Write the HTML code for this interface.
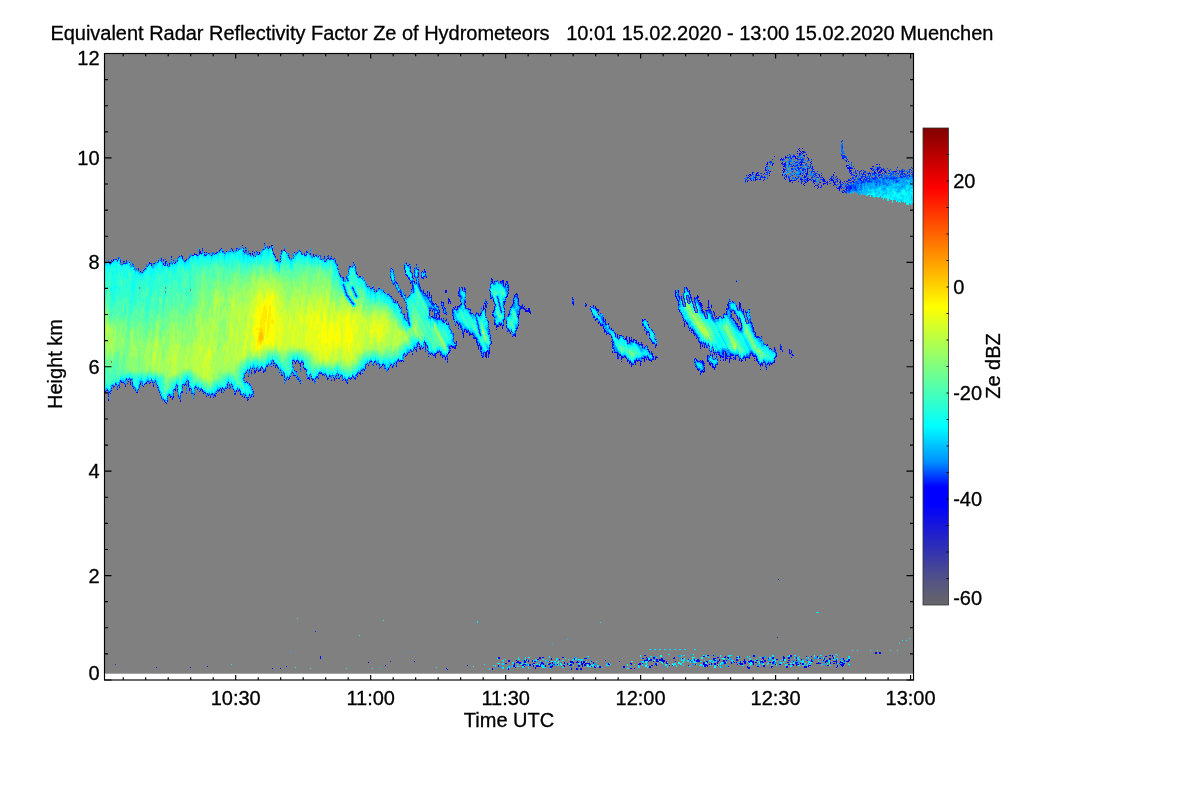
<!DOCTYPE html>
<html lang="en"><head><meta charset="utf-8"><title>Equivalent Radar Reflectivity Factor Ze of Hydrometeors</title>
<style>html,body{margin:0;padding:0;background:#fff}body{width:1200px;height:800px;overflow:hidden}svg{display:block}</style></head>
<body>
<svg width="1200" height="800" viewBox="0 0 1200 800"><defs><linearGradient id="cb" x1="0" y1="0" x2="0" y2="1"><stop offset="0.0000" stop-color="#800000"/><stop offset="0.1250" stop-color="#ff0000"/><stop offset="0.3750" stop-color="#ffff00"/><stop offset="0.6250" stop-color="#00ffff"/><stop offset="0.7000" stop-color="#0090ff"/><stop offset="0.7522" stop-color="#0000ff"/><stop offset="0.7889" stop-color="#0000ff"/><stop offset="0.8667" stop-color="#2828c0"/><stop offset="0.9500" stop-color="#545484"/><stop offset="1.0000" stop-color="#666668"/></linearGradient><!--DEFS--></defs>
<rect x="105" y="54" width="808.5" height="619.7" fill="#808080"/>
<g fill="none" stroke-width="1" shape-rendering="crispEdges"><path stroke="#3434b0" d="M115.5 664v1"/>
<path stroke="#2828c0" d="M156.5 667v1"/>
<path stroke="#1d1dd2" d="M190.5 667v1m17-2v1"/>
<path stroke="#1111e4" d="M784.5 164v1"/>
<path stroke="#0606f6" d="M272.5 668v1m8-1v1m88-7v1m35-302v1m3-42v1m1-56v1m2-2v1m0 30v1m3-23v1m2 2v1m0 384v1m2-311v1m1-6v1m1-4v1m2-57v1m1 2v1m10 17v1m0 7v1m1-7v1m1-8v1m0 13v1m1-5v1m0 1v1m2 1v1m3 0v1m0 32v1m6-62v1m1-1v1m0 377v1m1 0v1m1-372v1m0 2v3m1-5v1m1 1v1m0 1v1m0 44v1m2-39v1m0 36v1m3-42v2m0 39v1m1-39v1m1-2v1m2-4v1m1-2v1m0 21v1m2 3v1m3-26v1m1 2v1m0 23v1m1-1v1m2-24v1m0 23v2m7 4v1m1 3v1m2-29v1m2 36v1m2 0v1m2-49v2m0 2v1m0 43v2m4-5v1m1-16v1m0 2v1m1-60v1m0 62v1m1-64v1m0 2v1m4 43v1m6 1v1m2-27v1m1-19v1m2-4v3m0 11v2m1 363v2m0 6v2m1-10v2m3-357v1m1-3v1m3 26v1m1-37v2m0 32v1m0 332v2m1-365v1m0 15v1m0 3v1m0 342v2m1-351v1m0 349v2m1-358v1m0 355v2m4-356v2m0 351v2m1-2v2m1-355v1m0 1v2m0 347v2m3-351v1m0 1v1m1-1v2m2 350v1m7 1v1m1-2v2m2-10v1m1-1v1m6 5v2m1-2v1m3 0v1m1-1v1m16-4v2m0 1v1m1-1v2m0 3v1m7-8v1m3-2v4m1-2v2m0 1v1m1-4v1m1-6v1m3 4v1m1-1v1m1 1v1m2-5v1m0 4v1m5-358v1m1-1v1m6 11v1m1-1v1m1 338v1m3 2v2m3-329v2m1 6v1m5 7v1m0 1v1m2 0v1m0 305v1m2-305v1m6-17v1m2-4v1m0 2v1m4-2v1m1 327v1m1-329v1m1 19v1m2-19v1m1 1v1m1 16v1m4-4v2m0 1v1m0 293v1m1-1v1m1 1v1m1-312v1m1 2v1m0 9v1m0 301v1m1-2v1m1-301v1m0 298v2m1-301v1m1-8v1m1 307v1m2-305v1m1-1v1m0 302v2m1-2v2m2-3v2m1-2v2m1-3v2m1-2v1m2 1v2m2-1v1m3 3v1m6-376v1m0 3v2m0 365v1m3-361v2m1-7v2m5 28v1m3-37v1m1 368v1m1-368v2m1 1v1m0 364v1m1 0v1m4-328v1m1 0v1m0 324v2m1-365v1m0 62v1m0 299v2m1-2v2m1-2v2m1-318v1m1-41v3m1-2v1m0 1v1m0 3v1m0 33v1m0 15v1m1-51v1m0 49v1m0 1v1m1-17v1m0 15v1m0 1v1m1-56v1m1 354v1m1-359v1m0 47v1m0 3v1m0 301v2m0 2v2m1-364v2m0 1v2m1-1v1m0 55v1m2-58v2m1 59v1m1 287v1m2-339v1m5 38v1m3-1v1m0 2v2m0 299v2m1-2v4m1-312v3m0 1v1m0 305v2m1-353v1m0 1v1m2 344v1m1-297v1m2-8v1m2-38v2m0 37v1m1-38v1m0 341v1m1-342v1m0 1v1m0 33v1m1 301v2m1-2v2m2-358v4m0 1v1m1-4v1m0 1v1m0 21v1m1-21v1m1 1v1m1-2v2m6 45v1m1-3v1m2-30v1m1 1v2m0 25v1m0 299v2m1-301v1m0 298v2m1-324v2m0 1v1m0 325v1m1-1v1m4-2v2m1-2v1m2 0v1m1-490v1m3 190v1m5 292v2m1-2v2m0 2v2m1-316v2m0 312v1m2-308v1m7 304v2m1-496v1m4 498v1m1-316v1m0 1v1m0 1v1m0 310v1m2-314v1m0 5v1m2-3v1m0 309v1m2-4v2m1-7v2m0 1v1m0 1v2m1-513v1m3 511v1m2-513v1m0 511v2m6-485v1m0 484v2m1-4v1m0 1v1m1-1v1m6-3v1m3-1v1m1-1v1m3-4v1m7 1v2m2-9v2m1 0v2m3 0v1m1 5v2m2-4v1m3 2v1m1-9v2m1 3v1m4-4v2"/>
<path stroke="#0000ff" d="M105.5 262v1m2-1v1m0 127v1m2-129v1m0 129v1m1-130v1m0 129v1m1-134v1m0 129v1m1-130v1m1-3v1m2 124v1m1-1v1m1-125v1m0 128v1m2-3v1m1-7v1m1 0v1m1-1v1m1-122v1m0 120v1m1 0v1m2-5v1m2 1v1m1-120v1m1 121v1m1-6v1m2 8v1m3 3v1m2-4v1m2-6v1m2-113v1m0 112v1m1 0v1m1-3v1m1-117v1m0 114v1m1-1v1m1-118v1m1 114v1m1-120v1m0 120v1m1-121v1m2 118v1m2-120v1m0 118v1m3 4v1m6 11v1m1-135v1m1 136v1m1 0v1m1-3v1m4-146v1m1 142v1m2-137v1m1 126v1m4-135v1m1 144v1m4-141v1m1-2v1m1-2v1m3 130v1m6-137v1m0 132v1m1-1v1m1-133v1m3-5v1m0 138v1m1-2v1m3-138v1m1 2v1m1-4v1m0 143v1m2-144v1m0 141v1m3-141v1m3 139v1m1-143v1m0 142v1m1-4v1m3-144v1m0 139v1m1-142v1m0 138v1m1-141v1m1 2v1m2 138v1m2-140v1m0 136v1m1-2v1m4-140v1m0 135v1m1-136v1m4-2v1m0 142v1m3-2v1m1 3v1m2-150v1m3 1v1m0 125v1m0 8v1m0 12v1m1-24v1m1 27v1m1-25v1m0 22v1m1-147v1m0 141v1m1-143v1m0 131v1m0 11v1m2-147v1m1 3v1m0 135v1m0 4v1m1-145v1m1 3v1m3-3v1m1 115v1m1-1v1m3 1v1m3-7v1m1-1v1m2-121v1m2-2v1m3 117v1m2 1v1m1-107v1m1 108v1m3-119v1m0 124v1m1-1v1m3-125v1m0 128v1m1 285v1m2-288v1m1-2v1m4-19v1m0 14v1m1-124v1m0 108v1m0 8v1m0 4v1m1-1v1m1-5v1m0 5v1m1-126v1m1 109v1m0 16v1m1-17v1m0 17v1m1-131v1m1 110v1m2 4v1m2 1v1m1-119v1m1 126v1m1-1v1m1 0v1m3 0v1m1-127v1m0 124v1m1-124v1m2 120v1m2-122v1m2 399v3m1-400v1m0 113v1m3-118v1m1 4v1m0 112v1m1-116v1m0 116v1m1 2v1m1-2v1m1-3v1m2 3v1m2-122v1m1 120v1m2-3v1m4-104v1m1 99v1m1 4v1m1-104v1m0 101v1m2 0v1m4-3v1m1-113v1m1 111v1m1-3v1m1-115v1m1 115v1m2-4v1m1-102v1m0 101v1m2-4v1m1-98v1m3 92v1m1 0v1m3-85v1m1 78v1m1-4v1m1-2v1m2-75v1m2 74v1m1-2v1m1 2v1m2-2v1m1-76v1m1 78v1m1-2v1m1-2v1m3 2v1m0 296v1m2-372v1m3 1v1m0 68v1m1-86v1m1-12v1m0 97v1m1-84v1m0 14v1m1-17v1m0 18v1m0 60v1m3-81v1m0 17v1m1 58v1m1 0v1m1-68v1m1 1v1m0 10v1m1-12v1m2-2v1m3-20v1m1-12v1m2 1v2m0 14v1m1 5v1m1-14v1m0 77v1m2-85v1m0 4v1m0 5v1m0 66v1m2-69v1m0 1v1m0 64v1m1-79v1m1 3v2m1 69v1m0 1v1m0 1v1m1 0v1m1-78v1m0 4v1m0 68v1m1-76v1m0 76v1m1-77v1m0 18v2m2-22v1m2 19v2m1 63v1m1-65v1m0 1v2m0 14v1m2-16v1m0 4v1m0 52v1m2 1v1m1-52v1m1-2v1m0 50v1m0 1v1m1-53v1m0 11v1m1-11v1m1 45v1m1-41v1m1 42v1m1-54v1m0 2v1m0 48v1m1-53v1m0 4v1m1-6v1m0 2v1m0 3v1m0 8v1m0 2v1m1-15v1m1-17v2m0 20v1m0 6v1m0 36v1m0 1v1m1-46v1m0 4v1m0 36v1m1 2v1m0 1v1m1-39v1m0 28v2m1-54v2m2 43v2m1-36v1m0 3v1m1 0v4m0 18v1m0 7v2m1-27v1m0 26v1m1-24v1m0 20v1m1-25v1m0 18v1m0 3v1m1-40v1m0 2v1m0 13v1m1-31v1m0 1v1m0 10v1m1-1v1m0 17v1m1 0v1m0 1v1m1-25v1m0 25v1m1 3v1m1-1v1m0 1v3m1-50v2m0 40v1m1-42v1m0 11v2m0 3v2m0 21v1m1 0v2m1-1v1m0 333v1m1-336v2m1 3v1m1-2v1m1-22v1m0 20v1m1-22v1m0 20v1m1 0v1m0 1v1m1 0v1m2-1v1m0 2v1m2-28v2m1 29v1m1-32v1m0 32v1m0 1v1m0 1v1m1-1v1m0 1v1m0 1v1m1 1v1m1-52v3m0 47v1m1-54v1m1 8v1m0 42v2m1-56v1m0 3v1m0 48v2m1-53v1m0 16v1m0 30v1m1 0v2m0 2v1m1-28v1m0 18v1m0 4v1m1-60v2m0 2v1m0 38v1m1-60v1m0 2v1m0 16v1m0 42v1m0 1v1m1-63v1m0 15v1m0 14v1m0 355v2m1-369v1m0 8v3m0 3v1m1-14v1m0 3v1m0 1v1m0 7v1m0 5v2m1-1v1m1-44v1m0 43v1m0 1v1m1-3v2m1-1v1m0 338v2m1-343v1m1-1v1m1-1v1m1-44v1m0 43v1m1-44v1m0 1v1m0 36v1m1-3v1m1-21v1m0 1v1m1-21v1m0 15v1m0 27v2m1 4v1m1-45v1m0 1v2m0 39v1m1-19v1m0 1v1m0 16v1m1-25v1m0 1v1m1 21v1m2-34v1m0 3v1m0 32v1m0 329v2m1-372v1m0 1v1m0 37v1m0 327v4m1-373v1m0 36v1m0 4v1m1 325v1m1-336v1m1-28v2m0 15v1m0 7v1m1-21v1m0 3v1m0 3v1m2-8v1m0 1v1m3 357v1m3-357v2m1-3v1m0 1v1m0 348v2m1-353v1m0 354v2m1-2v2m3-3v1m1-1v1m1 3v2m1-4v2m1-2v2m1-2v2m1-10v2m1-2v2m0 5v1m3-2v2m2 0v2m4-6v1m2-4v2m1 2v2m7-5v1m5 6v1m3-4v2m4 3v1m1-372v1m0 5v1m1 0v1m1 353v2m2 2v1m0 5v2m1-8v1m0 5v2m3-2v2m1-2v2m3-6v2m1-360v1m0 357v2m1-362v1m3 358v1m1-355v1m2 4v1m2 2v1m0 348v2m1-361v1m0 12v1m3-10v1m0 2v1m0 8v1m1-3v2m0 343v2m1-343v1m0 340v2m1-343v1m1-2v2m1-7v2m0 5v1m0 1v1m1 1v1m1-12v1m0 4v1m0 5v1m1-7v1m0 7v1m0 1v1m1-2v1m1-1v1m1 0v1m0 329v1m1-331v1m1 6v1m1 0v1m0 3v1m1-17v1m0 17v1m1 3v1m1-19v1m0 17v1m1-1v1m1-19v1m0 2v1m1 20v1m1-24v1m0 1v1m0 16v1m1-20v1m0 18v2m1 0v1m0 1v2m0 1v1m2-5v1m1-2v1m1-19v1m0 17v2m1-22v2m1 2v1m0 20v1m1-2v1m1-21v1m0 1v1m0 20v1m1-3v2m0 305v1m1-332v1m0 1v3m0 21v2m0 1v1m0 301v1m2-305v1m1-26v1m0 22v1m1-2v2m0 1v1m1-25v1m0 1v1m1 17v1m1 303v1m1-2v2m1-321v1m0 18v2m0 298v2m1-321v1m1-20v1m0 18v2m0 1v1m0 10v1m0 304v1m2-345v1m0 27v1m1-20v1m0 17v1m0 10v1m1 1v1m0 299v2m1-340v1m0 10v1m0 24v1m0 301v2m1-329v1m0 24v1m1-31v1m0 10v1m0 20v2m2-32v1m0 11v1m0 19v1m1-8v2m0 3v1m1-17v1m0 15v1m0 297v2m1-316v1m0 313v2m1-320v1m0 7v1m0 10v1m1 306v1m1-309v1m5 301v1m0 1v1m1-2v3m3-1v2m6 1v1m1-8v1m1-2v2m1-363v1m1-1v1m1 2v1m1-10v3m0 7v1m0 3v2m1-8v1m0 11v1m2-15v1m2 0v1m0 22v1m1 0v1m1-2v1m1-34v2m0 33v1m1-34v1m1 37v1m0 337v1m1-336v1m1-3v1m1-32v1m0 1v1m0 30v1m1-30v1m0 28v1m1-1v1m0 1v2m1-37v1m0 37v1m0 26v1m0 296v2m1-303v1m1-21v1m0 20v1m1-65v1m0 41v1m0 31v1m0 289v1m1-364v2m0 2v1m0 37v1m0 2v1m0 28v1m0 288v1m1-318v1m0 26v1m1-66v2m0 36v2m0 4v1m0 25v1m1-72v1m0 4v1m0 63v1m1-64v2m0 60v1m1-10v1m0 2v1m0 290v1m0 7v1m1-319v1m0 20v1m0 3v1m0 284v1m0 7v3m1-323v1m0 321v1m1-357v1m0 36v1m1 8v1m0 4v1m1-17v1m0 15v1m1-52v1m0 53v1m0 299v1m1-300v1m1-61v1m0 45v1m0 11v1m1-17v1m0 7v2m0 6v1m1-53v1m0 54v1m1-54v1m0 1v1m0 37v2m0 14v1m0 290v1m1-309v1m0 13v1m0 293v1m1-297v1m1-6v1m0 297v1m0 3v1m1-308v1m0 302v1m0 3v1m1-346v1m0 38v1m0 303v2m1-304v1m0 2v1m1-44v1m0 38v1m1-1v1m1-41v1m0 37v1m0 2v1m1-45v1m0 343v1m1-301v1m0 1v2m1-53v1m0 3v1m0 1v1m0 40v1m0 304v1m1-305v1m0 1v1m1-55v1m0 1v2m0 358v1m1-368v1m0 58v1m1-4v1m0 2v1m1-44v2m1-16v1m0 8v1m0 7v1m1-17v1m0 52v1m0 3v1m1-48v1m1 0v1m0 42v1m0 1v2m1-37v1m0 333v1m1-342v1m0 1v1m0 5v1m0 30v1m0 301v1m1-331v1m1-21v1m0 10v1m0 40v2m0 295v2m0 5v1m1-361v1m0 18v1m0 35v1m0 302v2m1-339v1m0 3v1m0 334v2m1-305v1m0 302v2m1-356v1m0 2v1m0 348v1m1-305v1m0 301v3m1-304v1m0 302v1m1-487v1m0 136v1m0 44v1m1-1v1m0 308v2m2-359v1m0 352v1m1-484v1m0 141v1m0 338v2m1-482v1m0 142v1m0 29v1m0 306v2m1-307v1m0 305v2m1-336v1m0 2v2m0 329v4m1-307v1m0 1v1m1-183v1m0 156v1m0 20v1m1 0v1m0 1v1m1 1v1m0 304v1m1-305v1m0 303v1m2-488v1m0 184v2m1-30v1m0 26v2m1 0v1m0 291v2m1-479v1m0 181v1m0 294v2m2-489v1m0 193v1m0 1v1m1-203v1m0 1v1m0 178v1m0 23v1m1-207v2m0 179v1m2 19v1m0 297v1m1-492v1m0 176v1m0 14v1m0 298v1m1-314v1m0 14v1m1-2v1m0 302v1m1-305v1m1-14v1m0 11v2m1-13v1m0 6v1m0 306v1m1-312v1m0 1v2m2 222v1m1 84v1m1-319v1m0 2v1m0 314v1m2-491v2m0 175v1m1-188v1m0 1v1m0 2v1m0 1v1m0 484v3m1-2v2m1-503v2m0 21v1m1-4v1m0 489v2m1-6v1m0 3v2m1-8v1m0 1v1m1-483v2m0 478v1m1-308v1m0 301v2m1-2v2m1-475v1m0 481v1m1-1v1m1-509v1m1-1v2m1 0v1m1-6v1m0 508v1m0 1v1m1-1v1m3-485v1m1-33v1m1 2v2m1 23v2m0 7v1m1-5v1m1-28v1m1 505v1m1-503v2m3 20v1m0 475v1m0 2v3m1-496v1m0 494v1m1-481v1m1 4v1m3 476v1m1-2v2m1-488v1m4 3v1m0 2v1m1-5v2m0 477v2m1-479v1m0 474v1m0 4v2m1-481v1m0 473v1m4-479v1m1 0v1m1 0v1m1 0v1m0 479v1m0 1v1m1-3v1m0 1v1m1-3v1m1-2v4m0 3v1m1-480v1m3-3v2m0 473v2m0 1v1m1-1v2m1-3v1m1-1v1m1-4v2m2-481v1m2 477v1m1-492v2m0 489v2m1-493v1m25 483v2m1-2v2m3-2v2m1-2v2"/>
<path stroke="#0000ff" d="M105.5 391v1m3 4v1m0 2v2m3-13v1m1-4v1m1-126v1m2 122v1m3-126v1m0 126v1m2-6v1m3-118v1m2 122v1m5-5v1m2-1v2m0 2v1m3 3v1m2 1v1m1-124v1m2 1v1m0 111v1m3-114v1m3 111v1m1-2v1m2-119v1m1 118v1m1-119v2m2 119v2m4-2v1m2 6v1m2-135v1m2 1v1m0 2v2m1 135v2m1-140v2m1-3v1m1 3v1m0 130v1m0 3v1m2-138v1m0 130v1m1 1v2m1-2v1m2-1v2m1-9v1m1-128v1m0 126v1m2-1v1m1 5v2m1 1v1m1-6v1m0 6v1m1-9v1m1-137v3m0 128v1m0 3v2m2-8v1m1-2v1m1-4v1m2-1v1m0 1v4m1 1v2m1-2v1m2-134v1m1-1v1m1-2v1m0 133v1m0 5v1m1-9v1m1-133v1m1 134v1m2-138v2m1-2v1m1 0v1m1 136v2m1 1v1m1-2v1m3 0v1m4 0v1m1-2v2m1 2v1m1-4v1m1 0v1m2-144v1m2 136v1m2-1v2m0 1v1m1-6v2m5-5v1m1-3v1m1 5v1m3-139v1m0 135v1m1-136v1m0 137v1m1 1v1m0 1v1m1-1v1m1-144v1m0 139v1m3-2v1m1 1v1m2 4v1m1-149v1m0 144v1m1-142v1m0 124v1m0 19v1m1-148v1m1 130v1m0 15v1m1-28v1m0 11v1m1 14v1m1-28v1m0 13v1m0 9v1m2-23v1m0 23v1m1-144v2m0 113v1m0 20v1m0 4v1m2-25v2m1-1v2m1-3v1m1-119v1m1 117v2m1-120v2m1 114v2m1-3v1m1 0v1m1-120v1m0 121v1m1-129v1m1 3v1m0 120v3m3-123v1m1-2v1m2 115v1m1-119v1m0 2v3m1 2v1m0 107v1m0 1v1m0 1v1m1-112v1m1 1v1m0 110v1m1-108v1m0 103v1m1-105v1m3-5v1m0 4v1m0 108v1m1-118v1m3-4v1m0 125v1m0 2v1m4-125v1m2 120v1m2-15v2m0 8v1m3-11v2m1-3v1m1-2v1m0 15v1m1-16v1m2 1v1m0 1v1m0 14v1m0 2v1m1-131v1m0 107v1m1-108v1m0 107v1m1 0v2m1 3v1m1-114v1m1-2v1m0 116v1m0 2v1m1-123v1m1 124v1m2-125v1m1 122v1m1 2v1m1-125v1m2 122v1m2-3v1m1 1v1m1-6v1m1-1v1m1-2v1m1 1v1m1-1v1m4 3v1m1-121v1m1 0v1m0 115v1m1-118v1m1-1v1m2 118v1m1-120v1m0 119v2m1-120v2m0 114v1m1-2v1m1-111v1m1 108v2m0 2v1m1-106v1m1 2v1m3 2v1m4 102v2m1-113v1m1-6v1m1 112v1m5-114v1m0 111v1m1-107v2m1 99v1m2-98v1m1 95v3m1-5v1m4-4v1m5-80v1m1 72v1m3-1v1m2-71v1m3 72v1m3-1v1m1-74v1m0 72v1m1-73v1m0 72v1m4-72v1m0 73v2m2-99v1m0 5v1m1-10v1m0 27v1m0 67v1m1 1v1m1-96v1m0 93v1m1-89v1m1 3v1m0 3v1m0 14v1m1-19v1m0 79v2m0 2v1m1-65v1m1 56v1m1-54v1m1-15v1m0 15v1m0 51v1m1-1v2m1-2v1m1-47v1m0 40v1m1-91v1m0 1v2m0 31v1m0 13v1m0 2v1m0 35v1m1-84v3m0 1v1m0 81v1m1-94v1m0 11v1m0 33v1m0 45v1m1-81v1m0 38v1m0 38v1m1-76v1m1 0v1m1-9v1m0 10v1m0 67v1m1-79v1m0 8v1m0 69v1m1-75v1m0 7v1m1-8v1m0 70v1m1-68v1m0 64v1m1 1v1m1-86v1m0 18v1m0 66v1m1-74v1m1-9v1m0 6v1m1 8v2m1 2v2m0 57v1m1-74v1m1 1v1m1 0v1m0 68v1m1-79v1m0 1v1m0 4v1m0 16v1m0 48v1m1-71v1m0 1v1m0 68v2m1-68v1m1 17v1m0 51v1m0 2v1m1-54v1m0 53v1m1-59v1m0 14v1m0 4v2m1-18v1m0 12v1m0 43v1m1-58v1m0 1v1m0 1v1m1 1v1m0 12v1m0 37v1m1-46v1m1 4v1m0 40v1m1-3v1m0 3v1m1-45v1m0 1v1m0 37v1m1-41v1m0 4v1m0 33v1m1-46v1m0 4v1m0 1v1m1-5v2m0 3v3m2 1v1m1-12v1m0 46v1m0 1v1m1-55v2m0 5v1m1 2v1m0 8v1m0 33v1m1-49v1m0 49v1m1-68v1m0 20v1m0 10v1m1 30v1m0 3v1m1-60v1m0 24v1m1 21v1m0 1v1m0 2v2m1-24v1m0 20v1m2-42v1m0 2v1m0 33v1m1-40v1m1 0v1m0 38v1m1-3v1m0 2v1m1-28v1m0 20v1m1-36v1m0 14v1m1-31v1m0 31v2m0 2v1m1-40v3m0 4v1m1-1v1m0 4v1m1 2v1m1-17v2m1 44v1m1-31v1m0 24v1m0 1v1m1-41v1m3 17v1m1 22v1m1-24v2m0 2v1m2 19v1m3 3v2m1-26v1m0 26v1m0 1v1m1 1v1m1 0v1m0 1v2m1-5v1m1-32v1m0 34v1m1-1v1m1-39v1m1-2v1m1-2v1m1-6v2m0 5v2m0 40v1m1-51v1m0 4v1m0 43v3m0 2v2m1-8v1m1-30v2m0 31v1m1-65v1m0 42v1m0 17v2m1-69v1m0 2v1m0 3v1m0 4v1m0 47v1m2-31v2m1-17v2m0 14v1m1-35v1m0 26v1m0 1v1m0 11v1m1-19v1m0 18v1m1 5v1m2 327v2m1-2v2m1-378v2m0 42v1m1-45v1m0 41v1m1-44v1m0 46v1m1-48v2m0 1v1m0 1v1m0 19v1m0 14v1m0 3v2m1-25v1m0 1v2m0 3v1m0 2v1m0 2v1m0 1v1m1-32v1m0 377v1m1-368v1m0 24v3m0 3v1m0 335v1m1-377v1m0 6v1m1-10v1m0 7v1m0 20v2m0 13v1m2 3v1m1-28v1m1-3v1m0 31v1m1-37v2m0 32v1m1-39v1m1 37v2m0 331v1m1-375v2m0 33v1m0 331v1m1-364v1m0 16v1m0 1v1m1-18v1m0 15v2m0 5v1m0 1v1m1-11v1m1-7v1m1-2v1m1-3v1m0 359v1m1-359v2m0 355v2m1-360v1m0 353v1m0 3v1m1-356v3m0 352v1m3-357v1m0 1v1m1-3v1m0 2v1m3 348v2m1 3v2m1-6v1m1-1v1m2-3v1m1-1v1m3 2v2m1-2v2m6 0v1m2 1v2m1-2v2m1-3v2m5-3v1m5-8v1m1-1v1m0 7v1m1-4v2m0 1v1m5-1v1m1-1v1m1-5v2m1-364v1m0 361v2m1-364v1m0 2v2m0 358v2m4-3v1m1 3v2m1-2v2m3-2v1m1-5v2m1-2v2m1-360v1m0 1v1m0 352v1m0 4v1m1-359v1m0 352v1m0 4v1m3 0v1m1-359v1m0 357v1m1-354v1m2-7v2m0 10v1m0 344v2m1-348v1m1-11v1m0 12v1m0 347v1m1-360v1m0 1v1m0 8v1m1-10v1m0 7v1m1-10v2m0 11v1m2 1v1m3-8v2m0 8v1m1 1v1m0 1v1m1-12v1m0 1v2m0 7v1m3-9v2m1 2v2m2-1v2m1 0v1m0 8v2m0 10v2m1-11v1m0 1v1m1 5v1m1-18v1m0 1v2m2-1v1m0 16v1m0 1v2m0 1v1m4-24v1m1 21v1m1-20v1m0 327v2m1-2v2m1-329v1m1-2v2m0 18v1m1-16v1m0 16v1m2-24v1m0 1v1m0 22v1m1-23v1m0 322v1m1-299v1m0 297v2m1-324v1m0 22v1m1-26v1m0 1v1m1 19v1m1-20v1m1-2v1m0 17v1m2-17v1m0 16v1m1-1v1m1 4v1m1-24v1m0 18v1m1-43v3m0 2v1m0 333v1m1-339v1m0 3v1m0 33v1m0 299v1m1-332v1m0 29v1m0 2v1m0 299v2m1-2v1m1-330v2m0 1v1m1 14v1m0 308v1m1-335v2m0 5v1m0 26v1m1-25v2m0 15v2m0 313v2m1-329v1m0 326v2m1-315v1m0 305v2m0 4v1m1-336v1m0 11v2m0 12v1m0 308v1m1-310v2m2-13v1m0 13v1m0 303v2m1-321v2m0 313v1m0 3v2m1-6v1m1 1v1m3-2v1m1-1v1m5 2v1m8-373v3m1-2v1m0 4v2m1 1v1m1-5v1m0 12v1m1 1v1m2-14v1m0 14v2m1 0v1m0 1v1m0 340v1m2-370v1m0 1v2m0 30v3m1-5v1m1 1v1m1-1v2m2-35v2m1 2v1m0 1v2m0 29v1m1-28v1m0 31v1m1-4v1m1 1v1m1-34v1m0 1v1m0 32v1m0 25v1m1 6v1m0 297v1m1-368v1m0 62v1m1-65v1m0 1v1m0 62v1m1-61v1m0 67v1m1-70v1m0 1v1m0 1v1m0 36v1m0 19v1m1-60v2m0 2v1m0 38v2m0 13v1m0 10v1m0 1v1m1-64v1m0 32v1m0 17v1m0 9v1m1-60v1m0 33v1m0 13v1m0 1v2m0 6v1m1-29v1m0 21v1m0 4v1m0 1v2m0 289v2m1-296v1m0 1v1m0 291v2m1-321v1m0 320v2m1-5v1m0 2v1m1-355v1m0 46v2m0 1v1m0 294v1m1-356v3m0 57v1m0 294v1m1-310v1m0 3v1m0 11v1m1-8v1m0 7v2m1 298v2m1-301v3m1-17v1m0 1v1m0 14v1m0 290v2m1-346v1m0 52v2m0 289v2m0 3v2m1-307v1m0 6v1m0 1v1m0 290v1m0 4v2m1-349v1m0 1v1m0 35v1m0 1v1m1-39v1m0 33v1m0 7v1m0 3v1m0 297v2m0 1v1m1-349v2m0 33v1m1 1v1m1 0v1m2-3v1m0 3v1m1-41v1m0 34v2m2-3v1m0 3v1m0 2v1m0 297v2m1-349v1m0 44v1m0 3v1m1-55v2m0 351v1m1-356v2m0 1v1m0 2v1m0 348v1m1-357v1m0 54v1m0 2v3m1-51v1m0 42v1m0 2v1m1-47v2m0 1v1m0 39v1m0 3v1m0 303v2m1-309v1m1-46v1m0 9v1m0 340v1m1-349v1m0 44v1m1-37v1m0 32v1m1-75v1m0 24v1m0 8v1m0 39v1m0 306v1m1-355v2m0 7v1m0 5v1m0 2v1m0 337v1m1-345v1m0 5v1m0 1v1m0 27v1m1-55v1m0 23v1m1-23v1m0 1v1m0 13v2m0 6v1m0 334v2m1-355v1m0 12v1m0 1v1m0 34v2m2-5v2m1 303v2m1-483v1m0 175v1m0 1v2m0 301v2m2-483v1m0 174v1m1-182v1m0 1v1m0 179v1m0 303v1m0 5v2m1-495v1m0 1v1m0 135v1m0 45v1m0 302v1m0 5v2m1-495v2m0 146v1m0 30v1m1-32v1m1-151v2m0 151v1m0 27v2m1 1v1m1-2v1m1-179v1m0 1v2m0 151v1m1-160v3m0 3v1m0 157v1m0 18v1m0 1v1m0 1v1m0 299v1m1-489v2m0 1v1m0 160v1m0 22v2m0 299v1m1-486v1m0 161v1m0 23v1m0 1v1m1-185v1m0 157v1m1 31v1m2-6v1m0 296v2m1-4v1m0 5v2m1-490v1m0 184v1m0 297v2m0 3v2m1-500v1m0 1v1m0 490v2m1-492v1m0 1v1m0 194v1m1-206v1m0 182v1m0 17v1m1-194v1m0 192v1m0 294v1m1-486v1m0 1v1m0 172v1m0 16v1m2-3v1m0 302v2m1-504v2m0 496v2m1-501v1m0 499v1m1-508v1m0 194v1m0 6v1m0 1v1m1-9v1m1 306v1m1-1v1m3-501v1m0 188v1m1-191v1m0 4v1m0 182v1m0 2v1m1-191v1m0 2v1m0 1v1m0 5v1m1-3v1m0 3v1m1-10v1m0 2v1m0 2v2m0 7v1m1-15v1m1-8v1m0 17v1m2 481v2m1-496v1m0 15v1m0 170v1m0 1v1m0 304v2m1-479v2m1-24v1m0 21v1m0 171v1m1-187v1m0 187v2m1-200v1m0 8v1m0 495v1m1-482v1m1-23v1m0 18v1m0 2v1m1 483v2m1-508v1m1-10v1m0 17v1m0 13v1m1-34v1m0 1v1m0 2v2m1-4v1m0 1v1m0 8v1m0 1v2m0 7v2m0 4v1m1-28v1m0 9v3m0 14v1m0 3v1m0 475v1m1-507v1m0 16v1m0 4v1m0 3v1m1-25v1m0 13v1m0 14v1m0 478v2m1-510v1m0 27v1m0 482v2m1-492v1m0 5v1m0 483v2m1-495v3m0 480v1m0 9v2m1-511v1m0 10v2m0 1v3m0 4v4m2-3v1m1-18v1m0 16v1m1-19v1m0 1v1m1 3v1m1 12v1m0 1v1m1-2v1m0 1v1m1 1v1m2-1v1m0 2v1m0 467v2m1-474v1m0 1v2m1-13v1m0 482v1m1-477v1m0 4v1m0 470v1m1-484v1m0 9v1m1-9v1m1 0v2m0 1v1m0 2v1m1-4v1m0 1v1m1-1v1m1 476v2m1-480v1m0 1v1m0 475v2m0 3v1m1-1v1m1-487v1m0 475v1m0 2v2m1-5v1m0 2v2m1-482v1m0 1v1m1-5v1m0 2v1m1-6v2m0 4v1m0 1v1m0 2v1m1-14v1m0 9v3m1-1v1m1-9v1m0 2v1m1-2v1m0 1v2m1 6v1m1-7v1m0 3v5m1-10v2m0 2v1m1 0v1m0 1v1m0 473v1m1-505v1m0 33v1m0 469v1m0 1v2m1-508v1m0 31v1m0 1v1m0 471v2m1-485v1m0 9v1m2-31v1m0 3v2m0 20v3m0 471v1m1-481v1m0 6v1m0 472v1m1-501v1m0 6v1m0 11v1m1-14v1m0 2v1m1-4v1m0 2v2m0 1v1m0 6v1m0 5v3m1-21v1m0 3v1m0 14v2m1-21v1m0 12v1m1-1v2m1-8v1m2-3v1m0 1v1m4 3v1m1-10v1m0 9v1m2-8v1m2 3v1m3-5v1m1-1v1m1-6v1m1-1v2m1-4v1m0 1v1m1-3v1m0 11v1m1-8v3m1-2v1m1-9v1m1-1v1m0 3v3m1-3v2m0 2v1m1-9v1m0 6v2m0 2v1m1-6v1m0 1v1m1-4v3m1-3v1m1 0v1m1 0v1m1-1v2m9-2v1m1-1v1m1-1v1m6-1v1"/>
<path stroke="#0034ff" d="M106.5 390v1m1-2v1m1 2v4m1-133v1m1 127v1m3-6v2m1-2v1m1-128v1m1-1v1m1 126v1m2-2v1m1-126v3m1 118v1m1-118v1m2-4v1m0 1v1m1-1v1m0 120v2m1-126v4m0 114v1m1 4v1m1-5v1m1-2v1m1 0v2m0 2v1m2 0v1m1-121v1m0 1v1m1 120v1m3 2v1m1-123v1m1 116v1m0 1v1m3-5v1m2-115v1m4-5v1m3-3v1m0 115v2m2-118v1m0 120v1m2-5v2m1 2v1m1-123v1m1-3v2m0 125v1m0 1v2m2-131v1m0 133v2m1-137v1m0 1v1m0 135v2m2-140v1m2-1v1m0 1v1m0 2v2m2-2v1m0 133v1m1-4v1m1-132v1m0 130v1m2-139v1m0 1v1m1 3v1m0 133v2m1-139v1m0 132v1m2-8v1m0 1v1m1-5v2m1-126v2m0 123v3m0 2v2m1-135v1m2 137v2m1-142v1m0 135v1m1-8v1m1-1v1m2-2v1m1 1v1m0 7v1m2-12v1m1-126v1m2 131v1m0 3v1m1-1v1m2-141v1m4 133v1m1-139v3m0 2v1m0 136v1m1-139v1m0 135v1m2-142v3m0 138v1m1 1v1m1-138v2m1 136v2m1-140v1m1 139v1m2-1v1m1 1v2m2-144v1m1-2v1m1 0v1m1 138v1m1-142v2m0 137v1m1-2v1m1-1v2m1-141v1m2 139v1m2-141v1m0 137v1m0 2v1m1-140v1m1 133v2m2-4v1m2-2v2m1-135v1m0 135v1m4 6v1m1-1v1m2-147v1m0 139v1m1-140v1m0 140v2m1-143v1m1 142v2m1 0v1m2-145v2m1 123v1m0 20v1m1-146v1m1-2v1m1 146v3m1-149v1m1 117v1m0 2v1m0 10v1m1-130v2m0 112v1m1 1v1m0 2v1m0 13v1m0 6v2m2-4v2m1-26v1m0 3v2m2-123v1m0 116v2m5-4v1m1 0v1m2 2v2m3-126v2m0 117v1m1-2v1m2-1v1m1-119v1m0 115v1m0 3v1m2-115v1m0 1v1m0 105v1m1-106v1m1 1v1m0 2v1m0 104v2m2-1v2m2 4v1m1-115v2m1-9v1m0 120v1m0 1v1m2-125v1m1-2v1m0 123v3m0 1v1m2 0v2m1-3v1m2-121v2m0 118v1m2-5v1m1-14v1m1-106v1m0 111v1m0 5v1m2-120v1m1-2v1m0 106v1m1 18v1m1-2v1m1-129v1m1 113v1m0 1v1m0 1v2m4-117v3m0 113v1m1-2v1m1-117v1m0 117v1m3 4v1m0 1v2m1-125v1m0 119v1m1 3v1m2-123v1m1 123v2m1-127v1m0 125v1m0 249v1m1-377v2m1 120v1m1-3v1m1-4v1m1-117v1m2 118v1m2-119v2m0 2v1m0 113v1m2-1v1m1-120v1m0 1v1m0 118v1m1-123v1m0 1v1m2 1v1m0 116v1m1-121v1m1 2v1m0 115v1m3-114v1m2 1v1m0 3v1m1 0v1m1 4v1m0 103v1m1-3v1m2-100v1m0 98v1m1-99v1m0 1v1m0 3v3m1-1v4m0 88v1m1-90v4m0 86v1m1-104v3m0 13v4m0 85v2m1-105v3m0 14v2m0 82v2m1-101v1m0 15v2m0 79v2m1-112v1m0 30v2m1-1v2m1 0v2m0 74v1m1-112v1m0 20v2m0 13v2m0 71v1m1-88v3m0 12v2m0 71v2m1-114v2m0 25v2m1-26v2m0 24v3m0 79v1m0 1v1m0 1v1m1-85v2m0 77v1m1-1v1m1-3v1m4-3v1m0 2v1m2-94v1m0 88v1m1-5v2m0 1v1m1-85v1m0 79v1m1-2v1m2-78v1m2 1v1m1 75v1m1-78v1m0 75v1m0 1v1m1-77v1m0 1v1m2-2v1m2-3v1m1 76v1m0 2v1m5-1v1m3 1v1m2-76v1m1-22v1m0 1v1m0 384v1m2-381v1m0 16v1m1-16v1m1-5v1m0 2v1m1 18v2m1-20v1m0 4v1m0 76v1m1-6v2m1-77v1m0 5v2m0 11v2m1-15v1m0 15v1m1-19v3m1 0v4m0 16v1m1-18v1m1 2v1m0 55v1m1-89v1m0 2v1m0 46v1m1-22v1m0 6v1m1-29v1m0 29v1m0 1v3m1-12v1m0 14v2m0 1v4m0 35v1m1-78v1m0 18v1m0 20v7m0 28v1m1-75v1m0 43v4m0 26v1m1-87v1m0 3v1m0 9v1m0 68v1m1-68v1m0 8v1m1-17v1m0 4v5m0 1v3m0 62v1m0 1v1m1-73v1m0 3v8m0 57v1m1-83v1m0 2v2m0 1v1m1 2v1m1-11v2m0 10v1m0 69v1m1-6v2m1-76v1m0 1v1m0 2v1m0 3v1m0 1v1m0 1v2m0 57v1m1-59v1m0 3v1m1 58v1m1-72v1m0 14v1m0 53v1m1-68v1m1-3v2m0 12v1m0 2v1m1-24v1m0 24v1m0 45v1m1-67v2m0 16v3m0 46v1m0 2v5m0 1v1m1-76v1m0 18v2m0 48v1m1-52v1m0 1v3m0 46v2m1-49v2m0 53v1m1-57v1m0 2v2m0 9v1m0 3v1m0 37v1m1-53v2m0 5v1m0 44v1m1-58v1m0 6v2m1-3v1m0 1v2m0 5v1m0 5v1m0 35v1m1-50v3m0 1v1m0 9v1m1-12v1m0 1v4m0 3v3m0 35v1m1-47v2m0 7v2m0 36v1m1-50v1m0 2v2m0 3v1m0 4v1m1-10v3m0 6v1m0 31v1m1-46v1m0 2v1m0 3v1m0 3v2m1-5v1m0 4v1m1 32v3m1-54v1m0 1v1m0 14v1m1-14v1m0 14v2m0 34v1m1-45v1m0 7v1m0 1v1m0 32v2m1-49v1m1 2v1m1-20v1m0 27v1m0 3v1m0 30v1m1-32v1m0 31v1m0 5v1m1-63v1m1 27v1m0 18v1m0 2v1m1-49v1m0 43v1m1-16v1m1-19v1m1-2v2m0 19v3m1-27v1m0 9v1m0 22v2m1-1v1m1-34v1m0 32v2m2-54v1m1-5v2m0 4v3m0 27v1m1-29v1m0 4v1m1-14v1m0 10v1m0 27v3m1-42v1m0 2v1m0 40v2m1-1v1m1-46v1m0 3v1m0 8v4m1-12v1m0 4v1m0 10v1m2-1v1m1-1v1m1 3v1m1-1v1m0 20v1m3-20v1m0 23v1m1-3v2m1-24v3m1-5v1m0 4v4m1-8v1m0 6v5m0 14v1m0 1v2m0 2v1m1-33v1m0 10v6m0 16v1m0 2v1m1-21v5m0 9v1m1-29v1m0 17v3m0 10v1m1-39v1m0 3v2m0 33v1m0 1v1m1 6v1m1-52v1m0 46v1m0 1v2m1-4v1m1-52v1m0 5v1m0 6v2m1-10v1m0 10v1m2 6v1m0 1v1m0 4v1m0 1v2m0 16v1m0 3v1m0 1v1m1-28v2m0 13v1m0 1v1m0 1v1m1-57v1m1-11v1m0 13v1m1-18v1m1 2v1m0 30v1m1-33v1m0 19v1m0 3v1m0 13v2m1-17v1m2-26v1m0 15v3m1-1v5m0 22v1m1-24v5m0 15v2m1-18v5m1-28v1m0 26v3m1-31v1m0 43v1m1-26v2m0 16v1m1-34v1m0 22v1m0 5v1m0 2v1m1-36v1m0 2v1m0 10v1m1-16v1m0 1v1m1 0v1m0 5v1m0 36v1m1-43v1m0 1v1m0 3v1m0 23v1m1-6v1m0 1v1m0 16v1m1 1v1m1-26v1m1 24v1m1-34v1m1 0v1m0 1v1m0 30v2m1-39v1m0 33v1m0 2v1m1-38v1m1-1v1m0 1v1m1 3v4m0 5v1m1-2v2m1-5v1m0 1v1m2-6v1m0 1v3m8 2v1m42-14v1m0 2v2m1-2v1m0 3v1m17 2v1m1-2v1m0 2v1m1-4v1m0 5v1m1-6v1m0 7v1m2-9v1m1 9v1m1-7v1m0 6v1m3-7v1m0 9v1m2-5v1m1 2v1m0 1v1m1 7v1m1-12v1m1 11v1m2-2v1m4 10v1m0 1v1m0 1v2m1-8v1m0 3v1m0 1v1m1-16v1m0 16v1m3-15v1m1 2v1m0 14v2m0 1v2m4-22v1m0 19v1m1-21v1m1 2v1m0 15v1m2 1v1m1 1v1m1-17v1m1 17v1m5-2v1m1-1v1m0 2v1m1-21v1m0 14v1m1-16v1m0 17v1m1-18v1m1 0v1m1 16v1m1-20v1m0 1v1m0 12v1m1-36v1m0 22v1m1-22v1m1 3v2m0 17v1m0 7v1m1-38v1m0 7v1m0 28v1m1-28v1m0 3v1m0 11v1m0 12v1m1-28v1m0 15v1m0 7v2m1-7v2m2 6v1m1-19v1m0 10v2m0 1v1m1 3v1m1-27v1m0 9v1m0 15v1m1-26v2m1 11v1m0 9v1m1-16v1m0 14v1m21-63v1m1-1v2m0 7v1m1-5v1m0 4v1m1 7v1m1-16v1m0 1v2m1-1v5m1-11v3m0 1v1m0 5v3m0 11v2m1-33v2m0 1v1m0 7v5m0 3v1m0 15v1m1-21v5m1-12v5m1-12v1m0 2v1m0 3v1m0 3v4m1-12v1m0 3v3m0 5v1m0 22v1m1-33v1m0 2v5m0 1v1m0 24v1m1-28v2m1-5v1m0 30v1m1-28v2m1 0v4m1-9v1m0 1v2m0 4v4m0 23v1m0 25v1m1-63v2m0 2v4m0 5v2m0 20v1m0 28v1m0 1v1m1-67v1m0 7v3m0 3v1m0 23v1m0 28v3m1-69v2m0 8v4m0 55v1m1-32v1m0 1v2m0 20v1m1-59v1m1 43v1m0 14v1m1-22v2m0 19v1m0 7v1m1-27v1m1-33v1m0 30v1m1-32v5m0 26v3m0 23v1m1-54v3m1-8v4m0 3v1m0 26v2m1-33v5m0 28v1m1-43v1m0 3v2m0 33v1m0 10v1m1-47v1m0 1v2m0 35v1m0 7v1m1-48v3m0 1v1m0 37v1m0 2v1m1-44v3m0 2v1m1-3v5m0 35v1m1-43v1m0 4v3m0 29v1m0 9v1m1-48v1m0 6v1m0 32v1m1-35v1m0 45v1m1-12v1m0 3v1m1-7v1m0 11v1m2-12v2m1-38v1m1 38v1m1-38v1m0 32v2m0 1v1m1-41v1m0 35v2m0 3v1m1-42v1m0 36v1m1-38v1m1 38v1m0 2v2m1-50v2m0 4v1m0 40v1m1 0v1m1-54v1m0 3v1m1-7v1m0 8v1m0 5v2m0 35v1m0 2v1m1-39v1m1 35v1m1-1v1m1-44v1m2-7v1m0 18v1m1 0v1m1-16v1m0 8v1m0 34v1m1-46v1m0 7v1m0 11v1m0 28v1m1-29v1m1-23v1m0 17v2m0 1v1m0 29v1m1-2v1m1-46v2m1 0v3m0 38v1m1-177v1m0 130v2m0 5v4m1-143v1m0 133v4m0 5v2m0 31v1m1-179v2m0 1v1m0 131v1m0 4v3m0 3v1m1-144v1m0 139v4m1-146v1m0 136v1m0 3v1m0 35v2m1-179v1m0 140v1m0 34v1m1-180v1m0 148v1m0 1v1m0 25v1m1-179v1m0 152v2m1-157v1m0 6v2m1-4v1m0 153v1m0 2v1m1-160v2m0 177v2m1-179v1m0 158v1m1-158v1m0 157v1m1-166v1m0 1v1m0 161v1m1-162v1m0 188v1m1-192v1m0 3v2m0 159v1m0 27v1m1-194v1m0 1v3m0 162v1m0 21v1m1-187v2m0 185v1m1-190v1m0 2v1m0 165v1m0 16v1m1-185v1m0 2v1m0 164v1m0 16v1m1-194v1m0 8v1m0 166v1m0 18v1m1-190v1m1-9v1m0 5v1m0 1v1m0 3v1m1 183v1m1-201v1m0 8v1m1-11v2m0 199v1m1-202v2m1-4v1m0 3v1m3 185v1m0 6v1m2 280v1m3-478v1m0 183v2m0 1v1m1-189v1m0 187v1m1-188v1m0 2v1m0 186v1m1-193v2m1 11v1m0 3v1m0 1v1m1-20v1m0 3v2m0 1v3m0 1v1m0 4v1m0 1v1m1 0v1m1-23v1m0 1v1m1-1v1m0 18v2m1-24v1m0 6v2m0 1v1m0 12v2m1-24v4m0 5v1m1-1v1m0 1v1m0 1v2m0 180v1m0 3v1m1-199v1m0 11v2m0 1v1m0 3v1m0 4v1m1-26v1m0 24v1m1-26v1m0 5v1m0 4v1m0 7v1m1-13v1m0 2v2m0 2v1m1-8v1m0 2v1m0 4v1m0 7v2m1-24v1m0 2v1m0 2v1m0 1v2m0 1v2m0 9v1m1-22v1m0 1v1m0 8v2m0 6v2m1-23v1m0 3v1m0 2v2m0 4v2m0 4v1m1-21v1m0 4v1m0 1v1m0 5v2m0 9v1m1-20v3m0 3v1m0 1v1m0 10v1m0 2v2m1-25v5m0 6v1m0 3v1m0 7v1m1-23v1m0 2v1m0 5v1m0 1v1m0 6v1m1-27v2m0 3v1m0 5v1m0 6v1m0 5v1m0 4v2m1-30v1m0 11v1m0 4v3m0 1v1m0 3v1m0 1v1m1-17v1m0 12v1m0 2v2m0 1v1m1-13v1m0 3v1m0 2v1m1-18v1m0 5v1m0 1v1m0 9v1m1-11v1m1-5v4m1-9v1m0 8v1m0 2v2m0 4v2m1-11v4m0 4v2m0 1v1m1-11v1m0 1v1m0 3v1m1-5v2m0 1v1m0 1v1m0 3v1m1-8v3m0 4v2m1-9v1m0 1v1m0 1v1m0 7v1m1-15v1m0 5v1m1-4v1m0 2v1m1-4v1m0 7v1m1-6v1m0 1v1m1-7v1m0 3v1m0 1v1m0 6v2m1-9v2m5 0v1m0 1v1m2-3v1m1-2v1m0 2v1m1-8v2m2-1v2m2-2v1m0 3v2m1 2v1m0 1v1m2-1v1m1-9v1m1 0v1m0 2v2m1-44v1m0 12v2m0 28v1m1-45v1m0 5v2m0 7v3m0 24v1m0 1v1m0 2v1m0 3v1m1-37v3m0 25v1m1-29v3m0 32v1m1-35v2m0 2v1m0 22v1m0 1v2m0 2v1m0 1v2m1-35v1m0 1v1m0 25v1m0 3v1m0 1v1m1-34v1m0 5v1m0 1v2m0 14v2m0 1v2m0 2v1m1-26v1m0 1v1m0 11v1m0 2v1m0 1v7m1-25v1m0 4v2m0 6v2m0 1v1m0 2v7m1-14v1m0 3v1m0 2v1m0 3v1m1-28v1m0 4v1m0 2v1m0 2v3m0 3v1m0 2v1m0 2v2m1-13v1m0 2v2m0 6v1m1-20v1m0 5v1m0 2v1m0 1v2m0 5v1m0 1v2m1-20v1m0 10v2m0 1v1m0 3v3m1-19v4m0 2v2m0 1v1m0 5v5m1-14v1m0 4v2m0 6v1m1-20v1m0 12v1m1-5v1m0 3v1m1-13v4m0 3v2m1-9v1m0 6v1m0 1v1m0 4v1m1-13v1m0 2v3m0 2v3m1-10v4m0 3v2m1-13v1m0 1v1m0 1v1m0 1v1m0 2v4m1-12v2m0 1v1m0 1v1m0 1v2m0 2v1m1-12v2m0 1v3m0 2v2m1-4v4m1-8v1m0 4v1m0 2v1m1-8v1m0 3v1m0 1v2m1-10v1m0 3v6m1-9v3m0 5v1m1-1v1m1-12v1m0 2v2m0 2v2m1-10v2m0 2v1m0 5v1m1-6v1m0 2v3m1-7v1m0 1v5m1-11v1m0 3v1m0 3v1m0 4v1m0 1v1m1-18v1m0 3v1m0 6v1m1-12v1m0 5v1m0 1v2m1-10v2m0 5v1m0 2v1m0 3v1m1-15v1m0 3v1m0 2v1m0 2v1m1-10v1m0 5v2m0 1v1m1-5v1m1-6v2m0 8v2m1-11v1m0 3v1m0 4v1m1-9v1m1 1v1m0 4v2m1-11v1m0 8v1m1-8v1m0 2v1m1-4v2m0 1v1m0 4v1m1-10v1m0 5v1m0 2v1m1-6v2m0 2v2m1-1v1m1-8v3m0 3v3m1-3v2m1-7v1m0 1v1m0 3v1m1-10v1m0 3v1m0 3v2m0 1v2m1-15v1m0 13v1m1-9v1m1-4v3m1-2v1m0 2v4m1-8v5m0 1v2m1-9v2m0 1v3m0 2v1m1-7v1m0 1v1m0 1v2m1-7v1m0 2v2m0 1v1m1-3v3m2-5v2m0 1v1m1-1v1m1-7v1m0 1v2m0 1v3m1-8v1m1-3v1m0 2v1m0 1v1m1-5v1m0 4v4"/>
<path stroke="#0071ff" d="M108.5 259v1m0 1v1m0 128v2m0 6v1m1-8v1m1-128v1m0 125v1m1-130v1m0 123v1m0 1v1m2-3v1m1-127v1m3 1v1m0 125v2m1-132v1m0 1v1m1-3v1m0 125v2m0 1v1m1-128v1m0 4v1m1-1v1m2-3v1m2 117v1m2-1v1m2-2v1m1-116v1m0 116v1m2-119v3m0 113v1m0 5v1m1 0v2m1-120v2m1 118v2m1-122v2m1 121v1m1-122v1m1 113v1m0 1v1m1-6v2m1-111v1m0 108v1m4-113v1m1-6v3m2-3v1m1 116v2m3-2v1m1 0v2m2-122v1m1 120v1m3 6v2m2-132v1m0 135v1m1 2v2m4-138v1m0 138v1m1-6v1m0 1v1m1-134v1m1-2v2m1-4v1m0 131v1m1-134v1m2-1v1m0 126v3m0 2v2m2-135v1m2-4v1m1 135v1m0 2v1m2-1v3m1-144v1m1 129v1m0 1v2m1-131v2m1 123v1m1-124v1m1-2v1m0 123v1m0 3v1m0 1v1m0 1v1m1-13v1m1-123v1m0 121v1m1-125v1m1-2v2m1-3v1m0 135v3m2 0v1m0 1v1m0 2v1m1-12v1m0 4v2m2-139v1m1 132v1m1-134v1m0 132v1m1 0v1m2-136v1m0 133v1m1-138v1m0 1v1m1 138v1m3-138v1m0 139v1m2-2v1m1-142v1m0 139v1m1 1v1m2-144v2m1-2v1m0 142v2m4-8v1m3-140v1m2 1v1m1 135v1m1 0v1m3-7v1m0 2v1m2-136v1m0 134v1m1-1v1m2 1v1m2 1v1m1 0v2m1-144v1m1 139v1m1-140v1m4-4v1m0 147v1m1-18v3m0 13v1m1-19v1m0 3v1m0 14v1m1-148v1m0 3v1m0 141v1m1-147v1m0 3v1m1 1v1m0 114v1m0 13v1m1-131v2m0 118v3m1-5v1m1-5v1m1 3v1m0 2v1m0 11v1m1 4v1m1-25v1m0 27v1m1-143v1m1 116v1m1-117v1m1-2v2m0 112v1m2 1v1m3-121v1m1 119v2m1-127v2m0 3v1m1-2v1m0 118v1m0 3v1m1-7v1m2-3v1m1 1v1m2-119v1m1 112v1m2 1v1m3-102v1m0 103v1m1 1v1m2 1v1m1-116v1m1-4v1m1 120v2m1-126v1m0 131v1m0 1v2m2-132v2m1 122v1m1-124v1m0 2v2m0 119v2m1-3v1m2-119v2m1 104v1m0 1v1m0 4v1m1-115v2m1 101v1m1 10v1m1 0v1m1 5v1m1-128v1m1 125v1m0 2v1m1-11v2m0 9v1m1-130v1m0 1v1m2 107v1m0 3v1m3-112v1m0 113v1m1-119v1m0 124v1m2-123v1m1-5v1m2 6v1m0 120v1m2 3v2m1-5v1m1-126v1m0 121v1m2-4v1m0 3v1m1-123v1m1-1v1m0 1v2m3-1v1m1 1v1m1 112v1m1-114v1m2-5v1m2 0v1m0 117v1m1 1v1m0 1v1m2-5v1m2 1v1m1-115v2m0 108v1m1-1v1m1-103v1m1 105v1m2-101v1m1 0v1m0 96v1m0 1v2m1-98v1m2-1v1m1 98v1m2-112v2m0 2v1m0 1v1m1-8v1m1 109v1m2-112v1m1-5v1m0 1v1m1 111v1m1-109v2m1 0v1m0 2v1m1 97v1m2-96v1m0 94v1m1-96v1m0 93v1m1-94v1m1-1v2m0 89v1m1-93v1m0 90v1m2-87v1m0 81v1m3-79v1m0 77v1m3-5v1m1-73v1m1-3v1m0 2v1m1 0v1m1 69v1m1 1v2m1-1v1m1-75v1m1 76v2m2-79v1m2 0v1m1 75v2m1-75v1m1 77v1m1-3v1m2-77v2m0 71v2m1-100v3m0 93v1m1-87v2m0 17v2m1-17v2m1-14v1m0 1v2m0 26v3m0 61v1m0 1v1m1-93v2m0 4v1m1 1v1m0 1v1m0 1v1m0 77v1m1-78v1m0 73v1m0 2v1m1-81v1m0 4v2m0 12v1m1-18v2m1 2v1m0 14v1m0 54v1m1 0v1m1-71v1m0 16v1m0 1v2m1 1v1m1-21v1m0 63v2m0 1v1m1-63v2m0 13v1m0 1v1m0 2v1m0 35v1m1-92v1m0 30v1m0 1v2m0 20v2m0 34v2m1-94v1m0 1v1m0 34v1m0 2v1m1 6v2m0 9v1m1-55v1m1 10v1m1-14v1m0 4v1m1 20v1m0 59v1m1-77v1m0 14v1m2-23v1m0 5v1m0 9v1m1-16v1m0 15v1m0 62v1m1-83v1m0 11v1m0 66v1m0 3v1m1-76v1m0 2v1m0 65v2m1-77v1m0 14v1m0 2v3m1-5v1m0 3v1m0 1v1m0 53v1m0 3v1m1-60v1m0 2v1m1-19v1m0 18v1m1-2v4m0 52v1m1-75v1m0 15v1m0 5v1m0 48v1m1-73v1m1 23v1m0 53v1m1-7v1m1-52v1m1 60v1m1-64v1m0 4v1m0 10v1m0 1v1m0 2v1m0 4v1m0 34v1m1-46v1m0 1v1m0 8v1m1-21v1m0 3v1m0 4v1m0 44v1m1-52v1m0 7v1m0 5v1m2-8v1m0 44v1m1-44v1m0 2v1m0 1v1m1-11v1m0 12v1m0 33v1m2-43v1m0 8v1m0 31v1m1-2v1m1-32v1m0 31v1m1-48v1m0 15v1m0 31v2m1-48v1m1-1v1m0 4v1m0 7v1m1-11v1m0 44v2m1-47v2m0 1v1m0 8v1m1-9v1m0 4v1m1 36v1m0 1v1m0 2v1m1-39v1m0 24v1m1-23v3m1 17v1m1-16v1m0 1v2m1-20v1m0 18v1m1-26v3m0 3v2m0 20v2m0 1v3m1 4v1m1-38v1m0 13v2m2-4v1m1-28v1m0 12v1m0 15v1m0 2v1m1-35v1m0 14v1m0 14v1m1-34v1m0 7v3m0 5v2m0 16v2m1-29v2m0 27v1m1 2v2m1-39v1m0 39v1m1-42v1m0 14v1m1-18v1m0 1v1m0 2v2m0 4v2m0 27v1m1 0v1m1 0v1m3-20v1m1 2v1m0 18v1m1-2v1m1 0v2m0 1v1m1-22v1m0 19v1m2-22v1m0 22v1m2 4v1m1-27v1m1 28v1m0 4v1m1-40v1m0 34v1m0 7v1m1-2v1m0 1v1m2-54v1m1-4v2m0 12v1m0 3v1m1-14v1m1 22v1m0 1v1m1-7v1m0 3v3m0 20v1m1-62v1m0 42v1m0 5v1m0 7v1m1-64v1m0 1v2m0 5v1m0 4v1m0 36v1m0 1v1m0 2v2m0 2v1m1-64v1m0 1v1m1 0v1m0 12v1m1-13v1m1-2v2m0 31v1m0 2v1m1-39v1m0 35v1m0 2v1m3-39v2m0 40v1m2-2v1m1-42v1m0 39v1m1-40v1m1 2v1m0 16v1m0 2v2m0 14v2m1-37v1m0 24v2m0 3v1m1-31v1m1 1v2m0 29v1m1-37v1m0 1v1m0 5v2m0 22v1m0 12v2m1-47v1m0 43v1m1-19v1m2 18v2m1-25v1m0 27v1m1-31v3m1-4v1m0 1v1m0 1v1m1-13v1m0 32v1m0 3v1m1-36v1m0 29v1m0 1v1m1-29v1m0 1v1m0 7v1m0 1v1m0 12v1m1-14v1m0 5v2m1-15v3m54-9v1m12 3v1m8 2v1m1 0v1m4 12v1m1-7v1m2-3v1m0 2v3m0 4v2m1-10v4m0 1v1m0 2v1m1 1v1m1 0v1m0 1v1m1-4v1m0 2v1m1 2v1m1-8v1m0 6v1m2-6v1m0 6v1m1-5v1m1 5v1m1 1v1m0 3v1m2-9v1m0 13v2m0 2v1m1-1v1m1-2v1m1-13v1m0 12v1m0 5v1m1-19v1m0 12v1m1-17v1m0 1v1m2 16v1m2 0v1m2-2v1m1-16v1m1 1v1m1 15v2m1-17v1m1-3v3m0 16v1m1-23v1m0 23v1m1-21v1m0 20v1m1-22v1m0 20v1m1-24v1m4 17v2m1-2v2m1 0v1m1-4v1m0 1v2m1-13v1m0 8v1m1-35v1m0 24v1m0 7v1m2-31v1m1 29v2m1-34v1m0 23v1m2-17v2m0 3v1m0 15v1m1-16v1m0 14v1m0 5v1m1-21v1m0 19v1m1-29v1m2 6v1m0 3v1m1 1v1m1-6v1m0 3v1m21-54v2m0 3v1m0 2v1m1-6v1m0 3v1m0 8v3m1-9v2m0 7v1m1-12v1m2 17v1m1-24v1m1 25v1m1-33v1m2 34v1m1 2v1m1 3v1m1-32v1m1 32v1m1-4v1m2 3v1m0 25v1m0 2v1m1-3v1m0 1v1m0 1v1m0 1v1m1-32v1m0 2v1m1-37v2m0 31v1m0 1v1m1-35v3m0 63v1m1-32v1m0 30v1m1-62v1m0 53v1m0 10v1m1-66v1m0 1v1m0 1v1m1 31v1m0 20v1m1-52v1m0 52v3m2-27v1m2-32v1m0 33v2m1-39v1m0 2v2m0 30v1m0 12v3m1-2v1m1-46v1m0 39v2m0 7v2m1-59v1m0 9v2m0 1v2m0 31v1m0 4v1m0 6v1m1-17v1m0 10v2m1-39v1m0 30v1m1-31v1m0 37v1m1-10v1m1 1v1m1 9v1m1-12v1m0 1v1m2 4v1m2-10v2m1-36v1m1 1v1m0 32v1m3-41v2m0 38v1m0 2v1m1-45v1m0 40v1m0 1v1m0 2v1m1-56v1m0 4v2m0 1v3m0 41v3m1-52v1m0 5v1m0 2v4m1-7v2m0 6v1m0 35v1m1-52v1m0 50v1m2-53v1m0 1v1m0 6v1m0 10v1m0 35v1m1-47v1m1-32v1m0 44v2m1-20v1m0 2v1m0 43v1m1-37v1m0 10v1m0 25v1m1-46v1m0 19v1m0 26v1m1-50v1m0 1v1m0 7v2m1-9v1m0 18v2m1-20v2m0 13v1m1 28v1m1-179v1m0 176v1m1-178v2m0 2v1m0 127v1m1-134v1m0 178v1m1-46v1m1-3v1m0 45v2m1-47v1m0 9v1m0 1v1m0 30v2m1-178v1m0 138v1m0 1v1m0 1v1m0 30v2m1-175v1m0 172v1m1-29v2m0 4v1m0 1v1m0 20v1m1-179v1m0 1v3m0 153v1m0 20v2m1-23v1m0 3v1m1-163v1m2 3v1m0 179v1m1-180v1m1 159v1m1-164v1m0 163v1m0 22v1m1-27v2m2 3v1m0 1v1m0 16v1m1-184v1m1-5v1m0 187v1m0 2v1m1-2v3m0 1v1m1-201v2m0 1v1m0 1v1m0 2v1m1-5v1m0 188v1m1-201v1m0 4v1m0 5v1m0 176v1m0 13v1m1-201v2m2 197v1m1-12v1m0 9v1m1-12v1m0 6v1m0 1v1m1-9v1m1 0v1m5-5v1m2-189v1m1-2v1m0 14v1m2-7v1m0 1v1m1 0v1m1-14v1m0 2v2m0 1v3m0 3v1m0 4v1m0 2v1m1-23v2m0 1v2m0 15v1m1-17v2m0 4v1m0 6v2m0 1v1m1-18v1m0 1v1m0 3v1m0 5v1m0 2v2m0 3v1m1-23v1m0 5v1m0 8v1m0 4v2m1-25v1m0 2v1m0 1v1m0 4v1m0 3v3m0 2v1m0 3v2m1-16v1m0 4v1m0 3v1m0 6v1m1-17v1m0 4v1m0 4v1m0 4v1m1-18v1m0 2v1m0 1v1m0 2v1m0 4v2m1-15v1m0 4v1m0 3v1m0 3v1m0 1v1m1-21v1m0 3v2m0 1v1m0 1v1m0 4v2m0 2v1m0 3v1m1-23v1m0 7v2m0 4v2m0 1v1m0 2v1m1-22v1m0 1v2m0 12v2m0 4v1m1-24v1m0 2v1m0 10v1m0 2v2m0 4v1m1-14v3m0 1v1m1-11v1m0 1v1m0 4v1m0 5v4m0 5v1m1-23v1m0 9v1m0 3v1m0 5v2m1-20v1m0 4v1m1-2v2m0 12v1m1-19v2m0 3v3m1 6v1m0 1v1m1-17v1m0 6v1m0 3v1m1-1v1m0 2v2m1-3v2m1 0v1m1-3v2m0 2v1m0 1v1m1-7v1m1 2v1m0 1v2m1 1v1m1-9v1m0 9v1m1-4v1m1 0v1m10 1v1m5-5v1m1-1v1m1 1v1m1 2v1m1-1v1m3-43v1m0 1v8m0 1v1m0 31v1m0 5v1m1-51v1m0 1v3m0 2v6m1-3v3m0 34v1m1-36v1m0 5v1m0 24v1m0 2v2m2-33v2m0 26v2m0 5v1m0 1v1m1-3v1m1-1v2m1-29v1m0 27v1m1-10v1m0 6v2m1-29v4m0 16v2m0 4v1m1-6v1m0 1v5m1-17v1m0 4v1m0 5v1m0 2v3m1-8v3m0 3v2m1-10v4m0 5v1m1-14v1m0 5v6m0 1v2m1-21v1m0 3v1m0 2v5m0 1v5m0 1v1m1-15v3m0 1v3m0 1v2m0 1v1m1-13v1m0 4v4m0 5v2m1-15v1m0 4v3m0 2v2m0 1v1m1-16v1m0 9v6m1-12v1m0 4v1m2-4v2m0 1v3m1-5v2m1-2v1m1-6v2m0 1v2m0 1v3m1-10v2m0 5v1m1-1v1m1-5v3m0 1v1m0 4v1m1-16v1m0 3v5m0 1v1m1-8v1m0 3v3m1-8v1m1-6v1m0 5v1m0 4v3m1-16v1m0 1v2m0 9v3m0 1v2m1-19v1m0 6v3m0 1v4m0 1v1m0 1v1m1-12v1m0 2v1m0 1v5m1-10v1m0 4v3m1-16v1m0 11v1m0 1v1m0 1v4m1-6v4m1-8v1m1-2v8m1-9v1m0 5v5m1-11v4m0 1v1m0 1v4m0 3v1m1-14v4m0 3v2m1-11v1m0 1v2m0 2v1m0 3v3m1-11v1m0 2v2m0 4v2m1-10v3m0 1v1m0 2v1m1-9v1m0 1v1m0 1v2m1-9v3m0 1v2m0 1v1m1-9v1m0 3v2m0 2v1m1-9v4m0 1v2m0 1v1m1-5v2m0 3v2m1-8v1m0 1v1m0 2v2m1-5v2m0 1v4m1-8v1m0 3v1m0 2v1m1-13v1m0 2v1m0 1v4m0 1v1m0 1v1m1-9v1m0 2v1m0 2v2m1-7v1m0 1v1m0 2v1m1-8v1m1 4v1m1-4v2m0 1v1m0 7v1m1-18v1m0 7v1m0 3v1m1-11v1m0 5v1m2-7v1m0 2v5m1-9v1m0 5v3m1-8v2m0 4v2m1-9v1m1 5v1m1-3v1m0 1v1m1-6v2m0 4v2"/>
<path stroke="#00a0ff" d="M105.5 263v1m0 126v1m1-3v1m2-129v1m0 136v1m2-6v1m1-130v1m0 125v1m3-5v1m2-3v1m1 1v1m1-4v1m0 1v1m1-127v1m0 123v1m1-120v1m3 116v2m1-120v1m0 118v2m1-4v1m0 1v1m0 1v1m2-122v2m0 117v2m1-123v2m1 115v1m1-116v2m1 2v1m0 111v1m1-113v1m0 114v1m1-117v1m0 119v1m1-120v2m1 1v2m0 116v1m1 3v1m1-122v1m1 0v1m0 114v3m1-117v1m0 109v1m1-111v1m2 108v2m0 1v1m1-114v1m0 113v1m1-116v1m3 108v2m1-1v1m1-117v1m1 115v2m1-4v1m1-113v2m0 112v1m1-117v2m0 115v1m1-2v1m1-118v1m1-2v1m0 119v1m1 3v1m1-125v1m0 125v1m1-130v2m2-4v1m0 4v1m1-1v1m0 135v1m1-138v1m2 138v2m1-140v1m0 2v1m1-3v1m1 130v1m2-133v1m1-5v1m0 2v1m0 1v1m0 130v1m1-131v1m0 131v1m1-136v1m2-3v2m0 2v1m0 123v1m1-127v1m1-3v1m0 128v1m1-131v1m0 133v2m1 2v2m1-142v1m0 137v1m2-136v1m0 125v1m3-4v1m1-1v2m0 2v2m0 1v1m2-131v1m1-2v1m0 123v1m0 2v1m0 1v1m1-134v1m0 131v1m1-132v1m0 132v1m1 2v2m1 1v1m0 2v1m1-9v2m5-3v1m1-1v1m1-2v1m1-136v1m1-1v1m1 0v1m2-1v1m0 139v2m1-141v1m2-1v1m0 137v1m1-140v2m0 139v1m1-2v1m1-139v1m1 138v1m2-3v1m0 1v1m1-3v1m3-141v1m1 134v1m1-137v1m2-3v1m0 2v1m0 138v1m1-4v1m1-137v2m0 132v1m1-3v1m2-134v1m1 135v1m1-138v1m0 134v1m1-137v1m0 133v1m1 0v2m0 1v1m1-136v1m0 133v1m0 1v1m1-139v1m1 0v1m1-1v1m1 135v1m2-141v2m0 139v1m2-142v2m1-3v1m0 131v1m0 15v1m1-18v1m1-125v1m0 119v2m0 7v1m0 11v1m1-146v1m0 121v1m1-123v1m0 1v1m0 1v1m0 117v1m0 23v1m2-144v1m0 117v3m0 10v1m0 14v1m1-6v1m1-28v1m0 28v2m1-141v1m0 112v1m0 18v1m1-137v1m1 3v1m0 108v1m0 28v1m1-141v2m0 111v1m0 1v1m2-118v2m0 113v1m1-2v1m1 1v2m1-116v1m1-2v1m2-4v1m2-5v1m0 1v1m0 120v1m2-123v1m0 116v1m1-117v1m2 115v1m1-118v1m0 115v1m1-3v1m0 2v1m1-114v1m0 107v1m1 2v1m0 1v1m1-109v1m1 106v2m1-104v1m2-1v2m1-1v1m0 106v3m1-118v2m1-4v1m0 7v1m0 110v1m0 1v1m1-122v1m0 120v2m1-4v1m1-125v1m0 130v1m1-1v1m1-2v1m1-125v1m0 1v1m1-2v1m1 4v1m0 115v1m1-2v1m1-4v2m1-12v1m0 5v1m0 1v2m1-118v2m0 1v1m0 111v1m0 3v1m0 1v1m1-119v1m0 117v1m1-3v1m1-121v1m0 120v4m1-124v1m0 104v2m0 15v1m0 1v1m1-128v1m0 109v1m0 16v1m1-127v1m0 126v2m1-1v1m1-20v1m1-1v2m1 3v1m3-113v1m0 119v1m1 0v2m0 1v1m1-125v1m1 120v1m0 1v1m1-129v2m0 2v1m0 2v1m0 117v1m1-118v2m0 119v1m1-122v1m1 121v1m1-1v1m1-125v1m0 122v1m2-121v1m0 116v1m1-118v1m0 116v1m0 1v1m2-118v1m0 111v2m2-114v1m1-1v1m0 113v1m1-115v1m0 113v2m3-118v1m1 118v2m1-4v1m2-118v1m0 117v2m0 1v1m1-6v1m2 3v1m1-119v1m0 3v1m0 111v1m1-111v1m0 108v1m0 1v2m1-111v1m0 1v1m0 102v1m1-101v1m0 103v2m1-103v1m0 100v1m1-100v1m0 96v2m1-2v1m1-95v1m0 98v1m2-99v1m1-3v2m0 97v1m1-104v1m0 103v1m1-105v1m0 105v1m1-110v1m1-8v1m0 3v1m0 106v2m1-111v1m2 106v1m1-111v1m2 0v1m0 5v1m2 3v3m0 97v1m1-99v1m0 92v2m1-1v1m1-2v1m1-2v1m1 1v2m1-95v1m0 1v1m2 2v1m1-1v1m0 1v2m0 76v1m1-3v1m1-75v1m0 75v1m1-4v2m1-2v1m1-72v1m1 71v1m1-74v1m0 73v1m0 1v1m2-73v1m2-3v2m1-2v1m0 70v1m1-73v1m1 74v1m0 1v1m1-77v1m1-1v1m1 72v1m1 0v1m1-73v1m0 72v3m1 1v2m1-4v1m1-1v1m2-96v2m0 1v1m1-5v2m1-3v1m0 94v1m1-91v1m0 4v1m0 82v1m1-88v1m0 1v1m0 2v1m1 80v1m1-60v1m1-17v1m0 71v1m1-72v1m0 69v1m1-71v1m1 4v1m0 18v1m1-23v1m0 18v1m1-19v1m0 1v1m0 63v2m1-65v1m0 2v1m0 58v1m1-93v1m0 54v1m1-55v1m0 32v1m0 2v1m1-4v1m0 53v1m0 1v1m1-50v1m0 13v1m0 1v1m0 29v2m1-56v1m0 16v2m0 35v1m1-87v4m0 1v1m0 79v2m1-87v1m0 6v1m0 8v1m0 12v1m0 356v1m1-375v1m0 15v1m0 55v1m1-72v1m0 11v1m0 1v1m1-14v2m1-12v1m0 76v1m1-78v1m0 2v1m0 3v1m0 6v1m0 64v1m1-83v1m0 11v1m0 2v1m0 61v1m0 1v2m1-75v1m0 2v1m0 2v1m0 3v3m1-17v1m0 2v1m0 6v1m0 1v1m0 60v1m1 3v1m2-72v1m0 18v1m1 1v1m1-2v1m0 1v1m0 45v1m0 3v1m1-53v1m0 1v3m0 41v1m1-68v1m0 23v4m1-26v1m0 23v1m1 48v2m1-44v3m0 7v2m0 30v1m0 3v1m0 2v1m1-66v1m0 15v1m0 9v1m2-11v1m0 10v1m1-10v1m1 45v1m1-50v1m1-2v1m0 9v1m0 1v1m0 2v2m1-1v1m1-14v1m0 13v1m1-14v1m3 42v1m2-45v2m1 1v3m1 43v1m1-36v2m1 23v1m1-21v2m0 16v3m0 1v1m0 1v1m1-6v1m0 3v1m1-20v1m0 2v1m2 0v1m0 1v1m0 2v3m1 0v1m1-31v1m0 2v1m0 4v1m0 24v1m1-30v1m0 1v1m0 3v1m2-3v1m1-13v2m0 17v1m2-37v1m0 1v2m1 0v1m0 6v1m0 2v1m1-9v1m1 1v1m0 3v1m0 25v2m1-34v1m0 1v1m0 28v1m1-34v2m0 30v1m2-19v2m0 18v1m1-20v1m0 18v1m1-19v1m0 1v1m0 17v1m1-18v1m0 16v2m1-18v1m1 1v1m1-5v1m0 1v1m1 17v2m3 3v1m0 1v1m1 2v1m3-37v1m0 1v1m0 5v1m0 34v1m1 3v1m1-45v1m1-2v1m0 41v1m1-50v1m1 0v1m1 21v1m0 21v1m1-23v1m0 4v1m0 1v1m0 15v2m1-16v1m0 2v1m0 2v1m1-53v1m0 52v1m1-46v1m1-2v1m0 17v1m1-17v2m1 12v1m0 6v1m1-36v1m0 22v2m0 1v1m0 6v1m0 4v1m1-6v1m0 7v1m1-44v1m0 42v1m1-44v1m0 41v1m1-41v1m0 382v2m1-385v1m0 382v2m2-384v3m0 33v1m1-17v1m0 6v1m1-24v1m0 8v1m0 1v1m0 10v1m1-23v3m0 7v1m0 1v1m0 363v1m1-382v1m0 3v2m0 2v2m0 24v3m0 4v1m1-36v2m1 375v2m1-339v1m0 335v1m1-358v1m0 1v2m0 1v2m0 351v2m2-333v1m2-38v1m0 5v1m0 1v1m0 24v1m1-25v1m1-13v1m0 2v1m0 10v4m0 12v2m1-28v2m0 3v1m0 4v2m0 1v1m0 2v1m0 5v1m0 1v1m0 1v1m1-16v1m0 1v1m0 8v1m0 1v1m3 338v2m1-4v1m1-1v1m3 3v2m1-2v2m10-6v2m2 0v1m1-1v1m1 1v1m1-1v1m5-5v2m1 5v1m1-1v1m1-4v2m1-2v2m2-5v1m1 0v1m0 2v1m1-4v1m0 2v1m6-4v2m9 3v1m2-368v1m2 356v1m1-1v1m2 2v1m0 4v1m1-6v1m2-2v1m2 1v1m5-4v1m1-1v1m3 1v1m1-349v1m1 2v1m1-1v1m0 347v2m1-356v1m0 353v2m1-1v1m1-354v1m1 7v2m1-5v1m1-3v3m1 2v2m1 0v2m1 0v1m1-2v4m1 0v2m0 1v1m1-5v1m0 1v4m0 332v1m1-341v1m0 5v2m0 1v1m0 330v1m1-339v2m0 1v1m0 2v1m3-2v1m1 19v1m1-22v1m0 1v1m0 11v1m1-1v4m1-1v4m1-13v1m0 9v3m0 1v1m1-3v2m1 0v1m0 3v1m1-3v1m1-17v1m1-2v1m1 18v1m1-19v1m0 330v1m3-328v1m1 2v1m2 15v1m1-17v1m1-3v1m0 323v1m4-326v1m0 1v1m2 0v1m1 0v2m1-1v1m0 1v1m1-2v2m0 9v1m0 302v1m1-314v3m0 310v1m1-340v1m1 32v1m0 1v1m1-32v1m0 1v1m0 26v1m1-36v1m0 26v1m1-27v1m0 8v1m0 18v1m1-28v1m0 7v1m1-5v1m0 29v1m1-21v1m0 17v1m0 302v1m1-330v1m0 25v1m1-25v1m1 10v1m0 15v1m1-27v1m1 4v1m0 2v1m0 316v1m0 2v1m0 3v2m1-325v1m0 315v2m6 8v1m1-1v1m3-10v1m11-365v1m1-2v2m0 2v1m1-8v1m0 365v2m1-352v2m0 348v2m1-355v1m0 1v1m0 5v2m1 0v1m2 3v2m2-30v1m0 2v1m0 27v1m1-31v1m2 2v1m0 30v2m1 0v1m2-25v1m0 26v1m0 325v2m1 6v1m0 1v1m1-6v1m0 4v1m1-336v3m1-32v2m0 30v1m1-34v3m0 59v1m0 2v1m1-30v1m0 26v1m0 3v2m1-6v1m1-58v2m0 32v2m0 21v1m0 4v1m1-60v1m0 1v1m0 57v1m0 1v1m1-59v1m0 50v1m1-51v1m0 28v1m0 22v3m0 1v1m1-56v1m0 55v1m3-27v1m1-33v1m1 46v1m1-47v1m0 31v1m0 3v1m0 11v1m1-48v1m0 42v1m0 304v1m0 1v1m1-318v3m0 8v1m1-40v2m0 340v1m1-341v1m0 26v1m0 9v1m0 5v2m0 294v1m1-341v1m0 30v1m0 303v2m1-338v3m0 29v1m0 7v1m1-5v1m0 2v1m0 4v1m1-45v1m0 339v2m1-342v2m0 29v1m1 0v1m1 0v3m0 4v1m1-42v1m0 31v1m0 1v2m0 310v1m0 1v2m1-320v1m0 6v1m0 308v1m1-316v1m0 312v2m1-315v1m1-1v2m1-1v3m0 312v2m1-355v2m0 1v2m0 31v1m0 2v2m0 1v1m0 304v3m0 3v2m1-357v1m0 2v1m0 2v1m0 34v1m0 2v1m1-44v4m0 1v3m0 32v1m0 3v1m1-49v2m0 9v2m0 32v1m0 305v2m1-357v1m0 18v1m0 335v2m1-351v1m0 9v1m0 1v1m0 340v1m1-354v1m0 13v1m0 338v1m1-361v1m0 19v2m0 31v1m1-53v2m0 7v1m0 11v2m0 28v1m1-48v1m0 5v2m0 39v1m1-40v1m0 11v2m1 1v1m0 331v1m1-347v1m0 39v1m1-26v2m0 23v2m1-46v1m0 9v1m1 8v1m0 27v1m3-4v1m1-3v1m1-1v2m1-43v1m0 2v1m0 345v1m1-352v1m0 2v1m0 3v1m0 2v1m1-5v1m0 5v2m1 0v1m0 1v1m0 2v1m0 19v1m1-175v3m0 151v1m0 20v1m2-19v1m0 1v1m1 319v2m1-302v1m1-18v1m0 325v2m1-327v1m0 319v1m0 4v2m1-489v1m0 160v1m0 2v1m0 19v1m0 1v1m1-23v1m1-3v1m0 1v2m0 319v2m1-323v1m0 3v1m0 16v1m0 300v1m2-8v2m1-297v1m0 294v2m1-312v1m1-180v1m1-1v2m0 177v2m0 311v2m1-493v1m0 193v1m0 296v2m1-493v1m0 490v1m1-310v1m0 308v1m1-310v1m1 9v1m1 301v2m1-311v3m0 306v2m4-3v3m4-491v1m2-14v1m0 12v1m1-13v2m0 1v2m0 6v1m1-7v2m0 2v1m0 1v2m1-7v1m0 4v1m1-15v1m0 6v2m0 4v2m1-3v1m1-11v1m0 9v1m0 487v1m0 2v1m1-489v2m0 485v2m1-501v3m0 190v1m1-191v1m0 13v1m1-19v1m0 500v1m1-495v2m0 4v1m0 487v1m1-491v1m0 1v1m0 1v1m0 487v1m1-492v2m0 1v1m0 485v3m1-492v1m0 488v1m1-506v1m0 13v1m1-16v1m1 11v1m0 491v1m1-504v1m1 4v1m1 5v1m1-1v1m0 491v2m1-2v1m2-496v1m0 5v1m0 4v1m1-4v2m2 486v1m1-1v1m1-4v2m1-2v2m1-480v1m0 477v2m1-481v2m0 1v1m1-4v1m3 478v1m1 3v1m1-1v1m0 1v2m1-2v2m4-10v1m4 5v1m5-477v1m2 479v2m2-9v2m0 3v1m1-6v2m1-475v1m0 1v1m1 474v1m1-3v2m3 3v1m1-473v1m1-10v1m0 7v1m1-3v2m2-1v1m1-1v1m1-1v1m1 0v1m1-4v1m0 1v2m1-7v1m0 1v7m1-11v5m0 3v2m1-10v1m0 3v1m0 1v1m1-1v3m1-9v6m0 2v1m1-10v4m1-1v5m1-8v3m0 1v2m1-7v2m0 4v1m0 2v1m1-7v2m1-4v4m1-4v4m0 1v1m1-6v4m0 1v1m1-6v2m0 1v2m1-6v3m0 1v2m1-13v1m0 4v4m0 2v2m1-5v2m0 3v1m1-6v1m0 2v3m0 2v1m1-6v2m1-4v4m1-6v3m0 1v1m1-8v1m0 6v1m1-9v2m0 4v2m1-8v8m1-3v3m0 2v2m1-5v1m0 2v2m1-10v1m0 5v2m0 1v1m1-11v3m0 2v1m0 2v2m1-9v3m0 3v1m1-7v4m1-5v1m0 1v2m0 1v2m1-5v5m1-6v6m1-6v3m0 1v2m1-6v3m1-1v2m1-3v2m0 3v1m1-4v1m0 3v1m1-5v1m0 3v1m1-9v1m0 6v1m0 4v1m1-14v2m0 2v2m0 2v1m0 2v1m0 1v1m1-14v2m0 1v3m0 3v3m1-12v6m0 3v2m1-10v2m0 1v1m0 1v1m0 1v2m1-9v4m0 1v2m0 1v1m1-10v3m0 1v2m0 1v2m1-9v9m1-9v3m0 1v3m1-6v1m0 1v3m1-5v1m0 2v2m1-5v1m1-2v2m0 2v1m1-6v6m1-8v1m0 1v3m0 1v1m1-3v4"/>
<path stroke="#00c1ff" d="M105.5 389v1m1-128v2m0 125v1m1-2v1m1-127v1m2 123v1m0 1v2m1-128v1m0 123v1m1-3v1m1-124v1m0 122v1m1-125v1m1 121v1m1-1v1m2-123v1m1-1v1m0 2v1m0 116v2m2-117v1m0 114v1m1-2v3m1-118v1m2-1v1m0 117v1m2-4v1m1-118v1m0 115v1m0 1v1m1-116v1m1-1v3m0 110v1m2-1v1m0 1v1m1-112v1m1 116v1m1-116v1m1-2v1m0 117v3m1-2v1m1-117v1m0 111v1m1-5v1m1-109v1m0 106v1m1-108v1m0 104v3m2-112v1m0 2v1m0 108v1m1-111v1m0 111v1m1-2v1m1-116v3m0 110v2m2-4v2m2-115v1m1 0v2m2-2v2m1-4v2m0 115v1m1-118v1m0 113v1m1-116v2m0 116v1m1-1v1m1 4v1m1 1v1m1 2v3m1-2v2m0 1v1m1-133v3m1-4v1m0 134v2m1 0v1m1-140v1m0 138v1m1-2v1m0 1v1m1-135v1m0 127v1m1-2v1m1-1v1m1-129v1m0 128v1m1-135v1m0 3v1m0 130v1m1-6v1m0 1v4m1-4v1m1-5v1m2-127v1m0 120v1m2-124v1m0 125v1m0 2v1m1-133v1m1-1v2m0 133v1m1-135v1m0 126v2m0 1v1m0 1v1m1-1v1m1-8v1m1-122v1m0 120v1m1-122v1m1 116v2m0 10v1m1-133v1m0 119v1m1-120v1m2-4v1m0 129v1m1-1v1m2 2v3m0 3v1m1-6v1m1-7v1m1-1v2m1-131v1m0 130v1m1-134v1m0 131v1m1-139v1m0 141v1m4-136v1m0 134v1m1-135v1m0 133v2m1-1v1m2-139v1m1 139v1m2-139v1m1 0v1m1-1v1m0 135v1m1 0v1m1-2v2m1-3v1m1-138v1m0 135v1m1-4v2m1-137v2m0 134v2m1-2v1m1-137v1m1-4v2m0 137v1m2-139v1m0 2v1m0 136v1m1-136v1m1-2v1m1 131v2m1-136v1m0 128v2m1-131v1m0 127v2m1 1v1m1 0v1m1-135v2m0 130v1m1-132v1m1 133v1m1 3v1m0 2v1m1-141v1m1 136v1m1-141v1m0 1v1m1 137v1m2-141v1m0 140v1m1 2v1m1-144v2m1-3v1m0 2v2m0 119v2m0 1v1m0 5v1m1-129v1m0 117v1m0 8v1m0 1v1m1-131v1m0 118v1m0 19v2m1-140v1m0 115v1m0 11v1m0 13v1m1-142v1m1 113v1m0 15v1m0 9v2m1-143v2m0 129v2m1 1v2m1-135v1m0 112v1m0 16v1m0 3v2m1-136v1m0 110v2m0 22v1m0 1v2m1-137v1m0 106v1m0 1v1m1-111v1m0 109v1m1 1v2m1-115v1m1 109v1m1 0v2m2-116v1m0 1v1m0 112v1m1-117v2m1-2v1m1-2v1m0 117v1m1-122v1m3 116v1m1-116v2m1-3v1m1-1v1m0 111v2m1-114v2m0 110v1m0 4v1m1-120v2m0 5v1m2 3v1m1 0v2m3 106v1m1 0v1m1-111v1m0 2v1m0 1v1m0 105v1m1-113v3m0 110v2m1-1v3m2-127v1m0 125v1m0 8v1m1-6v2m0 1v1m2-126v1m0 2v1m3 1v2m0 112v1m0 1v1m0 275v1m2-394v1m0 106v1m1-8v2m0 9v1m1-117v2m0 104v1m0 11v3m1-13v1m0 11v2m1-121v2m2-4v1m1 107v3m1-111v1m0 109v1m0 4v1m0 14v1m3-129v1m0 106v1m1-106v1m0 110v1m2-112v1m0 115v1m1-120v1m0 115v2m3-120v1m0 4v1m1 118v1m3-119v1m0 121v1m1-4v1m0 3v1m2-125v1m1 115v1m1-115v2m0 111v1m3-112v1m0 112v1m2-112v1m2-2v2m0 111v1m1-116v2m2-1v1m2-2v1m1 114v1m1-115v1m0 115v1m1-118v3m0 1v1m0 111v2m1-3v1m1-109v1m1-1v1m0 103v2m1-102v1m0 2v1m0 1v1m0 97v1m1 0v1m3-96v1m0 4v2m1-3v1m0 3v2m0 89v1m1-95v2m0 4v3m0 83v2m1-92v3m0 4v3m0 81v1m1-99v2m0 9v2m0 4v1m1-21v2m0 3v1m0 11v2m0 2v1m1-24v1m0 3v2m0 1v1m0 13v1m0 2v2m1-27v2m0 21v2m0 2v1m1-3v1m0 2v2m0 74v1m1-111v1m0 19v2m0 10v2m0 2v1m1-18v1m0 2v2m0 10v1m0 2v1m1-39v1m0 20v1m0 3v2m0 9v1m0 2v1m1-39v2m0 1v1m0 18v2m0 2v2m0 8v2m0 71v1m1-105v2m0 17v2m0 3v1m0 77v1m0 1v1m1-84v2m0 2v1m0 75v1m1-79v2m1-19v1m2 90v1m1-93v1m0 89v2m1-1v1m1-93v1m0 2v1m0 1v1m1 82v1m0 1v1m1-86v1m0 2v2m0 77v1m1-77v1m1-1v1m0 74v1m1-75v1m1-2v1m1 1v2m0 68v1m1-70v1m1 71v2m1-79v1m0 4v2m1 0v2m1-1v1m1-2v1m0 68v1m1-1v2m1-76v1m0 72v1m0 1v1m1 0v1m1-75v2m0 377v1m1-378v2m0 72v1m1-77v1m0 1v2m0 70v1m1-72v1m0 69v1m1-70v1m1 70v1m1-72v2m0 72v2m1-74v2m0 71v1m1-74v1m1 0v1m0 66v1m0 1v1m1-69v2m0 64v1m1-94v1m0 4v1m0 1v1m0 21v1m0 63v1m1-92v1m0 1v1m0 5v1m0 18v4m0 61v1m1-91v1m0 1v1m0 5v1m0 79v1m1-60v1m0 57v2m1-80v1m0 19v1m0 57v1m0 1v1m1-60v1m1-20v1m0 2v1m1 18v1m1-19v1m0 19v1m1-1v1m0 1v1m0 1v1m0 45v1m1-47v1m1-24v1m0 1v1m0 1v1m0 19v1m0 40v2m0 2v1m1-64v1m0 18v1m0 1v2m0 34v1m0 5v1m1-8v1m1-87v2m0 5v1m0 46v1m1-56v1m0 37v1m0 1v1m0 47v1m1-88v1m0 44v1m0 10v1m0 26v2m1-84v1m0 41v1m0 1v3m0 2v1m0 7v2m0 23v2m1-80v1m0 24v1m0 21v4m0 4v1m1-32v1m0 27v3m1-53v2m0 1v1m0 3v1m0 11v1m1-14v1m0 11v1m0 1v1m0 54v1m0 3v1m1-71v3m0 8v1m0 51v4m1-61v5m0 52v1m1-76v1m0 2v1m0 1v1m0 70v1m1-78v1m0 14v1m1-15v1m0 3v1m0 5v2m0 3v2m1 1v1m1 1v1m1 1v1m0 53v1m1-53v1m1 1v1m1-22v1m0 21v2m0 44v1m0 1v1m1-72v2m0 23v1m2-3v2m0 1v3m0 39v2m1-45v1m0 1v4m0 1v1m1-7v6m0 12v1m0 28v1m0 1v2m1-53v2m0 2v2m0 1v1m0 12v1m1-21v3m0 2v4m0 12v2m0 31v1m1-48v1m1 0v2m0 43v2m1-46v1m0 11v1m1-14v1m0 12v2m0 31v1m1-46v1m0 3v1m0 9v1m1-15v2m0 2v1m0 9v1m0 29v1m1-44v2m0 10v1m0 1v2m0 26v1m1-40v1m0 38v1m1-31v1m0 28v1m1-30v1m1 0v1m1-19v2m0 17v2m0 29v2m1-32v1m0 30v1m1-32v1m2 29v2m1-10v1m1-21v1m0 3v1m1-1v1m0 14v1m1-13v1m1 7v1m0 1v1m0 1v1m1-10v1m0 2v1m0 4v1m0 1v1m1-35v1m0 32v2m1-35v1m0 1v2m0 1v3m1-9v1m0 3v2m0 5v1m0 22v1m1-34v2m0 4v4m1-11v3m1-2v2m0 7v3m2-33v1m0 1v1m0 14v2m0 13v1m1-35v4m0 7v3m0 4v1m0 1v1m0 14v2m1-29v1m0 1v1m0 1v1m0 1v2m0 20v4m1-28v3m0 1v1m0 4v1m0 14v2m0 2v1m1-31v1m0 8v1m0 18v2m1-30v1m0 10v1m1 17v2m1-1v1m1-18v2m0 15v1m1-19v1m0 3v1m1 0v1m1 0v1m0 14v1m1-17v1m0 2v1m0 12v1m1-16v2m0 14v1m1-17v1m1 0v3m0 14v3m1-22v2m0 4v4m0 11v1m1-23v2m0 1v3m0 5v4m0 8v1m1-22v1m0 4v3m0 6v3m0 6v3m0 2v1m1-20v4m0 5v2m0 5v2m1-26v1m0 11v4m0 3v1m0 6v2m1-35v1m0 23v2m0 9v1m1-35v1m0 35v6m1-3v2m1-2v1m1-35v1m0 2v1m1-2v2m0 8v2m0 15v2m1-26v1m0 1v1m0 4v1m0 1v4m0 11v2m0 1v1m1-2v1m1-60v1m0 46v2m0 2v1m0 4v1m1-3v1m1-48v1m2 17v1m1-16v1m0 2v1m0 10v1m0 2v1m1-34v1m0 1v1m0 28v1m0 1v1m0 2v2m0 2v1m1-27v2m0 6v1m0 1v1m0 8v1m0 1v2m0 4v1m1-29v1m0 3v3m1-6v2m0 5v3m0 16v1m1-24v3m0 5v3m1-26v1m0 18v3m0 5v2m1-29v1m0 22v3m0 3v1m1-10v1m0 6v2m0 6v1m0 3v2m1-38v1m0 10v2m0 8v1m0 5v1m1-15v1m1-10v1m1-7v2m0 6v3m1-8v1m0 31v1m0 6v1m2-13v1m1 0v1m0 13v2m1-24v1m0 1v1m1-4v1m0 25v1m1-27v2m0 24v1m1-35v1m0 1v1m0 6v1m1-12v5m0 1v4m0 2v2m0 13v3m1-27v1m0 1v1m0 1v2m0 1v1m0 5v2m0 9v1m1-23v1m0 2v2m0 1v1m0 8v1m0 6v1m1-19v4m34 333v1m15-5v1m23-333v1m1 1v1m2 4v1m2 3v1m1-8v1m0 5v1m1-5v1m0 2v2m1-3v1m1 3v2m1-4v2m0 3v1m1-9v2m0 6v1m1-9v1m1 1v1m3 9v1m1 0v1m1 1v2m1-2v1m0 2v1m1-3v1m0 1v2m2 4v1m1-7v1m0 7v1m0 5v1m1-5v1m1-6v1m0 7v1m0 4v1m5-15v1m0 15v2m3 1v1m3 0v1m1 1v1m1-15v1m1-1v1m2-2v2m1-2v1m0 18v1m1-1v1m1-21v1m0 16v1m1-1v1m1-16v1m1 0v2m0 11v2m1-13v1m1-1v1m0 9v1m1-13v2m0 2v2m0 6v1m0 1v1m1-14v2m0 3v1m0 4v1m1-8v3m0 4v1m1-36v2m0 26v1m1-30v1m0 4v1m0 23v1m1-25v1m0 22v2m0 5v1m1-28v1m0 17v2m1-25v1m0 5v1m0 21v1m1-25v1m0 1v2m1-3v1m0 29v1m1-22v1m2 2v1m1-5v1m0 4v1m1-7v1m0 1v1m0 3v1m1 1v1m1-4v1m0 1v1m20-49v2m1 1v1m1 0v2m1 2v2m0 3v1m1-9v3m0 1v1m0 1v2m0 2v1m2 4v1m2-22v1m0 2v1m0 23v1m1-32v1m0 2v1m1-3v1m0 30v1m1-2v2m2 0v3m0 2v1m1-29v1m0 22v3m0 1v1m1-1v1m1-1v2m1-1v3m2 0v2m1-30v1m0 30v1m0 29v1m1-61v1m1 1v1m0 29v2m1-30v4m0 1v1m0 25v1m1-30v1m0 1v3m0 27v1m0 21v2m0 4v1m1-6v1m0 1v1m0 2v1m1-56v1m0 53v1m1-29v2m3 1v1m1-31v1m0 30v1m1-32v1m1 33v1m0 10v3m1-46v2m0 32v1m0 6v1m1 4v1m1-18v2m0 13v1m1-13v1m1-26v1m0 42v1m1-44v2m0 22v1m0 9v2m0 5v1m1-45v3m0 24v1m0 12v1m0 2v1m1-43v2m0 28v1m0 10v1m1-41v1m0 27v1m1-33v1m0 32v1m1-3v1m0 1v2m1-3v1m0 1v1m0 2v1m2-37v1m0 29v1m1-1v1m1-34v1m1-1v1m0 32v2m1-1v1m1-39v2m0 1v2m0 1v2m0 30v1m0 3v1m1-56v1m0 5v1m0 10v1m0 3v2m0 28v2m1-49v1m0 2v2m0 13v1m0 30v1m1-50v1m0 5v1m0 10v3m0 2v1m0 27v1m1-33v1m0 1v3m1-22v1m0 4v1m0 12v2m0 1v3m0 26v1m1-30v3m0 26v2m0 1v1m1-52v1m0 4v1m0 15v2m0 1v1m0 23v1m1-46v1m0 18v2m0 24v1m1-25v1m1-13v1m1 13v2m1-24v1m0 1v1m0 43v1m1-24v1m0 25v1m1-34v2m0 1v3m0 1v2m1-19v1m0 39v1m3-3v1m1-41v1m0 1v2m0 36v1m1-44v2m0 3v1m0 1v3m0 33v2m1-42v1m0 2v1m0 6v1m0 26v3m1-28v3m0 22v1m1-23v2m1 2v1m1 0v2m0 17v1m1 0v2m1-18v2m0 14v1m1-16v1m1 17v1m1-19v1m0 1v2m0 17v1m1-20v1m0 21v1m1-24v1m0 2v1m1 0v3m1-3v1m0 2v1m1-7v2m0 3v1m0 13v1m1 0v1m2-1v1m0 1v2m1-2v1m2-2v1m1-13v1m0 10v2m1 0v1m1-12v1m0 9v1m1-4v1m1-7v1m10-180v1m3-11v1m1 4v2m9 2v1m53 20v1m1-2v1m2-1v2m6-3v1m0 2v1m1-4v2m1 0v1m1-3v1m0 1v1m1-7v8m1-4v4m1-9v1m0 2v6m1-11v4m0 1v2m0 1v3m1-8v6m1-6v2m0 2v2m1-6v1m0 1v1m0 1v2m1-4v1m0 1v2m1-8v1m0 2v2m0 1v1m1-7v1m0 2v1m0 6v2m1-13v2m0 2v1m1-4v3m0 1v2m1-2v2m0 1v1m1-5v1m0 2v1m0 2v2m1-8v1m0 5v1m1-10v1m0 1v1m0 2v4m1-2v2m1-8v1m1-1v4m1-4v2m0 2v1m0 3v2m1-10v2m0 2v2m0 1v2m1-10v1m0 4v2m0 1v1m1-9v2m0 2v2m0 1v2m1-7v1m0 1v6m1-9v2m1-2v2m1-2v3m1-2v1m0 1v3m1-9v1m0 3v3m1-7v5m1-4v1m0 1v3m1-6v1m0 3v1m0 10v1m1-15v3m0 1v1m0 1v1m1-7v3m0 1v1m0 2v1m1-9v1m0 3v4m0 1v1m1-8v1m0 1v2m0 1v1m0 1v1m1-9v3m0 3v2m1-8v3m0 2v1m0 1v1m1-11v1m0 1v1m0 1v1m0 2v2m0 5v1m0 4v1m1-18v1m0 4v1m1-5v1m0 2v2m1-2v2m1-8v1m0 3v5m1-10v1m0 3v1m0 5v1m1-11v2m0 2v1m1-5v1m0 1v4m0 3v2m1-11v2m0 1v7m1-7v2m0 2v2m1-9v1m0 1v4m0 1v1m0 8v3m1-16v5m0 10v1"/>
<path stroke="#00e2ff" d="M105.5 264v2m0 122v1m1-125v2m0 121v1m1-125v3m2-2v2m0 123v2m1-6v1m0 1v1m1-4v1m1-123v1m1-1v1m1-2v1m1-2v2m1-2v2m1 0v1m0 121v1m2-126v1m0 1v1m1 117v1m1-114v1m0 112v1m1-115v1m1 113v1m1 0v1m1-3v1m1-2v1m1-114v1m0 113v1m2-116v2m0 1v1m2 0v1m2-1v1m0 116v1m1-115v1m0 114v1m1-114v2m1-3v1m1-1v1m1 0v1m0 108v1m1-109v2m0 105v1m0 2v1m2-110v1m1-2v2m0 105v1m1 1v1m0 1v1m1-3v1m1-113v1m0 109v2m1-3v1m1-113v1m0 109v1m1-112v1m1 113v1m3-113v1m1-1v1m0 111v1m1-115v2m0 111v1m1-115v2m0 110v1m0 1v1m1-115v2m0 113v1m1-118v3m0 117v2m1-122v1m0 121v1m1-125v1m1-1v2m1 0v1m1 2v2m0 128v2m1-133v1m1 0v1m2 128v1m1-129v1m0 127v1m1-129v2m1 123v1m1-129v1m0 1v1m1 126v1m1-129v2m0 124v1m1-129v1m1 0v2m1-2v1m0 119v2m1-123v3m0 116v1m1-121v1m0 121v1m1-126v1m0 125v1m0 2v1m1-131v2m1-1v2m1-4v1m1 2v1m1 0v2m0 118v2m1-120v2m0 117v1m1-120v1m0 116v2m1-121v2m0 115v1m1-119v2m0 114v3m1-118v2m1 123v1m2-131v1m1-1v3m0 129v2m1-134v2m0 131v1m1-4v1m2-131v2m0 126v1m1-128v2m1-3v3m3-4v2m2-4v2m0 1v1m2-1v2m1-2v1m2-3v2m1-1v1m1 1v1m0 135v1m1-137v3m0 131v2m1-2v1m1-138v2m1-1v2m0 134v1m1-138v1m0 135v1m1-2v1m1-137v3m0 130v1m1-133v3m0 130v1m1-1v1m1-3v2m1 0v1m1-135v1m0 1v1m2-2v1m0 1v3m1-4v1m0 1v1m1-6v2m0 129v1m0 1v1m1-133v2m1-2v2m0 124v1m1-128v2m0 128v1m1-131v2m0 129v1m1-132v1m0 411v1m1-413v1m1 0v1m0 133v1m1-137v3m1-1v3m0 133v2m1-3v1m1-139v1m1 137v1m2-139v1m0 138v1m1-141v2m1-3v1m0 3v4m0 123v1m1-126v4m0 117v1m0 5v1m1-127v4m0 125v1m0 8v1m1-140v1m0 128v2m1 9v1m1-139v3m0 108v2m0 26v2m1-142v2m0 127v1m1-129v1m0 111v1m0 23v1m1-137v1m0 129v2m0 2v1m0 2v2m1-138v2m0 108v1m0 24v2m1-138v1m0 108v1m1-108v2m0 103v1m1-107v1m0 107v1m1 1v1m2-113v1m1-1v3m1-3v1m0 112v1m1-114v2m0 109v1m1-114v4m0 108v1m1-114v1m0 1v1m0 110v2m3-2v2m1-119v3m0 112v1m1-115v1m0 112v2m1-113v3m0 107v2m1-114v3m0 111v1m4-108v1m3 106v1m1 0v1m1-102v2m1-2v5m0 100v1m1-106v1m0 102v2m5 7v1m2-2v2m3-115v3m1-4v2m0 105v1m0 2v1m1-112v3m0 97v1m1 10v1m1-116v1m0 2v1m1-4v4m0 408v1m2-414v1m0 363v1m3-366v2m1 0v1m4 0v2m0 108v2m2-114v1m1-1v2m0 120v1m1-122v4m1 113v1m0 295v1m1-411v2m0 114v1m1-117v2m1-3v1m0 118v1m1-119v1m2 115v2m1-118v1m2-3v1m3 4v1m0 110v1m1-113v1m0 110v2m2-2v2m2 2v2m1-118v1m0 115v1m1-115v1m0 111v1m1-1v2m2-114v1m1-1v2m1-1v1m1 1v1m1 3v1m0 1v1m3 101v2m0 1v1m1-98v2m1-2v3m1 93v1m1 2v1m3-97v1m0 386v1m3-397v1m4 101v2m4-5v1m2-2v1m0 264v1m4-270v2m1-87v3m0 83v2m1-83v1m1 74v2m1-75v3m0 1v1m0 67v1m1-72v1m0 72v1m1-75v3m1 0v4m1-4v3m0 64v1m1-70v3m0 376v1m1-377v1m1 67v1m1-67v3m0 61v2m1 0v1m1-1v1m2-71v2m1-1v4m0 70v1m1-73v2m0 69v1m1-72v2m1-2v1m0 66v2m0 258v1m1-327v3m1-3v3m0 65v2m1-69v3m0 66v2m1-2v3m1-71v3m0 63v5m1-70v2m0 62v2m0 1v1m1-66v2m0 61v1m1-94v1m0 3v1m0 2v1m0 23v1m0 61v1m1-92v1m0 1v1m0 89v1m1-87v1m1 26v4m0 52v1m1-1v1m1-77v3m1 17v1m1-15v1m0 17v1m1-1v1m0 50v1m1-50v1m2 4v3m1-23v1m0 20v1m0 2v2m1-1v1m1-57v1m0 3v2m0 29v2m1-30v1m0 1v1m0 27v1m0 19v1m0 27v1m0 1v1m1-85v1m0 30v2m0 6v1m1-39v1m0 7v1m1-8v1m0 27v1m1-25v1m0 5v1m0 16v1m0 51v1m1-70v1m0 14v1m1 51v1m0 3v1m2-8v2m1-74v1m0 71v1m0 1v1m1-76v1m0 4v2m1-6v1m0 7v1m0 61v1m2-51v1m1 52v2m2-74v3m1-1v1m1 25v1m1 0v2m1 0v2m1-5v1m0 4v1m1 3v2m0 1v1m0 6v1m0 26v1m1-43v1m0 46v1m1-1v1m1-34v1m0 31v2m1-34v1m1 1v1m0 30v3m2-49v2m0 5v1m1-1v1m0 9v1m0 26v2m0 316v1m1-344v1m0 23v2m1-30v4m0 25v1m1-29v1m0 25v1m1-27v2m1-1v2m0 26v1m2 2v1m1-30v1m0 28v1m1-32v1m0 2v1m0 29v1m2-31v1m0 17v2m0 8v1m1-11v1m0 5v1m0 1v1m2-21v1m0 8v2m0 1v2m1-11v1m0 2v3m0 1v1m0 1v1m1-2v1m0 1v1m1-2v1m1-34v1m0 33v1m1-34v1m0 1v1m0 3v1m0 1v2m1-5v1m1-4v1m0 4v2m1-10v1m1-3v2m0 10v2m1-2v1m1-28v2m0 12v1m0 14v1m1-32v1m0 3v1m0 3v1m0 1v1m0 2v2m0 1v4m0 10v3m1-32v2m0 3v2m0 6v1m0 1v1m0 2v2m0 11v1m0 2v2m1-36v1m0 3v1m0 9v1m0 1v2m0 15v1m1 0v1m1-18v3m0 14v1m1-16v1m2 18v1m1-15v1m0 11v3m1-3v3m0 1v1m1-19v1m0 1v1m0 12v2m1-13v2m0 11v1m1-15v2m0 12v2m1 0v1m1 1v1m1 285v2m2-306v2m1-3v1m0 1v1m1-5v1m0 1v2m0 26v1m1-33v1m0 33v1m1-26v1m0 27v1m1-40v4m0 7v1m0 342v1m1-344v1m0 3v4m0 14v2m0 6v1m1-32v1m0 4v3m0 2v1m0 13v1m0 2v2m0 1v1m1-29v1m0 3v1m0 7v1m0 14v1m1-15v2m1 331v2m1-381v2m1-7v1m0 1v3m0 3v1m0 1v1m1-2v2m1-10v1m0 379v1m1-381v1m0 14v1m0 12v2m1-30v1m0 15v1m0 1v1m0 7v2m0 1v1m0 350v2m1-385v2m0 21v1m1-24v1m0 33v4m0 2v1m0 340v1m2-380v2m0 35v1m1-1v2m1-38v1m0 35v1m1-24v6m0 1v4m0 12v2m0 337v1m0 2v2m0 2v2m1-381v1m0 11v1m0 8v1m0 2v1m0 4v2m0 341v2m0 1v2m0 2v2m2-377v1m0 366v1m2-343v2m0 4v1m0 1v1m0 341v2m1-352v1m0 9v1m1-12v1m0 11v1m0 337v2m1-356v1m0 2v1m1-3v3m0 2v1m0 9v1m1-21v1m0 22v1m0 330v2m0 1v2m1-335v1m0 329v2m1-354v1m0 12v1m0 1v2m0 5v1m1-31v1m0 5v1m0 2v2m0 14v1m1-29v1m0 1v1m0 1v1m0 2v1m0 1v1m0 6v2m0 6v1m1-17v1m0 10v3m0 343v3m1-10v3m0 6v1m1-8v1m1 4v1m1-1v1m1-3v2m0 2v2m1-2v2m2-11v2m2 1v1m1 6v2m5-9v2m0 2v1m1-1v1m1-6v2m1-2v2m0 3v1m1-2v2m3-4v1m1 3v2m1-8v1m0 5v2m1-8v1m0 5v2m1 0v1m1-8v1m0 1v1m0 4v1m1-8v1m1 2v2m1-4v1m1-6v2m1 10v1m2-5v1m3-2v2m1-7v3m1-3v2m0 5v1m1-2v2m4-6v1m0 6v1m1-8v1m0 6v1m1-4v1m5-2v2m3-6v2m1-2v2m0 4v1m2-8v2m1-2v2m3 4v1m0 2v1m1-8v1m0 2v1m1-5v2m1-2v2m5-5v1m1-1v1m1 9v1m1-5v1m0 3v2m1-360v1m0 355v2m1-358v2m0 1v1m0 353v2m1-2v2m1-358v2m0 2v2m1-5v1m0 5v2m1-6v1m0 2v2m0 344v1m1-348v1m0 350v2m1-351v1m0 348v2m1-349v1m1 0v3m0 300v1m1-302v1m1 345v1m2-341v1m2 336v2m1-338v1m0 336v1m1-339v1m0 337v1m1-335v1m0 331v1m1-333v1m0 332v1m1-334v1m1-1v3m0 2v1m0 12v1m1-11v1m1-6v1m0 6v1m1 1v1m1-6v2m0 6v1m1 0v2m1-9v1m0 9v1m1-12v1m0 11v2m2-16v2m0 15v1m1-18v2m0 15v1m1-16v1m0 13v2m1-15v2m0 10v3m1-1v1m1-13v2m0 11v1m2-11v1m0 11v1m2-13v1m0 13v1m0 306v1m1-322v1m0 15v1m1-18v2m0 15v1m1-19v1m0 1v1m0 15v1m1-21v1m1 2v1m0 13v1m1-14v1m0 11v1m1-2v2m1-1v1m0 308v2m1-319v1m0 316v2m1-317v1m1 0v1m0 1v2m1-4v1m0 1v2m0 305v2m0 1v2m1-316v2m0 2v1m0 306v2m1-342v1m0 28v2m0 2v1m1-34v1m0 28v1m0 2v1m1-32v2m0 3v1m0 20v1m0 1v3m0 2v1m0 307v2m1-337v1m0 21v1m0 1v3m0 306v1m0 2v1m1-313v4m0 310v1m1-338v2m0 24v3m0 291v1m1-321v3m0 1v1m0 1v2m0 18v3m0 291v1m0 6v1m1-326v2m0 4v2m0 16v4m0 297v1m1-325v1m0 326v1m1-327v1m0 1v1m0 3v2m0 319v1m1-321v1m0 308v1m0 10v1m1-320v2m0 306v1m1 7v1m3-9v1m0 11v1m1-13v1m0 11v1m4-13v1m1-1v1m0 15v1m1-1v1m1-4v1m0 3v2m1-14v1m1-6v1m0 4v1m0 9v1m1-16v1m4-1v1m0 13v2m1-16v1m0 13v2m1 0v2m3-359v1m0 340v1m1-343v1m0 341v1m1-347v4m0 1v1m0 1v1m0 344v2m0 1v3m0 2v2m1-360v2m0 1v1m0 1v1m0 1v1m0 347v1m0 1v1m1-353v3m0 1v2m0 339v1m0 3v4m0 2v1m1-369v1m0 14v1m0 1v5m0 330v1m0 5v1m0 3v2m1-348v3m0 333v1m1-330v1m1-29v1m0 25v2m0 340v2m1-369v2m0 24v4m0 337v2m1-367v2m0 23v2m0 4v1m0 332v1m0 6v1m1-346v1m0 3v1m0 340v1m1-343v2m0 1v1m0 332v1m1-357v1m0 20v1m0 333v2m1-335v1m0 333v1m0 1v1m1-335v1m0 320v1m0 11v2m1-334v1m0 30v1m0 288v1m0 9v1m0 1v2m1-360v2m0 26v2m0 29v1m0 296v1m0 2v1m1-359v1m0 28v1m0 29v1m0 1v1m1-60v1m0 1v1m0 25v1m0 28v1m0 2v2m1-57v1m0 23v2m0 26v1m0 2v1m0 298v1m1-329v4m0 25v1m0 294v1m0 3v1m1-353v2m0 24v2m0 24v1m0 1v2m0 292v1m0 3v1m2-351v1m0 349v2m1-325v1m0 317v1m1-320v1m0 313v2m1-2v2m1-314v1m1-2v1m0 314v1m1-344v1m0 342v1m0 2v2m1-345v3m0 30v1m0 8v2m0 299v2m0 3v1m1-347v1m0 36v2m0 2v1m1 0v2m0 299v1m1-341v1m0 37v1m0 1v2m0 297v2m1-340v1m0 24v1m0 11v2m0 1v2m0 1v1m0 298v1m1-342v1m0 19v2m0 3v1m0 10v1m0 300v1m0 3v1m1-343v1m0 1v1m0 19v1m0 1v2m0 2v1m0 9v1m0 299v1m1-314v2m1-28v1m0 6v1m0 334v2m1-348v4m0 9v2m0 9v1m0 6v1m1-33v2m0 14v2m0 331v2m1-349v2m0 14v2m0 11v1m0 309v1m0 3v2m1-345v3m0 15v2m0 8v1m0 310v1m0 3v2m1-327v1m0 1v2m0 318v1m1-345v2m0 1v1m0 22v2m0 316v1m1-344v1m0 1v1m0 24v2m0 3v1m1-33v1m0 29v1m0 315v1m1-346v1m0 29v1m1 307v2m0 2v1m1-358v1m0 352v2m0 1v1m1-355v1m0 16v2m0 332v1m1-352v1m0 18v1m0 27v1m0 303v1m0 4v1m1-358v1m0 4v1m0 16v2m0 25v1m0 307v2m1-358v1m0 2v1m0 44v1m0 307v1m1-356v1m0 21v1m1-21v1m0 20v1m1-20v1m0 1v2m0 16v3m0 20v1m1-23v1m0 20v3m0 304v1m1-348v3m0 2v1m0 14v2m0 19v2m0 304v1m0 5v1m1-351v2m0 346v1m1-309v1m1-36v1m0 13v1m0 327v1m1-348v1m0 8v1m0 10v1m0 22v1m0 307v1m1-350v1m0 14v1m0 3v2m0 17v1m0 310v1m1-329v4m1-2v4m0 9v1m0 1v2m1-17v6m1-31v1m0 26v6m0 309v2m1-346v1m0 1v1m0 28v6m0 2v2m1-36v1m0 6v3m0 18v5m0 306v1m0 1v2m0 3v1m0 1v1m1-338v2m0 17v3m0 308v2m0 2v2m0 1v1m1-335v2m0 16v1m1-17v2m0 15v1m1-16v2m0 14v1m1-15v2m0 321v1m1-1v1m1-322v1m0 319v1m1-321v2m0 16v1m1-15v1m0 16v1m1-19v2m0 313v1m0 7v1m1-323v2m0 312v1m1-312v1m0 14v1m0 298v1m1-319v1m0 1v1m1 1v3m1-4v2m0 12v1m1-15v3m0 10v1m0 1v1m1-14v1m0 11v1m0 1v1m1-16v1m0 1v1m0 11v2m0 301v2m1-317v1m0 11v1m0 301v2m1-314v2m0 8v1m0 296v2m1-309v1m0 306v2m1-308v2m0 8v1m0 303v1m1-314v2m0 6v1m0 294v2m0 3v2m0 3v1m1-314v2m0 5v1m0 295v2m0 3v1m1-305v1m0 302v2m1-2v2m1 3v2m4-6v1m0 1v2m1-2v2m1-5v1m1 2v1m1-1v1m1 1v2m1-2v2m1-10v1m0 7v1m1-9v1m1-2v2m1 8v2m1-2v2m3-12v1m0 1v2m0 3v2m1-9v1m2 1v2m1-2v2m1-3v1m0 2v2m1 0v1m1-1v1m1-2v2m0 3v1m1-6v3m0 2v1m1-3v3m1-3v1m2 0v2m1-9v2m0 2v2m1-2v2m0 1v1m1-6v1m0 3v2m6-53v1m1-1v1m1-1v1m0 47v2m2-7v1m1-1v1m0 9v1m1-2v1m1-8v2m2 0v1m2 3v2m1-5v2m1-2v2m0 3v1m1-1v1m3-7v1m1-1v1m1-6v1m0 4v1m1-6v1m0 3v1m1-4v1m0 2v2m0 3v1m1-1v1m3-4v2m1-1v1m3 0v1m1-4v1m1-1v1m1-4v3m0 4v2m1-9v3m3-9v1m5-1v1m4-457v1m1-5v1m4 4v1m1-3v1m0 1v1m1-7v2m0 2v1m1-4v1m0 2v2m1-5v1m0 2v3m0 454v1m1-461v1m0 1v2m1-5v4m1-4v3m0 4v1m1-6v2m0 4v1m1-5v4m1-8v2m0 1v2m0 2v1m1-8v5m0 1v1m0 454v1m1-463v2m0 4v1m0 2v1m1-11v5m0 2v2m1-9v7m0 1v1m1-6v8m1-7v3m0 2v2m1-6v1m0 2v2m0 1v2m1-8v1m0 1v1m0 2v1m1-7v1m0 2v1m0 2v2m1-11v1m0 6v1m1-7v5m0 6v1m1-13v1m0 1v5m1-6v8m0 1v1m1-13v1m0 1v1m0 3v6m0 1v1m0 450v1m1-465v1m0 3v4m0 1v3m1-10v2m0 1v4m1-10v1m0 3v2m0 1v2m0 3v2m1-15v2m0 2v3m0 6v1m0 1v1m1-11v1m0 1v1m0 3v5m1-11v2m0 1v2m0 3v3m1-16v2m0 7v2m0 4v2m0 449v1m1-467v1m0 8v1m0 5v4m1-11v1m0 5v3m0 442v1m1-454v1m0 1v1m0 2v2m0 2v4m1-13v3m0 1v1m0 1v1m0 2v1m1-11v1m0 5v7m0 438v1m1-452v1m0 5v7m1-13v1m0 6v1m1-7v2m0 5v3m1-15v5m0 1v2m0 3v1m0 1v1m0 5v1m0 435v1m1-456v2m0 2v4m0 2v2m0 4v1m1-21v1m0 4v3m0 2v4m0 1v2m0 3v1m1-12v6m0 1v4m0 437v1m1-454v2m0 2v3m0 1v3m0 2v3m0 2v1m1-18v1m0 1v4m0 2v2m0 3v6m1-17v1m0 2v1m0 5v1m0 1v3"/>
<path stroke="#03fffc" d="M105.5 266v2m0 118v2m1-122v3m0 117v1m1-121v2m0 118v2m1-125v4m0 122v1m1-124v2m1-3v3m2-5v5m0 4v4m0 107v1m1-121v3m1-4v4m0 21v2m0 94v2m1-123v3m0 20v4m0 92v1m1-120v11m0 108v1m1-119v2m0 2v1m0 115v1m1-123v2m0 120v1m1-122v1m1 114v2m1-112v2m0 109v1m1-113v3m0 109v1m1-2v2m1-115v2m0 6v3m0 104v1m1-115v3m1 108v1m1-112v1m1-3v3m0 111v1m1-111v2m0 105v1m0 1v1m1-109v1m1-1v4m0 105v1m1-111v1m0 14v9m1-23v1m0 12v8m0 92v1m1-111v5m0 107v2m1-111v4m1-6v2m0 112v1m1-115v2m0 107v4m1-7v3m0 1v3m1-110v2m0 101v2m1-106v3m0 101v2m1-105v2m0 99v2m1-103v3m1-5v3m0 104v1m0 2v1m1-112v2m0 106v2m1-111v2m0 106v1m1-2v1m1-111v4m0 104v1m0 1v1m1-112v2m0 108v1m1-113v2m0 3v5m0 103v2m1-116v1m0 1v10m1-8v9m0 100v1m1-109v5m1-5v3m1-4v4m1-5v2m0 107v1m1-110v2m0 109v2m1-114v3m0 110v2m0 1v1m1-119v3m0 114v1m0 1v1m1-122v4m0 121v1m0 1v1m1-127v4m0 123v1m1-127v7m0 123v1m1-127v2m0 125v1m1-130v1m0 129v1m1-130v4m0 127v1m1-133v1m1-3v1m0 129v1m0 1v1m0 4v1m2-133v2m0 120v2m1-126v1m0 123v1m1-125v1m0 125v1m1-5v1m0 1v2m1-126v4m0 117v2m1-126v3m1-1v6m0 115v1m1-123v1m1 0v2m0 1v1m0 111v1m1-119v2m0 117v2m1-123v2m0 128v1m1-132v2m0 130v1m0 1v2m1-135v3m0 125v1m0 1v1m1-133v6m0 118v2m0 2v1m0 1v1m1-129v1m0 120v2m1-121v2m0 114v2m1-116v3m0 110v4m1-118v4m0 110v2m1-117v3m0 111v1m1-116v4m0 109v1m1-113v3m0 112v2m1-121v6m0 114v3m0 1v2m1-127v1m1-2v2m1 0v2m0 129v1m1-133v3m0 126v2m1-134v2m1-2v4m0 124v2m1-127v2m0 123v1m1-125v3m0 123v2m1-128v1m0 124v2m1-131v3m0 129v1m1-134v3m1 0v1m0 128v1m1-133v2m1 1v2m1-2v2m1-1v3m0 129v1m1-134v1m1-3v5m0 131v2m1-137v3m0 132v2m1-137v2m0 132v2m1-136v1m0 1v1m0 133v1m1-133v2m0 128v1m1-134v2m0 131v1m1-135v2m0 132v1m0 1v1m1-136v3m0 129v2m1-136v3m0 129v3m1-135v2m0 130v2m1-133v3m0 126v1m1-129v2m0 127v1m1-134v2m0 131v1m1-136v1m0 1v1m1-2v3m0 131v1m1-133v1m0 1v2m0 127v2m1-133v4m1 1v3m0 125v1m1-132v1m0 1v1m0 126v1m1-132v3m0 124v2m1-128v3m0 122v1m1-126v4m0 119v1m1-125v4m0 123v1m1-128v2m0 126v1m1-130v2m0 126v1m1-129v1m1 0v2m0 127v2m1-131v2m0 126v4m0 2v1m1-133v2m0 130v1m1-137v3m1-3v3m0 131v1m1-136v7m0 129v1m1-138v3m0 2v5m0 127v1m1-137v4m0 1v1m1-6v7m0 132v3m1-144v1m0 6v5m0 116v1m0 2v2m0 10v2m1-136v4m0 121v1m0 7v2m1-134v4m0 122v2m0 5v1m1-138v3m0 111v2m0 14v4m0 1v2m1-137v3m0 111v1m0 13v6m0 4v1m1-135v4m0 102v2m0 17v4m0 5v2m1-138v3m0 107v2m0 17v4m0 1v1m0 1v2m1-138v4m0 126v5m1-135v2m0 105v2m0 25v2m1-134v3m0 104v1m0 24v1m1-135v2m0 105v1m1-105v2m0 100v1m1-105v1m0 105v1m1-108v2m0 1v1m0 104v2m1-111v1m0 109v1m1-111v3m0 104v2m1-107v4m1-6v2m0 107v3m1-111v2m1-2v3m0 102v3m1-112v1m0 109v2m1-114v4m0 111v1m1 1v1m1-120v4m1-2v6m0 105v1m1-113v7m0 104v1m1-108v2m0 104v1m1-109v4m0 105v2m1-114v6m0 107v1m1-4v1m1-108v1m0 104v2m1-104v1m1 2v4m0 98v2m1-101v1m0 100v1m1-101v3m0 97v1m1-101v4m0 97v1m1-99v3m0 97v1m1-98v3m1 94v1m1-105v1m0 104v1m0 1v1m1-116v2m0 114v1m1-119v1m0 117v2m2-119v5m0 116v1m1-120v6m0 116v1m1-121v1m0 1v3m1-3v1m0 117v1m1-117v3m0 111v1m1-111v3m0 105v1m1-111v5m0 93v1m0 2v3m1-104v5m0 101v1m1-110v1m0 96v2m0 13v1m1-115v1m0 1v2m0 97v1m1-100v3m0 97v2m1-105v1m0 101v2m1-105v2m0 99v2m1-105v4m0 101v2m1-108v5m1-2v3m0 103v1m1-106v2m0 101v1m1-105v3m0 101v1m1-105v4m1-2v2m0 104v2m0 1v1m1-109v2m2-5v2m1-1v4m0 115v1m1-117v2m1-4v2m0 112v1m1-112v3m1-3v2m0 112v1m0 1v2m1-120v2m0 117v1m1-119v2m0 1v1m1-7v1m0 118v1m1-119v2m0 114v1m1-115v2m0 114v1m1-118v3m1-4v1m1 112v1m1-111v3m0 107v2m1-110v3m1-4v1m0 107v2m1 0v2m1-111v2m0 106v1m1 2v1m1-1v1m1-114v1m0 113v1m1-113v2m0 107v2m1-113v2m0 110v1m2-113v1m0 3v2m0 106v1m1-110v4m0 107v1m1-111v2m0 3v1m1-5v10m0 97v2m1-107v1m0 1v1m0 1v2m0 98v2m1-102v1m0 96v2m1 1v2m1-97v2m0 2v1m0 90v1m1-92v5m0 88v1m1-93v5m0 86v2m1-92v2m0 2v4m1-8v1m0 6v4m0 83v1m1-95v2m0 9v3m0 77v3m1-93v3m0 10v1m0 79v1m1-91v4m0 7v2m0 78v1m1-96v1m0 6v4m0 5v2m0 78v1m1-103v2m0 4v1m0 10v2m0 5v2m0 74v1m1-107v1m0 4v1m0 2v4m0 13v1m0 5v2m1-35v3m0 15v3m0 7v2m0 5v1m0 71v1m1-108v2m0 15v2m0 2v2m0 6v2m0 5v2m0 69v2m1-109v1m0 16v1m0 5v2m0 6v2m0 4v2m0 66v1m1-107v1m0 17v2m0 6v3m0 4v2m0 4v1m0 66v1m1-105v1m0 1v1m0 14v3m0 6v3m0 4v1m0 2v2m0 67v2m1-88v3m0 6v2m0 4v3m1-30v1m0 14v2m0 5v1m0 73v1m1-80v2m0 2v2m1-20v3m0 13v3m0 71v1m1-92v2m0 89v1m1-92v3m0 87v1m1-90v3m0 83v2m1-87v4m0 83v1m1-3v1m1-82v1m0 77v2m0 1v1m1-4v1m1-75v4m0 67v2m1-70v1m0 1v2m0 64v1m1-70v3m1-2v2m1 2v4m1-5v3m0 60v1m0 1v1m1-68v3m0 65v1m1-68v1m0 67v1m1-68v3m0 61v2m1-63v3m0 57v1m1-65v3m0 63v1m1-68v2m0 65v1m1-69v1m0 66v2m1-68v2m0 68v1m1-68v3m0 65v1m1-69v4m0 64v1m1-69v2m0 65v1m1-69v5m1-2v4m0 59v4m1-67v3m0 60v2m1-64v2m0 61v3m0 2v1m1-70v2m0 62v3m1-65v2m0 58v3m1-63v2m0 59v1m1-60v2m0 58v1m1-88v1m0 26v3m0 56v2m1-87v5m0 23v2m0 57v1m1-85v2m0 1v1m0 21v3m1 2v4m0 47v1m1-56v4m1-3v4m0 50v2m1-75v1m0 71v1m1-70v1m0 16v1m0 50v1m1 0v1m1-2v2m1-45v1m0 39v1m0 1v1m0 1v2m1-42v3m0 31v1m0 1v1m1-34v3m1-28v2m0 23v2m0 28v1m1-31v4m0 28v1m1-88v1m0 3v1m0 29v1m0 21v2m0 26v1m1-83v2m0 3v2m0 25v2m0 1v2m0 2v2m0 14v4m0 20v2m1-80v2m0 4v1m0 22v2m0 10v1m0 15v2m0 20v1m1-77v2m0 1v2m0 21v1m0 14v5m0 9v1m0 20v2m1-76v1m0 3v1m0 18v2m0 19v5m0 3v2m0 19v1m1-73v1m0 2v1m0 16v4m0 24v4m0 19v3m1-55v1m0 47v4m1-52v1m0 47v3m1-61v4m0 5v2m0 47v1m1-69v1m0 10v1m0 2v6m0 46v3m0 1v1m1-74v4m0 10v2m0 54v2m1-56v2m1 0v2m0 48v2m1-49v1m0 49v1m1-50v1m0 49v1m1-49v2m0 47v1m1-70v2m0 20v2m0 44v1m0 1v2m1-48v1m1-27v1m0 27v2m0 35v2m3-33v2m0 6v4m1-6v1m0 30v1m1-26v1m0 1v1m0 21v2m0 4v2m1-30v4m0 21v1m1-28v1m0 28v2m1-1v2m1-30v1m0 28v1m1 0v1m1-30v1m0 28v2m1-30v1m0 24v1m1-24v1m0 21v1m1-24v3m0 20v2m1-27v2m0 1v1m0 22v1m1-26v3m0 23v2m1-27v2m1-2v3m0 23v3m1-29v2m0 26v1m1-28v4m1-6v2m0 1v2m0 25v2m1-30v1m0 1v4m0 10v4m0 7v1m1-27v9m0 7v1m0 4v2m1-21v1m0 2v1m0 1v3m0 5v2m1-13v2m0 1v4m0 3v4m1-10v2m0 1v3m0 2v1m1-8v2m1 0v1m3-26v1m1 0v3m1-2v1m1-2v2m0 3v2m1-10v1m0 2v1m0 1v2m0 2v1m1-11v1m0 7v2m0 2v1m1-30v1m0 26v3m1-30v1m0 18v1m1-18v3m0 11v1m0 13v1m1-30v2m0 16v2m0 10v2m1-15v2m0 13v1m1-14v2m0 1v1m1-4v3m0 12v1m1-15v1m0 13v1m1-13v1m0 11v3m2-13v1m0 1v1m0 7v1m2-8v1m0 9v1m0 335v1m1-348v2m1-1v5m0 7v1m1-8v4m0 5v1m1-19v1m0 12v4m0 3v1m1-20v4m0 12v6m1-20v6m0 11v2m0 2v1m1-22v1m0 5v4m0 8v1m0 4v1m1-25v1m0 10v5m0 2v2m0 5v1m1-31v7m0 1v1m0 12v3m0 8v1m1-35v1m0 8v1m0 26v1m1-34v1m0 4v1m0 2v3m0 1v1m0 17v1m0 3v2m1-27v2m0 4v2m0 14v2m1-26v4m0 6v2m0 10v1m0 5v1m1-26v1m0 10v1m0 8v1m1-8v2m0 6v2m1-6v1m2-57v1m0 7v1m1-10v1m1 1v4m1-4v2m0 11v1m1-14v1m0 8v3m0 4v1m0 5v1m0 1v1m1-27v3m0 7v2m0 2v4m0 1v1m0 9v2m0 4v4m1-40v5m0 6v1m0 7v4m0 9v1m0 4v1m0 2v1m0 334v1m1-375v4m0 6v2m0 10v4m0 7v1m0 1v3m0 341v1m1-378v4m0 5v4m0 11v4m0 6v1m0 342v1m1-379v1m0 13v4m0 10v2m0 5v1m1-35v2m0 9v3m0 3v4m0 7v1m0 5v1m1-25v2m0 11v2m0 2v2m1-18v1m0 15v1m0 1v1m1-27v2m0 7v1m1-6v4m2 22v1m0 1v1m0 2v1m0 1v1m1-9v3m0 4v2m1-10v2m0 8v1m1-11v1m0 11v1m1-21v1m0 1v2m0 3v2m0 9v1m1-13v1m1-7v1m0 21v1m1-23v1m0 12v1m0 1v1m0 3v3m1-18v1m0 7v3m0 5v1m1-9v2m1-1v1m8 336v1m0 3v1m1-1v1m2-7v1m0 6v2m1-9v1m10 6v2m3 1v1m1-1v1m8-7v1m1-1v1m2-1v1m1-1v1m2 0v2m1-3v2m2 0v2m1-1v2m4-8v1m3 0v1m2 3v1m8-5v1m0 3v1m1-5v1m0 3v1m7-3v1m1 2v3m1-2v2m4-357v1m1-2v5m0 350v1m1-354v2m1-2v2m1 0v1m1 1v1m1 2v1m1-2v1m8 7v2m2 3v1m2 1v3m1-1v2m1-3v3m0 2v1m1-4v3m1 0v2m0 4v1m1-5v3m0 2v1m2-5v3m0 5v1m1-10v2m0 8v1m1-13v3m0 10v1m1-13v3m1-3v3m0 11v1m1-14v3m1-1v3m1-5v4m0 8v2m1-1v2m1-10v2m0 9v1m0 307v2m0 2v1m1-323v3m0 7v1m0 311v1m1-324v2m0 10v3m1-14v1m1-1v1m0 13v1m0 300v1m1-316v1m0 12v2m0 300v1m1-318v1m0 1v1m0 12v2m1-18v4m0 10v2m0 305v1m1-320v2m0 10v1m1-12v1m0 8v2m1-10v3m1-2v1m0 7v1m0 308v1m1-316v1m0 4v2m1-5v1m0 3v1m0 298v2m1 1v1m1-306v1m1-2v2m1-32v3m0 27v2m1-32v3m0 26v2m0 1v1m0 306v2m0 2v2m1-343v3m0 26v2m0 306v2m0 2v2m1-342v2m0 340v1m1-340v1m0 329v2m1-329v1m0 326v2m1-328v1m1 0v2m0 1v1m1-4v3m0 2v2m1-6v1m4 328v1m3-9v2m1-2v2m0 5v1m1-1v2m3 0v1m1-1v1m6-2v2m1-1v2m5-4v2m1-2v2m1-356v1m0 354v2m1-364v2m0 4v1m0 1v1m0 1v1m1-5v1m0 1v1m0 1v1m0 1v1m1-6v2m0 3v1m1-4v2m0 1v1m0 344v1m1-369v1m0 2v2m0 17v1m0 3v3m1-28v2m0 20v1m0 1v5m1-27v2m0 20v1m2 3v1m1-20v1m0 360v2m1-361v2m0 19v1m1-19v2m0 350v2m1-334v1m0 328v1m0 2v1m0 3v1m1-335v1m0 329v1m2-328v1m0 333v1m1-360v1m0 2v1m0 23v1m0 31v1m1-58v1m0 1v2m0 22v1m0 30v2m1-52v1m0 18v2m0 29v2m1-52v1m0 50v1m0 1v1m0 296v1m1-350v1m0 21v1m0 319v2m0 5v1m1-350v1m0 25v1m0 315v2m1-343v2m0 21v1m0 315v1m1-315v1m1-2v1m0 321v2m1-2v2m1-345v2m1-7v8m0 18v2m1-27v2m0 2v4m1-3v2m0 23v3m0 10v1m1-39v1m0 25v1m0 12v1m0 300v1m1-340v1m0 21v1m0 16v1m1-15v1m0 14v1m1-18v4m0 1v2m0 11v1m0 303v2m1-321v2m0 12v2m0 296v1m0 6v2m1-346v1m0 1v1m0 1v1m0 8v4m0 11v1m0 9v1m1-39v1m0 1v5m0 8v4m0 1v1m0 4v1m1-21v2m0 1v3m0 4v8m0 2v2m1-20v2m0 2v2m0 4v3m0 1v6m1-30v3m0 9v2m0 2v2m0 4v7m0 1v1m0 305v2m0 6v2m1-344v2m0 10v2m0 2v2m0 4v5m1-26v2m0 11v2m0 2v2m0 4v2m1-28v1m0 18v1m0 2v2m0 4v1m0 310v1m1-320v2m0 2v2m0 2v1m0 310v1m1-342v1m0 1v2m0 20v2m0 2v3m1-31v3m0 23v3m0 1v1m2-1v2m1-28v1m1 1v1m0 26v1m1-46v3m1-4v4m0 43v1m1-47v2m0 20v2m0 22v1m1-48v1m0 1v1m0 1v2m0 18v3m0 20v2m1-47v1m0 1v2m0 20v3m0 19v1m1-43v1m0 21v3m0 16v1m1-41v2m0 1v1m0 16v1m0 1v4m0 319v1m1-343v2m0 19v4m0 317v2m1-347v1m0 1v1m0 23v2m0 16v1m1-44v1m0 20v1m0 5v2m1-28v2m0 5v2m0 12v1m0 22v1m1-43v2m0 7v1m0 10v2m0 19v1m1-28v2m0 1v3m0 2v2m0 6v2m0 6v1m1-36v2m0 15v2m0 4v2m0 4v2m0 4v2m1-18v2m0 4v2m0 4v3m0 1v1m1-9v2m0 4v2m1-6v2m0 2v2m0 308v1m1-338v2m0 23v2m1-24v2m1 1v1m0 333v1m1-332v1m0 328v3m2-328v1m2 1v1m0 12v1m1-13v2m1-1v1m0 13v1m0 305v1m1-320v1m0 1v1m0 316v1m1-318v1m0 1v1m0 315v2m1-319v1m0 1v1m0 14v1m1-16v1m0 11v2m1-14v1m0 12v1m0 303v1m1-307v1m0 304v2m1-318v3m0 8v1m1-11v2m0 9v1m1-12v4m1-5v1m0 1v1m0 8v2m1-11v3m0 6v2m1-8v3m0 4v1m1-9v4m0 4v1m1-7v3m0 3v2m0 302v1m1-310v2m0 2v1m1-5v4m1-5v1m1 307v1m9-3v2m1-2v2m5 2v1m1-1v1m2-2v2m5-5v1m0 5v1m1-1v1m3-4v1m4-6v1m2 5v1m2-2v1m1-1v1m3-8v2m4 0v2m11 3v2m5-8v2m15 6v1m18-471v1m1-1v1m2 1v1m1-3v1m1-2v2m1-3v1m0 2v1m1-3v4m3-1v1m1-2v2m1-1v1m1-3v1m3 2v1m1-3v2m1-2v2m1-1v2m1-10v1m0 5v4m0 1v1m1-11v1m0 5v3m0 1v2m1-4v1m1 0v1m1-5v1m0 3v2m1-10v1m0 4v5m0 1v2m1-12v1m0 2v3m0 2v1m1-9v1m0 1v4m1-5v3m1-1v3m0 3v2m1-7v4m1-5v5m1-6v3m0 1v1m0 3v1m1-9v2m0 2v2m1-6v1m0 3v2m1-9v1m0 1v1m0 1v1m1-5v1m0 3v1m1-5v3m0 2v1m0 1v6m1-11v5m0 3v1m1-8v3m0 1v1m0 1v5m1-17v2m0 4v2m0 2v4m0 1v3m1-10v1m0 2v3m0 1v3m1-9v1m0 4v2m1-11v1m0 3v2m0 3v2m1-11v2m1-5v2m0 1v5m0 5v1"/>
<path stroke="#1affe6" d="M105.5 268v14m0 9v3m0 88v4m1-117v12m0 103v2m1-118v4m0 1v6m1-12v7m0 114v1m1-121v4m0 114v3m1-121v2m0 17v4m0 93v1m1-121v4m0 1v10m0 1v12m0 91v1m1-116v4m0 4v8m0 2v14m0 81v2m1-117v36m1-36v21m0 2v12m0 81v1m1-118v20m0 4v4m0 86v2m1-108v16m0 90v2m1-116v2m0 1v7m0 2v3m0 5v3m0 94v1m1-120v1m0 5v3m0 14v8m1-30v8m0 15v6m1-28v11m0 100v1m1-108v3m0 2v2m0 101v1m1-109v1m0 1v1m0 105v1m1-113v13m0 98v1m1-111v6m0 3v4m0 98v2m1-111v10m0 99v1m1-114v16m0 3v5m0 87v1m1-110v12m0 98v2m1-112v4m0 105v2m1-108v1m0 105v1m1-107v3m0 17v2m0 6v7m0 1v1m0 71v1m1-98v14m0 2v9m0 71v1m1-109v3m0 1v10m0 9v11m0 75v1m1-108v11m0 8v8m0 81v3m0 1v2m1-108v19m0 83v2m0 1v2m1-105v11m0 93v5m1-113v9m0 99v4m0 1v1m1-114v6m0 98v3m0 4v4m1-115v1m0 102v1m1-101v4m0 96v1m1-101v7m0 93v1m1-101v3m0 95v1m1-98v3m0 97v2m1-104v4m0 99v1m1-106v7m0 97v2m1-107v11m0 93v2m1-109v5m1-3v4m1-7v7m0 5v3m0 90v1m0 1v1m1-110v3m0 5v3m0 2v6m0 91v1m1-102v20m0 81v3m1-103v16m0 83v1m1-103v15m0 89v2m1-108v10m0 96v2m1-108v8m0 97v2m1-110v10m0 96v1m1-107v5m1-5v4m0 105v1m1-112v6m0 106v2m0 1v1m0 1v1m1-119v8m0 105v8m1-120v8m0 105v10m1-119v5m0 106v4m0 2v4m1-122v3m0 113v1m0 2v6m1-128v5m0 122v2m1-125v4m0 19v2m0 1v1m0 98v1m1-121v1m0 3v3m0 115v1m1-124v9m0 109v1m0 3v1m0 1v1m1-132v3m0 1v8m0 112v2m1-123v4m0 115v1m1-123v3m0 119v1m1-123v3m0 119v3m1-128v5m0 117v2m0 1v1m1-120v5m0 111v1m1-121v9m0 107v2m0 3v1m1-117v4m0 108v3m1-121v8m0 108v2m1-116v1m0 1v3m0 107v1m1-116v2m0 113v2m1-119v3m0 115v4m0 2v1m0 2v1m1-129v3m0 14v3m0 104v1m0 1v1m0 1v2m0 1v1m1-130v5m0 115v5m0 1v1m1-126v4m0 111v3m1-121v4m0 113v3m1-117v2m0 111v1m1-111v1m0 107v2m1-110v2m0 106v2m1-112v3m0 106v2m1-111v3m1-3v3m0 107v2m1-113v5m0 107v2m1-120v3m0 2v6m0 108v8m1-127v5m0 115v1m0 2v1m0 1v3m1-126v3m0 121v3m1-127v2m0 121v3m1-130v3m0 125v1m1-127v2m1-1v3m1-1v2m0 120v1m1-125v4m0 119v1m1-126v7m1-8v8m0 122v1m1-130v5m0 122v1m1-130v4m0 127v2m1-130v2m1-2v4m0 126v1m1-129v3m1-6v2m1 0v3m0 127v1m1-132v4m1-5v3m1-2v5m1-2v2m1-5v2m0 128v1m1-132v2m0 127v3m0 1v1m1-132v2m0 125v2m1-131v2m0 126v1m1-130v3m0 125v2m1-128v2m0 123v1m1-126v4m0 121v2m1-131v5m0 125v1m1-132v1m0 128v2m1-130v4m0 126v1m1-128v2m0 123v2m1-127v4m0 124v2m1-126v2m0 121v2m1-128v3m0 118v5m1-128v5m0 117v2m1-123v7m0 114v1m1-121v4m0 114v1m1-120v3m0 117v3m1-125v3m0 120v3m1-127v8m0 115v3m1-127v10m0 118v2m1-128v6m0 118v3m1-127v4m0 121v1m0 4v2m1-130v2m0 122v6m1-133v5m0 126v2m1-133v4m0 126v1m1-128v2m1-7v2m0 5v1m0 124v2m1-132v1m0 1v5m0 126v1m1-131v5m0 111v1m0 1v2m0 2v1m0 7v2m1-129v3m0 108v5m0 5v2m0 5v3m1-130v2m0 107v2m0 11v2m0 4v1m1-128v1m0 104v4m0 15v5m1-134v4m0 105v2m0 20v1m1-132v4m0 105v2m0 20v4m1-130v3m0 98v1m0 23v5m1-133v3m0 102v2m0 23v1m0 1v1m1-132v3m0 102v2m1-109v5m0 99v1m1-102v4m0 98v2m1-107v2m0 102v1m1-102v1m1-4v2m0 101v2m1-105v1m0 1v3m0 99v2m1-108v1m0 105v3m1-107v3m0 98v1m0 1v1m1-101v3m0 99v2m1-108v4m0 102v1m1-106v4m0 101v2m1-106v1m1-6v5m0 102v1m1-108v3m0 106v2m0 1v1m1-118v1m0 1v9m0 103v4m1-115v8m0 102v2m1-108v3m0 101v1m1-105v3m0 99v2m1-105v4m0 98v2m1-104v4m0 99v2m1-106v4m1-9v7m1-2v2m0 99v1m1-100v6m0 96v1m1-98v2m0 95v1m1-98v2m0 94v4m1-97v2m0 1v1m0 91v2m1-96v2m0 94v1m1-95v3m0 92v2m1-94v1m0 92v3m1-103v1m0 99v1m1-110v1m0 7v1m0 101v1m0 1v1m1-113v2m0 110v2m1-117v4m0 112v1m1-118v1m0 3v2m0 113v2m1-115v2m0 113v1m0 1v1m1-115v3m0 108v5m1-115v2m0 109v2m1-115v3m0 110v1m0 1v2m1-113v4m0 105v2m1-107v2m0 91v3m0 7v2m1-105v2m0 90v1m0 1v2m0 3v1m0 1v2m1-103v2m0 89v1m1-99v2m0 93v1m1-95v1m0 94v2m1-96v2m0 94v1m1-102v4m0 95v2m1-101v3m0 95v1m1-99v2m0 97v2m1-101v4m0 97v2m1-102v4m0 97v2m1-103v3m0 97v1m1-101v3m0 1v1m0 94v2m1-100v3m0 1v1m0 96v1m1-102v5m0 97v1m0 3v1m1-106v3m1-6v2m0 107v1m0 1v1m1-112v2m0 108v2m0 2v3m1-114v1m0 108v6m1-114v2m0 106v5m1-115v2m0 108v2m1-108v2m0 107v2m1-112v2m0 109v1m0 1v1m1-116v2m0 112v2m1-115v1m0 1v2m0 108v5m1-121v3m0 110v1m0 1v3m1-116v2m0 109v3m1-112v3m0 107v3m1-113v3m1-4v3m0 106v2m1-111v1m0 108v1m1-107v3m0 103v1m1-105v2m0 103v2m1-110v4m0 102v1m1 0v1m1-106v4m0 101v1m1-107v5m0 103v2m1-112v5m0 106v1m0 1v1m1-114v4m0 107v2m1-110v2m0 104v1m1-109v2m0 107v1m1-112v3m0 110v2m1-113v2m0 2v2m0 102v2m1-105v3m0 5v2m0 95v2m1-108v3m0 1v7m0 95v3m1-100v1m0 94v2m1-99v2m0 94v2m1-101v1m0 1v4m0 90v2m1-94v1m0 94v2m1-93v2m0 1v3m0 86v1m1-86v1m0 86v1m1-87v1m0 84v1m1-91v1m0 91v1m1 0v2m2-94v1m1-1v1m0 93v1m0 1v1m1-3v2m1-3v1m1-105v1m0 4v2m0 95v1m0 1v1m1-105v5m0 100v1m1-107v5m1-6v3m0 100v1m1-105v4m0 99v2m1-107v1m0 5v1m0 99v2m1-100v4m0 94v2m1-99v1m0 1v4m0 88v3m1-94v5m0 86v2m1-89v1m0 1v1m0 81v3m1-89v3m0 83v3m1-88v3m0 82v2m1-86v4m0 78v1m1-81v4m0 74v5m1-85v6m0 74v3m1-80v3m0 71v3m1-75v4m0 69v2m1-70v3m0 63v1m1-64v2m1-4v3m0 1v1m0 62v2m1-69v3m0 1v1m0 60v2m1-61v1m0 57v2m1-62v3m1-5v3m0 60v2m1-66v3m0 60v4m1-64v4m0 56v1m1-58v3m0 53v1m1-61v4m0 58v1m1-65v6m0 57v2m1-67v3m1-1v4m0 61v3m1-64v2m0 60v3m1-64v1m0 62v1m1-66v3m0 60v2m1-63v3m0 56v2m1-59v2m0 56v1m1-60v2m0 57v1m1-60v3m0 56v2m1-62v5m0 55v2m1-60v3m0 1v1m0 52v1m1-58v2m0 55v2m1-57v5m0 51v2m1-57v3m0 52v1m1-55v2m0 53v2m1-56v4m0 50v2m1-50v1m0 44v2m1-51v4m0 46v2m1-51v4m0 45v1m1-54v4m0 48v1m1-49v6m0 40v1m1-46v6m0 41v1m1-44v2m0 38v3m1-42v4m0 33v2m0 1v1m0 1v1m1-37v2m0 28v1m0 1v1m1-30v1m0 26v2m1-30v1m0 25v2m1-26v2m0 21v5m1-86v3m0 2v1m0 51v5m0 18v2m1-79v3m0 29v1m1-32v4m0 25v5m0 42v1m1-74v1m0 24v6m0 5v3m0 34v1m1-73v3m0 21v3m0 9v1m0 34v1m1-48v2m0 39v1m0 1v1m0 1v1m1-50v6m0 38v3m0 5v1m0 1v1m1-55v7m0 39v1m1-47v8m0 38v1m1-56v2m0 6v3m0 2v5m0 35v1m1-1v2m1-1v1m2 0v1m1-48v1m0 47v1m1-46v2m0 44v1m1-45v2m0 41v1m0 1v1m1-45v1m0 39v2m1-5v1m1-35v2m0 9v1m0 4v1m0 20v2m1-37v2m0 7v6m0 18v1m0 1v2m1-32v1m0 8v2m0 19v5m1-34v1m0 2v2m0 4v2m0 18v4m0 1v1m1-26v1m0 21v1m0 2v4m1-24v2m0 17v2m0 1v2m0 1v1m1-31v5m0 20v3m1-29v2m1 1v1m1-2v1m0 28v1m1-1v1m1-27v1m1 1v1m1 0v2m1-5v1m0 1v3m1-3v5m0 17v1m1-23v4m0 1v2m0 15v2m1-23v4m0 2v2m0 14v1m1-24v1m0 8v2m0 14v1m1-23v3m0 5v2m0 13v1m1-25v3m0 6v6m0 9v1m1-27v1m0 4v1m0 7v2m0 5v1m0 4v1m1-11v1m0 8v1m1-21v1m0 1v1m0 5v2m1-8v1m0 4v3m1-4v1m7-22v3m1-3v3m1-7v2m0 1v1m0 2v2m1-9v2m0 3v2m0 2v1m1-11v3m0 5v2m1-26v2m0 11v1m0 5v1m0 6v2m1-15v1m0 5v3m0 6v1m1-27v1m0 14v1m0 2v4m0 5v1m1-11v7m0 4v2m1-11v1m0 1v5m0 4v1m1-11v8m0 3v1m1-13v4m0 1v6m0 1v1m1-11v2m0 3v6m1-10v1m0 5v5m1-10v1m0 1v3m0 2v2m1-8v3m0 5v2m1-8v2m0 6v1m1-9v4m1 0v2m0 4v1m1 1v1m1 1v1m2 2v2m1-20v2m0 19v1m1-23v1m0 18v1m1-19v1m0 19v1m0 1v3m1-33v2m0 1v1m0 1v3m0 2v2m0 18v1m0 5v1m1-34v4m0 1v1m0 4v1m0 1v2m0 13v2m0 2v2m1-30v1m0 1v1m0 1v1m0 9v1m0 15v1m0 1v1m1-18v2m1 1v1m0 6v1m4-53v1m1-7v4m0 3v1m1-3v3m0 2v2m1-9v2m1-3v3m0 10v1m1-14v4m0 16v2m0 2v2m1-25v3m0 17v1m0 12v1m1-34v5m0 25v1m1-29v5m0 24v1m1-34v3m0 4v5m1-10v2m0 5v2m0 3v1m0 1v1m0 16v1m1-33v3m0 5v1m0 20v3m1-30v1m0 6v1m0 13v1m0 5v1m1-26v3m0 2v1m3 25v1m1-2v3m1-4v1m0 5v1m1-9v1m0 8v2m1-10v1m0 5v2m1-18v3m0 1v1m0 2v4m0 10v1m1-21v1m0 8v6m0 5v1m1-11v2m0 5v1m1-14v3m0 3v1m1-4v3m79-7v3m1-2v1m2 2v1m15 18v2m1 0v3m1-1v2m1 1v2m1-6v3m1 2v3m1-5v2m0 5v1m1-9v3m0 5v2m1-9v3m0 8v1m1-12v4m0 6v1m1-10v3m0 5v2m1-8v3m0 3v1m1-8v3m0 4v1m1-8v2m1 1v3m0 4v2m0 1v1m1-9v3m0 2v2m1-9v1m1-1v2m0 7v3m1 0v1m1-13v3m1-3v1m1-1v2m1-2v2m0 7v1m1-10v3m0 4v1m1-5v2m0 3v1m1-7v3m0 3v1m1-5v1m0 1v1m1 0v2m1-3v1m6-27v1m3 6v1m1 0v1m1 0v2m1-1v2m30-32v1m1-14v2m0 13v1m1-15v1m0 15v1m1-19v2m0 16v2m0 1v1m1 1v2m1-1v2m2 0v2m1-17v2m0 16v1m1-16v3m0 13v2m3 2v2m1-24v1m0 22v2m1-24v2m0 23v1m1-21v2m0 19v1m1-20v1m1 1v2m0 18v2m1-21v1m0 19v1m0 1v1m1-23v3m0 19v1m0 1v1m1-23v3m0 16v2m1-22v2m1 0v1m0 18v2m1-21v2m0 20v2m1-22v2m0 18v2m1-21v1m0 16v1m1-23v2m0 4v2m0 19v1m1-23v4m0 17v2m0 3v1m1-28v6m0 17v1m1-23v1m0 2v4m0 12v2m1-20v1m0 3v1m0 1v2m0 11v1m0 1v2m1-22v1m0 4v1m0 1v4m0 7v2m1-19v2m0 4v8m0 3v2m1-17v2m0 4v2m0 4v2m0 2v2m0 4v1m1-27v1m0 5v2m0 4v2m0 4v1m0 1v4m1-24v4m0 9v1m0 8v2m1-25v3m0 11v3m1-17v3m0 12v4m1-18v3m0 5v2m0 6v4m1-19v3m0 6v2m0 6v4m1-25v3m0 12v2m0 6v1m0 1v2m1-28v4m0 10v2m0 2v2m0 7v1m1-26v1m0 13v2m0 2v2m1-21v1m0 16v2m0 2v1m1-24v1m0 26v2m1-28v2m1 1v1m1 1v1m1 0v2m0 23v1m1-24v2m0 20v2m1-22v2m1-24v1m0 23v2m1 0v2m1 0v2m0 13v1m1-38v1m0 18v1m0 4v2m0 10v2m1-18v2m0 16v1m1-40v1m0 20v4m0 2v2m1-28v1m0 3v1m0 16v5m0 2v2m0 10v1m1-39v2m0 1v1m0 16v10m0 10v1m1-39v3m0 2v1m0 14v10m0 7v1m1-38v2m0 7v3m0 10v6m0 2v2m0 3v1m1-33v3m0 20v4m0 2v2m1-16v2m0 8v4m1-12v2m0 8v4m1-27v1m0 14v2m0 8v2m1-25v2m0 13v2m1 0v2m1-14v2m0 12v2m1 0v2m1-14v2m0 12v1m1-12v1m1 0v1m0 11v2m1-13v2m0 9v1m1-10v3m0 9v1m1-13v3m1 0v1m0 11v2m1-14v1m0 14v1m1-15v1m0 1v1m0 12v1m1-14v1m1-1v3m0 10v1m1-13v1m0 7v1m1-8v4m0 3v1m1-8v3m0 4v1m1-6v2m0 4v1m1-9v3m0 4v1m1-6v3m1 0v2m1-2v4m1-3v2m1-2v2m0 1v1m2-6v2m99-163v2m14 3v1m1-1v1m4 1v1m2-9v1m5 3v1m3-6v1m0 1v1m1-3v3m1-1v2m1 6v1"/>
<path stroke="#30ffcf" d="M105.5 282v9m0 3v4m0 72v5m0 3v4m1-101v16m0 83v4m1-112v1m0 6v10m0 94v3m1-112v14m0 96v4m1-116v9m0 5v5m0 93v2m1-116v17m0 4v17m0 73v1m0 1v1m1-116v1m0 10v1m0 12v18m0 71v2m1-99v2m0 14v8m0 72v1m1-79v3m0 77v2m1-83v4m0 76v1m1-89v12m0 69v3m1-88v14m0 74v2m1-104v2m0 3v5m0 3v7m0 84v3m1-118v5m0 3v14m0 8v5m0 80v3m1-110v15m0 6v8m0 78v1m1-104v5m0 5v10m0 1v4m0 74v1m1-104v2m0 2v4m0 7v13m0 76v1m1-107v1m0 1v26m0 76v3m1-99v20m0 76v2m1-97v18m0 10v7m0 61v2m1-99v17m0 9v10m0 61v2m1-97v3m0 5v11m0 74v2m1-97v19m0 77v2m1-106v27m1-27v3m0 3v27m0 2v8m0 60v1m1-102v17m0 2v6m0 7v1m0 1v9m0 59v3m1-105v8m0 14v2m0 9v9m0 59v3m1-105v1m0 30v9m0 65v1m1-80v9m0 69v3m1-83v11m0 69v3m0 2v1m1-92v18m0 69v6m1-99v21m0 71v7m1-102v11m0 6v3m0 75v3m1-103v26m0 74v2m1-96v6m0 2v13m0 73v2m1-93v17m0 74v2m1-97v12m1-11v8m0 9v4m0 74v2m1-98v9m0 10v4m0 74v2m1-98v12m0 84v1m1-94v7m0 7v6m0 1v6m1-36v13m0 9v15m0 2v5m0 57v2m1-102v11m0 9v21m0 58v1m1-100v5m0 3v28m0 63v1m1-98v2m0 6v4m0 2v16m0 67v2m1-81v9m0 71v1m1-84v4m1-8v5m0 83v1m1-96v12m0 82v2m1-98v13m1-14v12m1-17v14m0 1v1m0 15v2m0 68v3m1-105v34m0 69v2m1-105v25m0 2v5m0 73v1m1-105v4m0 2v15m0 83v1m1-104v5m0 1v8m0 89v2m1-104v13m0 89v4m0 4v2m1-115v14m0 19v2m0 69v9m0 1v2m1-117v10m0 7v21m0 77v7m1-119v8m0 6v5m0 2v1m0 1v6m0 90v2m0 1v1m1-131v9m0 1v3m0 3v4m0 6v4m0 97v4m1-132v3m0 3v3m0 9v9m0 99v1m1-122v1m0 8v9m0 102v1m1-117v10m0 104v1m1-119v1m0 5v7m0 105v1m1-119v2m0 5v5m0 102v1m0 1v3m1-120v16m0 98v3m1-111v12m0 95v4m1-111v4m0 102v1m0 2v3m1-112v5m0 101v2m1-110v6m0 101v1m1-109v7m1-13v16m0 96v1m1-114v3m0 3v17m0 90v2m1-116v14m0 3v8m0 91v1m0 1v3m0 1v1m0 1v1m1-121v23m0 90v2m1-115v14m0 6v3m1-26v4m0 4v3m0 3v2m0 96v1m1-112v3m0 2v2m0 14v1m0 87v2m1-109v3m1-2v2m0 102v2m1-107v4m0 16v4m0 81v1m1-106v4m0 16v5m0 80v1m1-106v5m0 101v1m1-106v20m0 85v2m1-115v2m0 6v19m0 86v3m1-114v8m0 3v5m0 97v2m0 1v2m0 1v1m1-120v1m0 15v1m0 98v6m1-122v2m0 118v1m1-124v16m0 108v1m1-124v12m0 109v1m1-120v3m0 116v1m1-119v4m0 114v2m1-120v5m0 112v2m1-118v3m0 117v2m1-122v4m0 116v2m1-124v6m0 115v1m1-125v6m0 119v2m1-126v5m0 119v1m0 1v3m1-127v4m0 120v2m1-125v2m0 122v2m1-130v6m0 124v3m1-130v4m0 121v2m1-127v6m0 120v2m1-130v7m0 120v2m1-126v2m0 124v2m1-128v3m0 121v2m1-129v3m0 123v2m1-129v3m0 123v1m1-125v2m0 120v3m1-127v3m0 121v2m1-126v2m0 121v2m1-124v3m0 118v2m1-121v2m0 117v2m1-124v5m0 118v2m1-130v11m0 116v1m1-124v4m0 1v1m0 118v2m1-125v3m0 116v1m0 2v1m1-121v4m0 114v4m0 1v1m1-122v3m0 113v5m1-123v4m0 113v1m1-118v6m0 109v2m1-114v4m0 108v2m1-116v5m0 107v2m1-116v3m0 113v1m1-119v6m0 113v1m1-116v5m1-4v5m0 109v4m1-120v6m1-8v6m0 114v1m1-121v6m0 114v2m1-122v5m0 118v3m1-127v4m0 120v2m1-125v2m0 123v2m1-126v2m0 113v5m1-119v3m0 105v11m0 1v1m0 4v1m1-125v7m0 100v4m0 1v1m0 2v2m0 1v2m0 4v1m1-124v5m0 101v2m0 12v2m0 1v2m1-125v3m0 101v3m0 15v4m1-126v3m0 100v1m1-106v5m0 99v1m1-105v6m0 95v4m1-101v3m0 93v2m1-101v4m0 95v3m1-101v1m0 100v1m1-102v2m0 95v1m1-96v2m0 94v2m1-103v3m0 97v2m1-100v1m0 96v2m1-101v2m0 98v1m1-98v2m0 95v2m1-105v3m0 100v2m1-101v3m0 94v1m0 1v1m1-97v1m0 96v2m1-102v2m0 99v1m1-101v1m0 99v1m1-103v3m0 96v2m1-102v3m1-5v6m0 98v2m1-113v1m0 9v5m0 97v1m1-103v5m0 94v3m1-103v6m0 94v1m1-101v4m0 94v1m1-99v4m0 91v3m1-98v3m0 93v3m1-100v2m0 96v3m1-103v5m0 95v2m1-105v1m0 2v4m0 94v1m1-93v2m0 92v2m1-95v1m0 91v3m1-95v3m0 88v1m0 1v1m1-91v1m0 1v2m0 85v4m1-92v2m0 87v5m1-91v1m0 87v1m0 1v2m1-91v2m0 87v1m0 1v1m1-99v3m0 94v2m1-105v1m0 2v1m0 1v2m0 96v3m1-108v7m0 101v2m1-111v9m0 101v2m1-116v3m0 2v9m0 101v3m1-111v7m0 102v4m1-109v2m0 100v1m0 4v1m1-108v2m0 99v3m0 3v2m1-110v2m0 94v1m0 1v3m0 1v4m0 2v2m0 1v1m1-107v1m0 91v13m1-103v1m0 88v2m0 3v7m1-101v1m0 87v2m1-90v1m0 85v3m1-96v3m1-3v2m0 91v1m1 1v1m1-97v2m1-3v3m0 91v1m1-96v4m1-2v3m0 92v2m1-96v2m0 93v2m1-98v3m0 93v1m1-97v1m0 1v3m0 89v2m1-95v1m0 1v1m0 93v2m1-96v1m0 95v1m0 1v1m1-100v3m0 93v7m1-107v2m0 99v6m0 1v1m1-109v2m0 100v6m1-106v2m0 103v3m1-106v2m0 101v3m1-108v4m0 102v2m1-104v3m0 102v2m1-108v2m0 104v1m0 1v1m1-111v2m0 107v3m1-109v3m0 103v2m1-113v5m0 104v1m0 1v1m1-111v3m0 105v1m1-106v3m0 103v1m1-107v2m0 105v1m1-109v2m0 103v1m1-108v2m0 105v1m1-103v2m0 100v1m1-102v2m0 99v2m1-104v3m1-6v4m0 103v1m1-103v3m0 97v1m1-101v3m0 99v1m1-105v2m0 102v2m1-107v4m0 100v3m1-106v3m1-5v2m0 103v2m1-108v2m0 105v3m1-105v1m0 7v5m0 88v1m1-100v5m0 2v6m1-6v3m0 89v3m1-96v2m0 1v1m0 88v2m1-95v4m0 88v2m1-93v3m1-3v4m0 1v1m0 85v2m1-85v2m0 82v2m1-84v2m0 82v2m1-85v2m0 81v1m1 1v1m1-2v3m1-2v1m1-1v4m1-93v2m0 88v3m1-93v3m0 87v3m1-93v3m0 87v2m1-93v4m0 86v1m0 1v1m1-99v5m0 91v3m1-100v5m0 93v2m1-103v10m0 88v2m1-100v11m0 87v1m1-98v13m0 84v2m1-94v9m0 82v3m1-91v5m0 82v1m1-86v3m0 80v3m1-86v1m0 1v3m1-5v4m0 78v1m1-82v3m0 76v3m1-80v1m0 74v3m1-76v2m0 69v3m1-74v1m0 71v2m1-74v4m1-1v1m0 66v2m1-65v1m0 61v1m1-61v1m0 59v2m1-63v1m0 61v2m1-64v1m1 3v1m0 55v1m1-1v1m1-59v1m0 56v3m1-61v1m0 58v1m1-1v1m1-54v1m0 51v1m1-56v2m0 55v1m1-58v2m0 54v1m1-62v3m0 59v1m1-60v1m0 58v2m1-59v1m0 57v2m1-60v2m0 58v2m1-62v3m1-1v1m0 54v1m1-1v2m1-57v2m0 54v1m1-56v1m0 54v1m1-55v1m1-1v1m0 52v1m1-55v4m0 50v1m2-51v1m1-1v2m0 49v2m1-49v1m0 44v4m1-47v1m0 41v2m1-45v2m0 42v2m1-45v2m0 42v1m1-49v8m1-2v3m0 38v1m1-41v4m0 32v1m0 1v3m1-41v3m0 32v3m1-35v2m0 29v2m1-29v2m0 25v1m1-26v1m0 23v2m1-27v2m0 21v1m1-21v3m0 16v2m1-19v3m0 13v2m1-1v1m1-42v4m0 37v1m1-42v5m0 36v1m1-45v9m0 1v5m0 22v2m0 1v1m0 1v2m1-45v3m0 1v1m0 1v4m0 2v2m0 1v1m0 22v1m0 1v1m0 1v1m0 1v1m1-45v3m0 3v1m0 2v1m0 27v1m1-37v3m0 34v2m1-38v2m0 34v2m1-44v2m0 5v3m0 31v1m1-52v3m0 1v1m0 1v16m1-20v2m0 4v5m0 5v6m0 28v1m1-49v1m0 7v2m0 4v8m0 25v1m1-45v1m0 4v16m1-20v3m0 1v1m0 1v16m1-18v20m0 22v2m1-42v2m0 2v7m0 1v8m0 19v2m1-35v6m0 2v8m0 16v1m1-37v2m0 4v16m0 11v1m1-32v1m0 5v3m0 1v4m0 1v6m0 13v1m1-29v1m0 1v1m0 6v1m0 2v1m0 1v2m0 10v1m0 1v1m1-31v1m0 1v4m0 6v1m0 5v4m0 6v1m0 1v1m1-18v1m0 6v4m1-11v1m0 7v5m0 6v1m1-15v2m0 2v6m0 6v1m0 5v1m1-25v2m0 8v2m0 7v1m1-24v5m0 21v2m1-26v5m0 21v1m1-28v1m0 25v2m1-2v2m1-3v1m1-21v2m0 17v1m1-1v1m1-18v2m0 15v1m1-16v2m0 14v1m1-18v1m0 2v2m0 12v1m1-17v2m0 2v2m0 10v2m1-22v3m0 3v2m0 2v2m0 10v2m1-19v2m0 1v2m0 2v2m0 8v1m0 1v1m1-21v1m0 19v1m1-20v3m0 2v2m0 6v1m0 4v1m1-16v3m0 1v2m0 8v1m0 1v2m1-17v2m0 2v1m12-29v3m1-3v1m0 2v2m1-4v2m0 2v2m1-4v2m0 2v2m1-4v2m0 2v1m1-3v2m1 0v2m0 1v1m1-2v3m1-8v1m0 6v1m1-8v3m1-3v2m1 3v1m1-2v2m1-1v2m0 3v1m1-4v1m0 4v1m6-9v3m0 13v2m1-20v1m0 21v1m1-21v2m0 13v3m1-26v1m0 1v1m0 7v3m0 12v3m0 1v4m1-18v1m0 11v1m0 3v1m1-15v1m0 9v2m0 4v1m0 1v1m1-15v1m0 5v1m1-4v1m1 0v2m0 2v2m1-3v2m2-55v2m1-2v3m1 1v2m1-5v2m0 4v2m1-8v2m0 6v2m1-9v2m0 9v1m0 6v2m1-20v2m0 13v2m0 1v2m0 3v1m1-22v1m0 16v1m0 5v1m1 1v1m1-30v4m0 5v1m0 20v1m1-30v5m0 6v1m0 13v4m1-29v2m0 23v1m1-26v1m0 4v1m1-2v2m4 28v1m1-6v1m0 1v2m0 1v2m1-7v2m1-1v1m0 3v1m1-13v1m0 1v1m0 5v3m0 5v2m1-15v1m0 1v2m0 6v5m1-19v2m0 6v1m1-3v3m1 0v1m99 21v1m2-1v4m1 1v2m1-5v1m1-1v3m0 1v1m1-4v2m1-1v2m0 3v1m1-6v1m1 1v3m1-4v3m1-4v1m0 4v2m1-3v1m0 2v1m1-2v2m1 2v1m1-8v2m0 4v1m1-9v2m1 1v2m0 6v1m1-11v2m0 7v2m1-10v2m0 4v2m1-8v3m0 2v2m1-6v2m1 0v3m1-3v1m0 1v1m1-3v1m0 1v1m1-2v1m44-47v2m1-13v4m0 10v1m2 2v2m1 0v1m1 2v1m1-16v1m0 1v1m1 0v2m0 13v1m1-12v2m0 9v2m1-15v2m0 13v1m1 1v2m3 2v2m1-1v2m1 0v1m1 0v2m1-18v2m0 16v1m1-17v1m0 17v1m0 1v1m1-19v2m1-4v3m0 18v1m1-21v2m1-1v2m0 17v1m1-1v1m1-18v2m1 0v2m0 15v2m1-18v1m0 15v1m1-16v2m0 14v1m0 1v1m1-23v2m0 4v2m1-7v3m0 1v1m0 2v4m0 4v2m0 2v1m1-19v4m0 1v1m0 4v2m0 1v1m0 1v2m1-15v4m0 8v3m1-13v4m0 8v2m1-12v4m1-2v3m1-11v4m0 6v1m1-11v6m1-5v5m1-4v6m1-10v2m0 4v6m0 9v1m1-22v1m0 7v2m0 2v2m0 8v1m1-24v3m0 8v2m0 2v2m1-18v1m0 13v2m0 2v2m0 1v1m1-24v2m0 16v8m1-24v2m0 16v4m0 2v1m1-23v2m0 16v3m0 4v1m1-24v2m0 22v1m1-23v2m1 0v2m1 0v2m0 17v1m1-18v2m1 0v2m0 14v1m1-15v2m0 10v1m1-2v1m1-10v2m0 9v1m1-10v2m0 10v2m1-41v3m0 26v2m0 6v2m1-36v1m0 27v2m0 7v1m0 1v1m1-37v2m0 25v2m0 4v1m0 1v1m1-37v5m0 1v1m0 23v2m1-28v2m0 4v1m0 1v1m0 1v2m0 16v2m1-31v1m2 2v1m1 2v1m0 10v2m1-12v2m0 10v2m1 0v2m1-11v1m2 15v1m1-11v2m1 0v1m0 6v2m1-6v2m0 6v1m1-9v3m0 6v1m1-9v2m0 8v1m1 0v3m1 0v1m1-12v1m0 8v1m1-8v1m0 7v1m1-10v2m0 3v2m1-3v1m0 1v1m1-4v2m1-1v4m1-5v2m0 1v1m1-2v3m1-1v2m2-1v1"/>
<path stroke="#47ffb8" d="M105.5 298v7m0 61v4m0 5v3m1-81v8m0 62v13m1-91v12m0 70v12m1-95v3m0 8v4m0 2v3m0 65v11m1-103v5m0 5v19m0 65v9m1-76v9m0 57v7m0 1v1m1-73v6m0 56v9m1-73v6m0 60v6m1-75v9m0 52v16m1-77v4m0 3v6m0 50v13m1-76v11m0 53v5m0 3v2m1-76v11m0 57v6m1-82v19m0 48v5m0 8v4m1-80v11m0 67v2m1-78v11m0 2v2m0 60v3m1-98v5m0 10v1m0 4v17m0 55v1m1-94v7m0 13v16m0 56v4m1-78v9m0 5v4m0 54v4m1-76v7m0 7v7m0 50v5m1-77v10m0 7v5m0 54v2m1-80v9m0 10v2m0 58v1m1-76v15m1-17v8m0 17v3m0 48v1m1-77v6m0 2v7m0 2v14m0 45v2m1-102v3m0 27v2m0 8v9m0 3v1m0 46v1m1-58v4m0 54v1m1-60v3m1-6v3m0 60v2m1-70v6m0 62v1m1-69v5m0 63v1m1-68v4m0 3v5m0 55v2m1-72v5m0 6v3m0 55v2m1-84v6m0 3v10m0 64v1m1-74v13m0 1v3m1-16v11m0 61v1m1-74v8m0 64v2m1-83v17m0 64v2m1-86v9m0 4v5m0 67v2m1-87v10m0 4v3m0 8v1m0 59v3m1-84v27m0 54v3m1-86v7m0 6v1m0 6v12m0 51v3m1-89v9m0 15v2m0 5v4m0 51v2m1-89v9m0 21v5m0 52v1m1-63v6m0 54v1m1-83v2m0 16v6m0 60v1m1-70v5m0 65v1m1-79v13m0 64v2m1-82v3m0 4v10m0 64v2m1-83v5m0 2v10m0 64v1m1-83v17m0 4v4m0 57v2m1-86v26m0 57v1m1-87v1m0 1v15m0 2v7m0 60v1m1-68v7m1-16v2m0 5v6m0 65v2m1-100v2m0 15v2m0 80v1m1-98v1m0 8v8m0 79v2m1-89v8m0 17v2m0 61v1m1-91v19m0 2v5m1-31v7m0 21v4m0 62v11m1-104v6m0 15v5m0 76v2m0 2v1m0 1v3m1-105v2m0 6v8m0 86v3m1-125v3m0 21v6m0 90v3m1-103v8m0 93v1m1-106v17m0 86v1m1-117v5m0 7v20m0 79v2m0 2v2m1-116v5m0 5v22m0 77v3m0 1v1m1-101v22m0 73v1m0 1v1m1-96v17m0 76v2m1-103v16m0 85v1m1-101v19m0 80v2m1-102v25m0 75v1m1-101v13m0 3v7m0 74v3m1-97v10m0 84v2m1-110v3m0 17v5m0 84v1m1-89v4m0 11v2m0 72v2m0 1v1m1-91v12m0 75v3m1-99v6m0 3v10m0 75v3m1-110v4m0 3v3m0 2v15m0 78v3m1-108v2m0 2v14m0 1v6m0 79v2m1-104v8m0 3v12m0 80v1m1-104v7m0 9v8m0 1v1m0 2v7m0 66v1m1-101v16m0 4v16m0 63v2m1-101v16m0 5v14m0 64v2m1-100v31m0 68v2m1-85v13m0 70v2m1-84v13m0 70v1m1-103v3m0 5v10m0 3v11m0 71v2m1-112v15m0 1v7m0 1v1m0 1v6m0 79v3m1-114v27m0 86v5m1-107v13m0 94v1m1-111v7m0 1v6m0 94v1m1-116v8m0 107v1m1-114v5m0 108v1m1-113v7m0 104v1m1-113v7m0 107v3m1-116v6m0 109v1m1-116v5m0 109v1m1-118v4m0 113v2m1-119v3m0 115v1m0 1v1m1-120v3m0 116v1m1-121v4m0 117v1m1-122v11m0 111v2m1-123v10m1-8v7m0 111v2m1-121v6m0 113v1m1-122v3m0 120v1m1-123v2m0 5v2m0 111v1m1-124v14m0 108v1m1-124v14m0 108v1m1-122v8m0 2v3m0 105v2m1-121v2m0 6v7m0 104v2m1-122v3m0 116v2m1-119v2m0 115v1m1-117v3m0 113v1m1-117v3m0 113v2m1-117v3m0 111v2m1-119v1m0 1v3m0 111v4m1-120v4m0 110v2m0 1v2m1-116v11m0 101v2m0 4v1m1-118v10m0 101v2m1-114v8m0 102v3m1-111v5m0 103v1m1-108v5m0 101v2m1-109v5m0 101v1m1-111v7m0 104v2m1-112v6m0 105v2m1-110v3m0 105v2m1-109v4m0 103v2m1-110v4m0 105v3m1-114v4m0 108v2m1-114v3m0 110v1m1-115v5m0 111v2m1-120v6m1-7v3m0 111v6m0 2v1m1-122v4m0 103v6m0 5v2m0 1v1m1-120v8m0 94v3m0 11v1m0 1v4m1-117v4m0 94v2m0 13v4m1-118v4m0 94v3m0 16v1m1-120v5m0 93v3m1-101v6m0 92v2m1-100v6m0 91v2m1-98v5m0 89v1m1-94v3m0 88v2m1-95v5m0 88v2m1-97v4m0 93v3m1-99v4m0 92v1m1-95v3m0 90v1m1-98v6m1-6v2m0 93v1m1-97v1m0 96v1m1-95v3m0 91v1m1-100v7m0 92v1m1-96v4m1-3v1m0 94v1m1-98v2m0 96v1m1-99v2m0 95v2m1-99v1m1-2v2m0 94v3m1-98v3m0 94v1m1-96v3m0 91v3m1-97v4m0 89v1m1-94v3m0 89v2m1-96v4m0 88v2m1-94v3m1-4v2m0 90v1m1-95v3m0 91v2m1-95v2m0 91v2m1-96v6m0 87v1m1-90v6m0 85v1m1-92v6m0 84v1m1-88v1m0 85v1m0 1v1m2-2v2m1-85v1m0 84v2m0 1v1m1-4v4m0 1v1m1-95v2m0 91v1m1-96v2m0 93v1m1-98v4m0 95v2m1-100v3m0 95v1m0 1v1m1-100v4m0 93v1m0 1v2m1-101v5m0 89v8m1-103v6m0 88v1m0 1v4m0 1v4m1-105v6m0 86v1m0 1v5m0 3v3m1-106v6m0 86v2m0 1v1m0 3v1m0 4v2m1-102v2m0 86v3m1-89v1m0 85v2m1-88v2m0 82v3m1-87v3m0 81v1m1-90v8m0 80v2m1-91v8m0 82v1m1-91v3m0 88v2m1-94v5m0 86v2m1-93v8m0 82v1m1-91v8m0 82v3m1-92v4m0 85v3m1-92v3m0 87v3m1-93v4m0 88v1m1-91v3m0 85v1m1-90v4m0 88v1m1-93v4m0 89v2m1-94v1m0 91v1m1-98v5m0 91v3m1-99v4m0 94v2m1-98v2m0 97v1m0 1v2m1-101v2m0 98v1m1-101v3m0 96v3m1 0v3m1-104v2m0 100v2m0 1v1m1-108v2m0 103v2m1-3v3m1-106v2m0 100v2m1-105v2m0 101v2m1-102v1m0 100v2m1-104v2m0 102v1m1-106v2m1-4v2m0 102v1m1-100v3m0 96v1m1-99v1m0 96v2m1-1v1m1-101v1m0 99v2m1-98v2m0 94v1m1 0v2m1-102v5m0 95v2m1-101v3m0 95v2m1-100v1m0 98v2m1-104v1m0 101v1m1-104v4m0 3v1m0 96v1m1-101v7m0 5v4m1-2v4m0 82v3m1-92v5m0 82v2m1-91v1m0 1v2m1-3v1m0 86v1m1-88v3m0 83v1m1-86v1m0 1v5m0 79v1m1-81v4m0 77v1m1-80v2m0 79v1m2 1v1m1-3v2m1 0v1m1-2v2m1-87v1m0 85v2m1-87v3m0 82v2m1-87v4m0 81v2m1-87v4m0 81v1m1-91v5m0 85v1m1-92v5m0 86v2m1-91v3m0 84v1m1-87v2m0 83v2m1-2v2m1-83v1m0 80v1m1-83v5m0 75v2m1-82v4m0 75v1m1-78v3m0 73v2m1-79v3m0 71v1m0 1v2m1-78v2m0 71v3m1-76v3m0 70v1m1-71v1m0 67v1m1-70v2m0 66v3m1-68v1m0 63v3m1-67v7m0 56v3m1-62v4m0 56v1m1-59v4m1-4v5m0 54v1m1-60v5m0 53v2m1-57v3m0 51v1m1-56v3m0 51v2m1-57v4m0 50v2m1-57v4m0 51v1m0 1v1m1-55v2m0 51v2m1-3v2m1-1v3m1-55v1m0 51v2m1-58v4m0 54v1m1-58v4m1-2v4m0 52v1m1-56v3m0 53v2m1-57v2m0 53v2m1-57v2m0 50v2m1-54v2m0 50v2m1-2v3m1-54v1m0 50v1m0 1v1m1-53v1m0 50v3m1-53v1m0 48v2m1-50v2m0 47v1m1-49v2m0 47v2m1-51v2m0 46v3m1-50v1m0 46v2m1-48v1m0 44v1m1-42v1m0 39v1m1-41v1m0 1v1m0 37v2m1-41v2m0 38v2m1-40v2m0 36v2m1-39v2m0 32v1m0 1v1m1-35v2m0 28v2m0 1v1m1-35v4m0 26v2m1-30v3m0 24v2m1-25v1m0 22v2m1-24v1m0 19v1m0 1v1m1-23v2m0 17v2m0 1v1m1-4v1m1-14v1m1 12v1m1-1v1m1-2v2m1-29v1m0 19v2m0 2v1m0 1v1m1-40v1m0 1v1m0 4v2m0 2v1m0 1v2m0 18v2m1-35v3m0 1v2m0 1v2m0 1v1m0 3v1m0 18v1m1-33v7m0 24v3m1-34v2m0 30v2m1-32v2m0 28v1m1-48v1m0 1v1m0 16v2m0 27v1m1-48v4m0 5v5m0 6v2m1-21v2m0 1v4m0 2v4m0 8v2m0 22v1m1-45v1m0 1v1m0 1v2m0 16v2m0 4v4m1-27v1m0 1v1m0 16v2m0 4v4m0 14v1m1-23v2m0 4v1m0 1v1m0 12v1m1-38v2m0 7v1m0 8v3m0 3v4m0 8v1m1-39v2m0 2v2m0 6v2m0 8v5m0 1v4m1-28v4m0 16v2m0 4v5m1-30v1m0 3v1m0 15v3m0 4v6m1-32v4m0 1v1m0 8v2m0 1v1m0 2v4m0 2v4m1-15v5m0 4v6m0 1v1m1-16v6m0 4v3m0 3v1m1-17v3m0 1v3m0 5v2m0 3v1m1-12v2m0 6v2m0 3v1m1-16v2m0 2v4m0 2v4m0 2v1m1-18v1m0 8v8m0 1v3m1-10v8m0 2v2m1-10v8m1-24v1m0 17v7m1-5v4m1-3v2m1-1v1m1-3v1m0 1v1m4-16v3m0 15v1m1-15v1m0 15v1m1-19v5m0 6v2m0 5v1m1-16v2m0 10v3m1-12v1m14-26v2m1 0v2m1 0v2m1 0v2m1 0v2m1 0v1m4-4v3m1 1v1m1 0v2m1-2v1m0 1v1m1-2v2m0 1v1m1-3v2m0 1v1m1-2v4m1 0v2m3 5v1m1-20v2m0 16v3m1-18v1m0 16v1m1-15v2m0 8v2m1-9v1m0 8v2m1-8v2m1 7v1m1-6v1m0 1v3m1-1v2m6-51v1m0 2v1m1-4v1m0 1v1m2-2v1m0 17v1m0 1v1m1-3v1m0 3v1m2-1v4m2-26v2m1-4v1m0 1v2m6 28v1m1-3v4m1-4v2m1 0v3m0 1v1m1-17v2m0 3v1m1-3v2m0 1v2m103 27v1m2-2v2m0 1v1m3 0v1m1-3v2m0 1v1m3-4v2m0 1v1m1 0v1m2-4v2m0 5v1m1-4v1m1 5v1m1-7v1m0 4v1m1-8v1m0 5v1m1-6v2m0 1v1m1-3v2m1-2v2m2-1v1m47-53v1m0 7v1m1-1v1m1 2v1m1 3v1m1-13v1m0 12v1m1-14v1m0 12v2m1-11v2m0 10v1m1-9v1m1 11v1m2 0v2m1-1v2m1 0v1m1-16v2m1 16v1m3-12v1m0 15v1m1-2v2m1-15v1m1-1v3m0 11v2m1-15v3m1-3v2m1 0v1m0 12v1m1 1v2m1-15v2m0 12v1m1-13v2m0 5v1m0 3v1m0 1v1m1-12v2m0 1v1m0 1v5m1-6v4m0 2v1m1-5v1m0 1v1m9-15v1m0 1v2m1 0v2m1-6v1m0 5v2m1-11v1m0 10v2m1-14v4m0 10v2m1-14v4m0 10v2m0 4v2m0 1v1m1-22v4m0 10v1m0 4v4m1-21v4m0 12v4m1-18v4m0 12v5m1-19v4m0 12v2m1-16v4m0 12v1m1-15v4m1-2v2m1 0v2m0 7v1m1-10v3m1-1v2m0 6v1m1-7v2m0 7v1m1-8v2m1 0v2m0 3v2m1-5v4m1-29v1m0 26v1m1-27v4m0 1v1m0 1v1m1-10v1m0 9v2m1-11v1m0 10v2m1-11v1m0 10v2m2-8v1m1 1v1m1 1v1m0 9v2m1-10v2m0 8v2m1 0v1m1-8v2m1-1v2m1 2v2m1-1v1m1 6v1m1-9v3m0 6v1m1-8v1m0 6v1m1-7v1m0 3v1m0 2v1m1-6v2m0 3v2m1-5v1m1 0v1m1-1v2m2-2v1"/>
<path stroke="#5effa2" d="M105.5 305v5m0 48v8m1-61v3m0 52v7m1-66v8m0 52v10m1-80v8m0 4v2m0 3v4m0 55v6m1-63v10m0 46v9m1-58v5m0 41v11m1-58v4m0 45v7m1-58v5m0 44v11m1-60v6m0 42v4m1-57v3m0 6v4m0 37v9m1-52v6m0 34v13m1-55v4m0 35v18m1-57v4m0 34v10m0 5v8m1-65v9m0 33v25m1-65v2m0 2v6m0 48v6m1-58v4m0 49v2m0 1v1m1-59v5m0 43v8m1-65v5m0 4v4m0 44v6m1-65v7m0 7v3m0 33v14m1-50v3m0 33v11m0 3v4m1-57v4m0 53v1m1-60v5m0 3v2m0 12v1m0 2v1m0 31v2m1-68v17m0 3v14m0 33v1m1-70v2m0 7v2m0 14v11m0 33v1m1-51v3m0 1v4m0 40v2m1-53v10m0 43v1m1-56v5m0 50v1m1-59v6m0 53v1m1-62v14m0 46v2m1-63v17m0 45v1m1-63v3m0 5v9m0 44v2m1-65v6m0 3v7m1-15v12m0 50v2m1-60v1m0 3v5m0 50v2m1-62v9m0 51v1m1-65v12m0 51v1m1-64v13m0 49v2m1-66v19m0 45v3m1-68v8m0 1v12m0 46v1m1-54v7m0 3v2m0 41v1m1-51v12m1-12v13m1-14v8m0 42v2m1-56v12m0 43v1m1-60v15m0 42v3m1-64v12m0 49v1m0 1v2m1-65v12m0 50v2m1-77v4m0 10v4m0 3v7m0 49v1m1-76v2m0 10v18m0 1v1m0 43v1m1-65v4m0 4v8m0 47v2m1-58v5m0 51v1m1-60v6m1-6v3m0 57v2m1-65v3m0 61v1m1-79v17m0 62v1m1-80v2m0 4v14m0 13v6m0 38v2m1-79v17m0 2v4m0 5v5m0 44v3m1-64v16m0 46v2m1-63v15m1-20v10m0 58v8m0 2v2m0 1v1m1-86v14m0 65v7m1-92v18m0 69v3m1-92v19m0 6v3m0 58v7m1-88v20m0 61v1m0 1v3m1-84v8m0 68v1m0 1v1m0 2v2m1-82v5m0 70v2m1-74v3m0 68v2m0 1v1m1-78v5m0 68v3m1-85v11m0 72v2m1-81v8m0 71v1m1-75v6m0 67v2m1-87v3m0 7v7m1-17v15m0 68v1m1-83v17m0 66v1m1-84v11m0 2v10m0 60v2m1-75v11m0 61v1m0 1v1m1-77v3m0 4v5m0 61v2m1-80v7m0 4v7m0 57v3m1-80v11m0 3v6m0 58v1m1-94v3m0 12v17m0 2v2m0 57v2m1-96v9m0 8v1m0 1v2m0 7v8m1-6v5m1-6v4m1-7v5m0 61v2m1-70v4m0 64v2m1-69v5m0 63v2m1-84v3m0 11v8m0 60v3m1-87v1m0 1v1m0 6v8m0 69v2m1-84v13m0 70v3m1-89v18m0 70v6m1-103v1m0 6v20m0 71v1m0 1v1m1-107v32m0 73v2m1-108v26m0 81v1m1-105v14m1-15v15m0 90v2m1-107v14m0 92v3m1-110v10m0 97v2m1-113v5m0 107v1m1-114v3m0 110v2m1-114v4m0 110v2m1-116v9m0 106v2m1-110v5m0 102v4m1-111v9m0 97v5m1-112v14m0 95v2m1-113v16m0 96v1m1-118v20m0 99v1m1-120v5m0 2v12m0 98v1m1-109v3m0 103v2m1-109v3m0 101v4m1-113v2m0 3v4m0 99v2m1-117v6m0 7v4m0 99v1m1-117v15m1-14v6m0 108v1m1-113v4m0 107v2m1-113v6m0 104v3m1-112v10m0 1v1m0 97v2m1-112v14m0 95v2m1-112v16m0 92v2m1-100v6m0 93v2m1-101v5m0 93v3m1-104v5m0 1v1m0 94v1m1-103v4m0 97v2m1-102v8m0 91v2m1-102v10m0 90v1m1-103v12m0 91v1m1-104v9m0 93v3m1-105v4m1-2v5m0 97v1m1-104v3m0 101v1m1-107v3m0 103v2m1-109v3m0 103v1m0 1v2m1-109v2m0 99v3m0 2v5m1-112v3m0 101v10m1-118v8m0 97v1m0 1v4m0 6v2m1-117v8m0 91v4m0 13v1m1-111v4m0 88v2m1-93v5m0 84v1m0 1v3m1-95v6m0 85v3m1-95v7m0 85v1m1-92v5m0 85v2m1-92v3m0 85v3m1-91v2m0 85v2m1-90v4m0 83v1m1-88v4m0 83v1m1-91v6m0 84v3m1-92v5m0 85v1m1-90v2m0 87v1m1-91v2m0 87v2m1-95v4m0 88v1m1-95v3m0 92v1m1-91v1m0 88v2m1-92v6m0 85v1m1-91v5m0 83v1m1-91v7m0 85v2m1-95v3m0 90v3m1-96v2m0 91v2m1-96v2m0 92v1m1-95v2m0 91v1m1-92v3m0 89v2m1-92v4m0 85v2m1-90v4m0 83v2m1-90v3m0 84v2m1-90v3m0 84v1m1-89v5m0 81v2m1-90v4m0 84v2m1-91v3m0 86v2m1-91v4m0 85v2m1-88v5m0 81v1m1-83v2m0 82v1m1-85v2m0 80v2m1-88v1m0 1v3m0 80v2m1-83v2m0 81v2m1-86v1m0 83v1m1-82v2m0 80v2m1-83v1m0 80v2m1-87v2m0 84v5m1-93v3m0 89v1m1-93v7m0 86v2m1-95v8m0 84v3m0 1v1m1-95v6m0 84v3m0 1v1m1-94v4m0 83v2m1-89v5m0 81v2m0 1v1m1-90v5m0 79v2m0 1v1m1-89v7m0 76v1m0 1v1m1-86v8m0 76v2m1-85v9m0 73v3m1-84v8m0 73v1m1-81v5m0 75v1m1-81v4m0 75v1m1-81v5m0 75v2m1-87v11m0 75v2m1-87v10m0 74v2m1-83v5m0 76v1m1-82v6m0 75v1m1-85v7m0 77v1m1-86v8m0 78v1m1-86v6m0 79v3m1-87v4m0 80v1m1-85v3m0 83v2m1-88v3m0 84v2m1-91v4m0 84v3m1-92v4m0 85v2m1-92v5m0 87v2m1-94v6m0 1v1m0 86v3m0 1v1m1-97v7m0 84v7m1-97v12m0 79v5m1-96v5m0 91v3m1-99v7m0 90v3m1-102v9m0 90v2m0 1v1m1-101v5m0 94v1m1-101v7m0 91v2m1-101v6m0 93v2m1-99v2m0 96v2m1-100v2m0 96v1m0 1v2m1-4v2m1-103v2m0 99v1m1-2v2m1-97v2m0 92v2m1-97v2m0 93v3m1-99v3m0 95v1m1-94v1m0 92v1m1-96v5m0 91v1m1-95v5m0 89v1m1-96v3m1-5v4m0 92v2m1-101v10m0 90v1m1-99v3m0 1v12m0 82v2m1-84v2m0 80v2m1-82v2m0 79v1m1-84v4m0 77v1m1-85v8m0 76v2m1-88v10m0 75v1m1-84v8m0 74v1m1-78v5m0 73v1m1-76v4m0 71v2m1-77v4m0 71v1m0 1v2m1-80v1m0 79v1m1-2v3m1-3v1m1 0v2m1-2v1m1-1v2m1-2v2m1-81v3m0 77v1m1-81v3m0 77v1m1-82v2m0 79v1m1-2v2m1-5v3m1-3v2m1-2v2m1-2v2m1-3v1m1-76v3m0 71v1m1-74v4m0 66v3m1-74v6m0 66v1m1-74v8m0 62v1m1-70v7m0 61v2m1-69v4m0 60v3m1-67v3m0 9v4m0 48v2m1-64v14m0 48v1m1-57v5m0 49v2m1-55v4m0 50v2m1-54v3m0 49v1m0 1v1m1-54v3m0 49v2m1-54v3m0 49v1m1-52v2m0 48v1m1-52v3m0 46v2m1-51v2m0 47v1m1-51v3m0 47v1m0 1v1m1-52v2m0 47v2m1-50v1m0 47v1m1-51v2m0 49v1m1-51v3m0 47v1m1-52v4m0 48v2m1-53v4m0 48v2m1-52v2m0 48v2m1-52v1m0 50v2m1-53v2m0 49v2m1-53v2m1-2v2m0 47v1m1-51v2m0 48v1m1-50v1m0 47v2m0 1v1m1-51v1m0 46v3m1-49v3m0 43v2m1-46v2m0 42v3m1-46v1m0 43v3m1-47v3m0 1v1m0 38v1m1-44v6m0 1v1m0 37v1m1-44v4m0 37v2m1-40v3m0 34v2m1-39v1m0 1v1m0 33v1m0 1v1m1-37v2m0 33v3m1-36v3m0 32v1m1-35v5m0 26v1m0 1v1m1-32v4m0 21v3m1-27v3m0 22v1m1-25v2m0 21v1m1-22v3m0 17v2m1-21v1m0 16v2m0 1v1m1-20v1m0 15v1m1-15v1m0 12v2m1-2v2m1-18v3m0 14v1m1-17v1m0 15v1m1-17v2m0 7v4m0 1v2m1-16v2m0 5v2m1-18v4m0 4v1m0 1v1m0 6v1m1-24v1m0 1v3m0 1v3m0 14v1m1-25v3m0 4v3m0 11v3m1-29v7m0 21v2m1-28v7m0 19v2m1-26v8m0 18v1m1-25v7m0 17v2m1-45v1m0 20v10m0 11v1m1-41v1m0 20v4m0 4v5m0 9v2m1-22v4m0 4v2m0 11v1m1-20v4m0 1v1m0 1v3m0 5v1m0 1v2m1-16v3m0 4v2m0 3v3m1-36v2m0 23v1m0 4v6m1-12v4m1-24v3m0 19v4m1-2v2m2 3v3m1-13v1m0 10v3m1-1v3m1-13v2m0 10v2m1-16v8m0 8v1m1-16v9m0 8v2m1-16v8m0 8v1m1-24v1m0 8v8m1-16v2m0 8v8m1-14v2m0 6v7m1-15v2m0 8v6m1-14v2m0 8v2m0 1v1m1-12v2m0 8v4m1-12v2m0 8v2m1-10v2m1 0v2m0 6v1m1-7v2m1 6v1m27-26v1m1 1v1m1 1v1m1 0v1m6-7v2m1 0v2m2 5v1m1 2v1m0 3v2m1-5v2m0 1v2m1 1v1m7-50v2m1-2v1m1-1v1m1 18v1m1-1v2m1 0v4m3-26v1m1-1v1m7 32v2m1-4v1m1 2v1m1-14v2m1-2v1m0 2v1m105 30v1m2 0v1m0 3v1m1-5v1m0 1v1m1-2v1m2 0v1m2 1v1m2 1v1m1-4v1m0 1v2m1-6v2m0 6v1m2-7v2m0 2v1m1-3v1m51-54v1m0 6v2m1-1v1m0 1v1m2-7v1m0 8v2m1 1v1m1-11v1m1 11v2m1-7v1m0 5v2m1-11v2m0 9v2m1 0v2m2 0v1m1-13v1m0 13v1m1 1v1m1-15v2m0 13v1m1-14v2m1 0v2m0 13v1m1 0v1m1-2v1m1-12v2m0 14v1m1-15v2m1-1v1m0 12v1m1-15v4m0 10v1m1-14v5m0 6v1m1-11v6m1-4v8m1-6v5m0 1v2m0 2v1m1-9v1m0 1v1m11-10v1m1-3v1m0 1v1m2-4v2m1 0v2m1 0v2m1 0v2m0 9v1m1-10v2m0 8v2m0 4v2m1-16v2m0 8v2m1-10v2m1 0v2m1 0v1m0 10v1m1-12v2m0 9v1m1-10v2m0 4v1m1-6v3m0 2v1m1-5v4m1-2v4m0 1v2m1-5v4m1-2v3m4-28v1m0 1v2m0 1v1m1-5v1m0 1v1m0 5v2m1-7v1m0 6v2m1-8v3m0 5v2m1-7v1m0 6v2m1-7v1m0 6v2m1-7v3m0 4v2m1 0v2m1-8v2m0 6v1m1 2v1m2 1v1m1-1v2m1-6v1m0 4v2m1-2v1m0 1v1m1-6v1m0 2v2m0 2v3m1-8v1m1 1v1m1-3v1"/>
<path stroke="#74ff8b" d="M105.5 310v4m0 39v5m1-50v4m0 45v3m1-51v10m0 39v3m1-49v9m0 36v10m1-47v4m0 31v11m1-44v3m0 30v8m1-43v4m0 33v4m0 2v2m1-46v4m0 36v4m1-43v4m0 33v5m1-40v4m0 27v6m1-37v4m0 26v4m1-38v8m0 24v3m1-35v16m0 15v3m1-33v14m0 16v3m1-30v10m0 18v20m1-48v5m0 33v11m1-50v3m0 34v6m1-44v3m0 4v8m0 20v9m1-42v12m0 13v8m1-33v9m0 16v8m0 11v3m1-49v7m0 3v6m0 3v34m1-54v3m0 2v4m0 2v6m0 1v2m0 1v24m0 1v6m1-32v19m0 10v4m1-33v10m0 20v3m1-42v14m1-15v2m0 40v1m1-50v7m0 41v2m1-52v7m0 36v1m0 7v2m1-47v3m1-1v9m0 34v2m1-45v12m1-15v16m0 30v2m1-51v8m0 34v2m0 5v1m1-49v4m0 28v18m1-51v17m0 11v19m0 3v1m1-52v19m0 30v2m1-50v11m0 36v2m1-45v12m0 1v1m0 26v5m1-44v13m0 31v2m1-46v3m0 2v11m0 29v1m1-38v12m0 24v3m1-38v3m0 33v2m1-44v8m1-8v3m0 38v1m1-43v3m0 38v1m1-49v8m0 40v1m0 1v1m1-51v6m0 43v1m1-57v3m0 7v13m0 1v1m0 33v1m1-45v1m0 1v8m0 33v2m1-48v5m0 41v1m1-51v7m0 43v1m1-53v2m0 49v1m0 1v1m1-57v5m0 51v1m1-60v6m0 54v1m1-61v6m0 2v2m0 6v8m0 35v3m1-77v4m0 14v3m0 2v8m0 6v4m1-20v5m0 5v9m1-10v2m0 42v2m1-46v2m0 18v8m0 16v3m1-57v13m0 44v1m1-58v14m0 48v3m1-67v12m0 54v3m1-70v6m0 3v4m0 52v2m1-61v6m0 6v2m0 42v5m0 1v1m1-73v11m0 56v1m0 1v1m1-72v12m0 57v1m1-69v4m0 3v2m0 58v1m1-69v4m0 63v1m1-71v14m0 56v2m1-71v14m0 55v2m1-68v11m0 54v2m1-68v4m0 62v1m1-69v5m0 1v9m0 52v1m1-65v13m0 50v3m1-60v6m0 51v3m1-62v7m0 51v3m0 1v1m1-73v4m0 5v10m0 49v2m1-71v4m0 7v17m0 38v2m1-66v3m0 6v15m0 41v2m1-61v2m0 2v9m0 46v2m1-58v9m0 48v1m1-59v6m0 51v1m1-60v5m0 54v1m1-62v17m0 43v1m1-64v17m0 46v1m1-62v4m0 58v1m1-60v2m0 57v1m1-67v11m0 3v7m0 46v2m1-69v23m0 46v1m1-68v15m0 53v2m1-70v4m0 64v3m0 1v1m1-74v3m0 67v3m1-80v10m0 69v2m1-90v12m0 76v2m1-90v12m0 76v2m1-91v5m0 1v2m0 1v6m0 74v3m1-97v9m0 87v1m1-106v10m0 96v1m1-110v21m1-19v20m0 3v1m0 84v2m1-105v23m0 80v3m1-103v18m0 8v3m0 70v3m1-98v16m0 2v8m1-22v18m0 75v2m1-95v16m0 79v1m1-97v16m0 79v4m1-100v15m0 82v1m1-105v11m0 90v2m1-104v13m0 87v1m1-100v8m0 90v1m1-98v6m0 91v2m1-101v7m0 92v2m1-109v8m0 98v2m1-108v9m0 94v1m0 1v2m1-105v13m0 2v1m0 85v3m1-99v1m0 1v4m0 89v4m1-96v7m0 85v3m1-94v8m0 83v1m1-92v8m0 83v2m1-94v10m1-13v1m0 1v18m0 74v2m1-98v11m0 3v7m0 74v2m1-92v5m0 85v1m1-90v4m0 85v1m1-90v4m0 85v2m1-94v4m0 88v1m1-98v9m0 90v2m1-98v6m0 89v2m1-100v8m0 91v2m1-103v4m0 96v1m0 1v1m1-104v3m0 94v6m0 1v1m1-105v7m0 88v1m0 1v2m0 3v2m1-104v7m0 90v4m1-100v10m0 86v1m0 1v1m1-97v11m0 79v1m1-89v11m0 74v3m1-86v8m0 75v1m0 1v1m1-86v5m0 78v2m1-85v5m0 79v1m1-86v6m0 78v1m1-87v7m0 77v1m1-86v8m0 76v1m1-84v6m0 75v2m1-83v6m0 75v2m1-84v7m0 75v2m1-84v7m0 75v3m1-87v4m0 81v2m1-88v3m0 83v1m1-89v3m1-6v5m0 85v2m1-89v5m0 82v1m1-84v4m0 79v2m1-85v4m0 80v1m1-85v3m0 81v1m1-90v6m0 83v1m1-91v3m0 87v1m1-92v2m0 87v3m1-92v4m0 1v1m0 83v2m1-88v5m0 82v2m1-86v2m0 80v2m1-83v2m0 79v2m1-85v3m0 80v1m1-85v2m0 80v2m1-83v3m0 77v1m1-84v5m0 77v2m1-86v3m0 81v2m1-85v3m0 1v1m0 79v1m1-81v4m0 76v1m1-80v2m0 77v3m1-82v2m0 77v1m1-81v4m0 74v2m1-79v3m0 75v3m1-83v7m0 74v2m1-79v4m0 75v1m1-80v3m0 76v1m1-83v6m0 77v1m1-85v8m0 77v4m1-85v6m0 78v2m1-85v8m0 74v2m1-84v6m0 74v4m1-85v6m0 76v1m1-82v5m0 74v2m1-81v4m0 73v2m1-78v4m0 71v1m0 1v1m1-77v4m0 69v3m1-74v5m0 66v2m1-73v6m0 66v1m1-75v10m0 64v1m1-76v4m0 70v1m1-75v3m1-2v4m0 70v1m1-75v5m0 68v1m1-76v9m1-8v9m0 65v1m1-77v6m0 70v1m1-77v6m0 70v2m1-79v5m0 1v1m0 70v2m1-80v3m0 75v2m1-81v4m0 78v1m1-83v3m0 79v2m1-85v6m0 76v2m1-85v6m1-6v12m0 74v1m1-86v1m0 1v9m0 6v1m0 67v3m1-85v10m0 4v1m0 66v3m1-78v4m0 74v1m1-86v11m0 76v4m1-89v7m0 80v3m1-90v4m0 84v2m0 2v1m1-95v6m0 85v3m1-93v6m1-8v10m0 82v1m1-95v4m0 91v1m1-96v3m0 92v1m0 1v1m1-101v7m0 90v2m1-99v13m0 85v1m1-95v9m1-8v7m0 84v1m1-93v6m0 86v1m1-93v6m0 88v1m1-92v4m0 87v1m1-90v3m0 86v2m1-89v2m0 85v2m1-92v4m0 86v2m1-93v5m0 86v1m1-89v7m0 81v2m1-82v13m0 68v1m1-80v10m0 69v1m1-78v2m0 75v2m1-79v3m0 73v1m1-76v6m0 69v1m1-76v9m0 65v1m1-75v10m0 63v1m1-72v6m0 66v1m1-71v3m0 67v1m1-71v3m0 66v1m0 2v1m1-77v4m0 72v3m1-79v3m0 74v1m1-75v1m0 72v2m1-2v3m1-2v2m1-2v2m1-1v1m1-1v2m1-77v2m0 73v2m1-79v4m0 73v2m1-79v5m0 70v3m1-76v5m0 67v1m1-70v2m0 67v1m1-2v2m1-2v2m1-2v1m1-66v3m0 60v2m1-66v4m0 57v2m1-65v5m0 58v2m1-64v4m0 57v1m1-62v3m0 57v1m1-63v6m0 53v1m1-61v9m0 4v3m0 43v2m1-48v3m0 42v3m1-51v3m0 45v1m1-49v2m0 46v2m1-49v3m0 44v2m0 1v1m1-50v4m0 41v4m1-49v5m0 42v2m1-49v5m0 40v1m0 1v1m1-48v4m1-5v3m0 42v2m1-47v2m0 43v2m1-47v1m0 45v1m1-47v1m0 45v1m1-48v3m0 43v3m1-47v2m0 43v2m1-47v3m0 44v1m1-47v2m0 44v2m1-48v2m0 44v2m1-49v3m0 44v3m1-49v2m0 45v2m1-49v2m0 45v1m1-48v2m0 43v2m1-48v2m0 43v3m1-48v3m0 41v3m1-46v3m0 40v3m1-43v2m0 38v3m1-42v1m0 38v3m1-42v2m0 2v1m0 34v4m1-41v1m0 1v3m0 1v1m0 31v2m0 1v2m1-40v1m0 35v3m1-39v3m0 33v1m1-35v2m0 30v2m1-34v1m0 30v2m0 1v1m1-34v1m0 29v3m1-30v2m0 26v4m1-29v1m0 22v3m1-25v1m1-1v1m0 19v2m1-22v3m0 16v2m1-2v1m1-18v2m0 13v1m1-15v1m0 12v2m2-10v1m1-5v3m0 9v2m1-15v2m0 2v1m0 4v1m0 3v2m1-14v2m0 1v4m0 4v1m1-12v5m1-7v1m0 1v6m1-14v5m0 2v7m1-21v4m0 3v3m0 6v2m1-19v3m0 2v1m0 1v3m0 9v2m1-19v3m1 0v2m0 14v2m1-17v11m0 5v1m1-12v8m0 2v1m1-6v5m0 3v1m1-10v8m0 1v2m1-9v5m0 1v1m1-5v3m12-7v2m1 0v2m1 0v2m1-3v1m0 2v2m1 0v2m1 0v2m1 0v2m1 0v2m1 0v2m2-1v3m1-4v3m36-23v2m1 6v1m1-5v2m0 4v2m1-6v1m1 4v1m1 1v1m12-25v1m122 32v1m1-1v1m0 3v1m10-1v1m0 2v3m1-4v4m1-4v2m53-55v3m0 2v3m1-3v1m0 1v5m1-3v4m1-8v1m0 5v5m1-9v1m0 5v4m1-7v2m0 3v3m1-1v2m1-7v2m0 5v2m1-10v2m0 8v2m1-10v2m0 8v2m1-12v4m1-3v5m0 7v1m1-12v5m0 8v1m1-12v4m0 8v1m1-11v2m0 10v2m1-12v1m0 11v1m1-13v2m1 0v2m2 10v1m1-9v2m0 8v2m1-10v2m0 7v1m1-8v2m1 0v2m1 3v1m0 1v1m1-2v1m13-15v1m0 1v2m1-3v1m0 1v3m1 0v2m1 0v2m1-6v1m0 5v2m1-6v2m0 4v2m1-6v2m0 4v2m1-6v1m1 9v2m1 0v2m1-9v1m0 8v1m1-9v2m1 0v2m0 1v1m1-2v2m1 0v2m1 0v1m6-25v1m0 2v1m0 1v3m1-7v1m0 1v2m1-3v1m0 1v2m0 2v2m1-3v5m1-4v6m1-4v6m1-2v4m1-4v6m1-4v6m0 1v1m1-5v2m0 3v1m1-5v4m1 0v1m1-1v1m0 1v1m1-3v1m0 2v1m1-3v1m0 1v1m0 1v1m1-4v2m0 2v1m1-5v1m0 1v1m0 1v2m1-2v2m1-4v1"/>
<path stroke="#8bff74" d="M105.5 314v6m0 27v6m1-41v12m0 23v10m1-38v4m0 20v3m0 8v4m1-37v3m0 19v3m0 7v4m1-33v3m0 24v4m1-30v3m0 22v5m1-31v4m0 23v6m1-34v6m0 5v3m0 18v4m1-35v15m0 14v4m1-31v4m0 15v8m1-27v4m0 10v12m1-26v24m1-16v15m1-16v16m1-17v12m0 1v5m1-23v33m1-36v34m1-35v4m0 8v4m0 3v13m1-21v5m0 4v4m1-16v16m1-20v3m0 6v3m1-11v2m0 34v1m1-7v10m1-19v20m1-25v26m1-39v22m0 5v13m1-42v3m0 23v15m1-43v4m0 19v3m0 2v8m0 1v7m1-42v14m0 13v16m1-35v9m0 10v15m1-31v6m0 11v15m1-31v7m0 11v12m1-41v25m0 3v6m0 2v5m1-44v28m1-16v11m0 19v3m1-32v30m1-37v12m0 2v6m0 2v14m1-31v1m0 1v5m0 2v5m0 3v11m1-26v31m1-28v12m0 5v12m1-25v2m0 17v5m1-32v8m0 24v1m1-34v5m0 28v1m1-39v5m0 27v6m1-39v11m0 12v2m0 8v5m1-40v13m0 10v9m0 4v4m1-42v16m0 3v8m0 2v2m0 11v1m1-33v1m0 1v7m0 24v2m1-34v4m1-12v8m0 32v1m1-43v7m0 34v2m1-50v8m0 40v1m0 1v1m1-51v1m0 49v1m1-53v5m0 4v8m0 2v2m0 32v1m1-54v2m0 2v6m0 8v7m0 27v1m1-53v2m0 18v5m0 26v3m1-35v8m0 25v2m1-43v8m0 6v17m0 10v1m1-42v5m0 8v5m0 8v4m0 8v4m1-41v4m0 6v15m0 16v3m1-43v17m0 26v5m1-52v21m0 27v1m0 1v4m1-54v21m0 21v10m1-53v6m0 2v10m0 31v1m1-55v17m0 36v3m1-57v10m0 45v2m1-64v3m0 2v13m0 43v2m1-64v9m0 53v1m1-56v3m0 52v1m1-55v3m0 51v1m1-55v15m0 2v1m0 35v1m1-62v25m0 35v2m1-63v1m0 9v7m0 44v1m1-51v6m0 42v2m1-51v9m0 3v4m0 32v3m1-52v13m0 4v1m0 32v1m1-49v12m0 2v7m0 26v2m1-41v15m1-17v4m0 4v8m0 24v1m1-46v8m0 7v6m0 1v1m0 21v2m1-47v27m0 19v2m1-52v25m0 24v2m1-54v27m0 25v2m1-44v16m0 26v1m1-46v18m0 27v1m1-57v11m0 5v8m0 2v4m0 26v2m1-57v33m0 22v2m1-55v3m0 7v6m0 2v9m0 28v1m1-44v6m0 38v2m1-52v14m0 37v2m1-64v9m0 5v14m0 34v2m1-66v5m0 13v10m0 36v1m0 1v1m1-67v6m0 14v1m0 47v1m1-76v12m0 63v1m1-76v12m0 63v1m1-84v1m0 2v1m0 6v5m0 67v2m1-85v16m0 5v2m0 62v2m1-95v15m0 8v15m0 56v2m1-88v7m0 7v16m0 57v2m1-88v3m0 1v21m0 62v1m1-80v16m0 62v2m1-82v8m0 3v12m1-21v2m0 8v9m0 60v2m1-75v10m0 63v2m1-77v4m0 72v3m1-80v4m0 73v2m1-81v14m0 65v3m1-93v25m0 64v1m1-89v6m0 75v6m1-91v5m0 80v5m1-91v2m0 43v3m0 42v1m1-92v3m0 24v5m0 59v1m1-99v9m0 18v4m0 36v3m0 22v6m1-97v11m0 50v7m0 22v4m0 1v1m1-90v2m0 1v6m0 26v6m0 2v17m0 24v4m1-90v12m0 9v11m0 2v15m0 7v5m0 24v4m1-85v7m0 7v10m0 1v1m0 6v8m0 40v5m1-83v4m0 10v6m0 9v7m0 5v2m0 38v2m1-83v4m0 7v7m0 9v20m0 35v1m1-82v15m0 11v21m0 32v4m1-76v7m0 10v14m0 5v5m0 32v1m1-85v3m0 7v12m0 28v1m0 32v1m1-85v24m0 60v1m1-85v6m0 9v5m0 64v1m1-85v7m0 8v4m0 63v3m1-88v11m0 73v4m1-88v5m0 1v7m0 74v3m1-90v5m0 2v4m0 77v1m1-90v5m1-11v9m0 86v1m0 1v1m1-100v16m0 75v3m1-90v14m0 4v2m0 65v3m0 1v1m1-90v13m0 73v4m1-86v10m0 72v4m1-83v6m0 71v2m1-77v4m0 69v1m1-75v6m0 1v6m0 60v2m1-78v5m0 8v4m0 60v1m1-78v3m0 10v3m0 61v2m1-79v4m0 1v1m0 70v2m1-79v12m0 64v1m1-77v8m0 65v3m1-77v10m0 64v1m1-75v8m0 65v2m1-75v5m0 66v4m1-75v6m0 66v3m1-80v9m0 69v3m1-83v3m0 79v1m1-85v3m0 81v1m1-86v3m0 80v2m1-82v7m0 74v1m1-79v4m0 74v1m1-79v3m0 75v1m1-80v3m0 77v1m1-83v3m0 79v1m1-87v6m0 79v2m1-89v7m0 79v1m1-85v1m0 1v4m0 77v2m1-81v3m0 75v4m1-82v4m0 74v2m0 2v1m1-82v3m0 73v1m0 1v1m1-80v5m0 72v3m1-82v7m0 71v2m1-78v5m0 70v2m1-78v7m1-11v6m0 4v1m1-10v1m0 1v6m0 1v1m0 70v1m1-76v4m0 71v1m1-77v3m0 73v1m1-77v3m0 72v2m1-76v3m0 70v1m1-74v6m0 67v2m1-73v6m0 67v1m1-73v3m0 70v2m1-76v2m0 73v1m1-76v4m0 71v2m1-76v5m0 68v4m1-75v4m0 69v5m1-75v5m0 65v4m1-76v10m0 62v2m1-75v10m0 62v4m1-76v10m0 6v1m0 55v2m1-75v4m0 2v2m0 1v11m0 51v2m1-72v20m0 50v1m1-70v18m0 50v1m1-66v11m0 53v2m1-65v7m0 58v1m1-64v5m0 57v2m1-71v10m0 59v1m1-71v6m0 64v2m1-70v5m0 63v2m1-69v5m0 62v1m1-66v4m0 61v2m1-66v4m0 60v1m1-70v8m0 60v2m1-70v5m0 64v1m1-72v1m0 1v11m0 58v1m1-75v14m0 60v1m1-75v6m0 70v2m1-79v8m0 69v2m1-77v8m0 66v2m1-77v11m0 65v3m1-73v13m0 58v3m1-74v6m0 1v5m0 60v2m1-72v4m0 1v5m0 60v1m1-71v10m0 60v4m1-74v5m0 67v4m1-78v5m0 71v4m1-83v8m0 73v3m1-84v8m0 76v1m1-84v6m0 77v2m1-83v5m0 76v1m1-90v18m0 71v2m1-92v4m0 2v10m0 2v1m0 71v2m1-91v12m0 77v1m1-84v6m0 3v1m1-10v12m0 72v1m1-86v6m0 77v1m1-86v7m0 78v1m1-86v11m0 1v2m0 73v1m1-87v12m1-11v10m1-9v9m0 75v1m1-86v4m0 81v1m1-86v5m0 80v1m1-81v4m0 1v13m0 62v1m1-67v4m0 62v2m1-69v3m0 63v1m0 1v1m1-75v8m0 64v3m1-74v7m0 65v1m1-69v6m0 61v2m1-66v8m0 55v2m1-64v6m0 55v2m1-65v7m0 57v2m1-67v8m0 57v2m1-67v2m0 62v2m0 1v1m1-71v4m0 64v4m1-73v3m0 68v3m1-73v2m0 68v2m1-70v3m0 65v2m1-69v4m0 63v3m1-68v3m0 64v1m1-67v4m0 62v2m1-2v2m1-2v2m1-73v1m0 70v2m1-72v1m0 67v2m1-68v1m0 64v2m1-67v2m0 63v2m1-67v3m0 62v1m1-65v2m0 62v1m1-65v4m0 57v1m0 1v2m1-62v3m0 52v5m1-60v3m0 50v4m1-58v4m0 52v2m1-58v3m0 52v2m1-58v4m0 51v2m1-56v10m1-1v2m0 40v1m1-43v2m0 39v1m1-45v4m0 40v1m1-46v7m0 37v2m1-44v7m0 35v2m1-42v4m0 36v1m1-40v3m0 36v3m1-42v3m0 38v1m1-43v3m0 37v2m1-44v4m1-5v3m0 39v1m1-44v3m0 41v1m1-45v3m0 40v2m1-44v3m0 39v1m1-42v3m0 39v1m1-42v3m0 39v2m1-44v3m0 40v1m1-44v2m0 40v2m1-44v2m1-2v2m0 41v2m1-45v2m0 41v2m1-45v2m0 39v2m1-44v2m0 39v2m1-42v3m0 36v2m1-40v3m0 35v2m1-38v3m0 33v2m1-38v5m0 30v3m1-37v2m0 1v3m0 26v5m1-32v1m0 1v1m0 24v2m0 1v3m1-33v4m0 29v1m1-33v4m0 28v1m1-32v2m0 1v1m0 24v2m1-31v2m0 26v2m1-29v3m0 25v1m1-25v3m0 19v1m0 1v2m1-24v2m0 19v1m1-21v2m0 16v2m1-20v2m0 16v1m1-17v2m0 13v1m1-16v3m0 9v4m1-15v1m0 10v2m1-13v1m0 10v1m1-11v1m0 9v2m1-10v1m0 7v2m1-10v4m0 4v1m1-11v2m0 1v4m0 1v3m1-10v1m3-6v2m1-4v2m0 2v2m1-14v2m0 1v1m0 3v1m0 6v2m1-14v6m0 9v1m1-14v8m1 2v5m1-3v2m1 0v3m1-1v1m14-15v2m0 2v2m1-4v2m0 2v2m1-4v2m0 2v2m1-2v1m0 1v2m1-4v2m0 2v2m1-4v2m0 2v2m1-4v2m0 2v2m1-4v2m0 2v2m1-4v2m0 2v2m1-4v2m0 2v2m1-4v2m1 3v1m37-22v2m1 2v1m1 1v3m0 1v2m1-2v2m136 11v1m5-2v1m3 0v1m0 1v2m2-2v2m55-51v2m1-2v2m0 1v1m1-2v1m0 1v2m1 0v2m1-2v1m0 1v2m1 0v2m1-1v3m1 0v2m1-6v2m0 4v2m1-6v2m0 4v2m1-6v2m0 4v2m1-6v2m0 4v1m1-6v1m0 6v1m1-7v2m1-2v3m1-2v3m0 7v1m1-10v2m0 9v1m1-10v2m0 5v1m1-8v2m0 10v2m1-12v1m0 6v1m3 0v2m1-2v2m0 1v2m1-3v1m0 1v1m15-13v1m1-3v2m0 2v2m1-4v6m1-3v5m1-2v4m1-2v4m1-3v1m0 2v1m0 1v2m1-6v2m0 4v2m1-6v2m0 4v1m1-5v2m1 6v1m1-5v1m10-16v3m1-2v2m7 13v3m2 2v1m1-2v1m1-1v2"/>
<path stroke="#a2ff5e" d="M105.5 320v5m0 14v1m0 4v3m1-23v2m0 9v12m1-24v3m0 7v10m0 3v8m1-30v3m0 5v11m0 3v7m1-26v24m1-23v2m0 2v7m0 7v4m1-22v15m0 4v4m1-22v5m0 3v7m0 1v2m0 1v7m1-16v14m1-23v15m1-15v10m4 4v1m3-6v3m1-3v4m7 10v5m1-26v23m1-24v19m0 3v2m1-12v13m1-10v10m1-10v11m1-9v11m1-4v3m4-13v2m0 6v2m1-10v2m0 5v3m2 0v5m1-11v6m0 1v10m1-19v24m1-28v28m1-33v27m1-22v12m0 2v8m1-22v10m0 9v4m1-22v3m0 8v2m0 2v11m1-23v8m0 14v2m1-28v9m0 14v6m1-33v5m0 21v6m1-35v3m0 25v6m1-40v9m0 16v15m1-47v14m0 2v1m0 7v25m1-47v4m0 8v2m0 2v23m0 7v2m1-28v10m0 13v4m1-27v7m0 4v15m1-24v25m1-33v6m0 17v10m1-36v8m0 17v8m1-33v6m0 15v16m1-23v10m0 1v15m1-26v9m0 3v15m0 1v1m1-29v10m0 4v7m1-25v13m0 7v11m1-37v17m0 4v15m1-44v15m0 14v16m1-44v12m0 27v4m1-53v22m0 29v2m1-52v10m0 7v3m0 31v1m1-51v26m0 24v1m1-39v2m0 1v5m0 29v1m1-36v5m0 29v1m1-44v14m0 19v8m0 1v2m1-44v15m0 10v17m1-40v3m0 4v5m0 4v23m1-36v4m0 1v24m0 1v7m1-36v2m0 7v22m0 2v2m1-24v8m0 5v10m1-36v4m0 8v24m1-37v7m0 6v1m0 1v12m0 8v1m1-18v4m0 14v1m1-25v9m1-10v4m0 9v5m0 6v1m1-26v4m0 8v10m0 2v2m1-27v7m0 3v17m1-45v5m0 8v2m0 4v15m0 7v4m1-22v10m0 9v3m1-37v2m0 9v12m0 8v1m0 5v2m1-37v8m0 29v1m1-36v5m0 30v2m1-53v5m0 14v4m0 29v1m1-59v8m0 1v4m0 10v9m0 26v1m0 1v1m1-60v7m0 1v6m0 1v8m0 35v4m1-63v23m0 2v1m0 35v2m1-63v23m0 38v2m1-68v9m0 5v2m0 46v5m1-67v5m0 2v11m0 44v1m0 2v2m0 1v1m1-78v8m0 15v8m0 6v6m0 34v2m1-79v7m0 16v6m0 1v1m0 47v2m1-61v16m0 44v2m1-63v21m0 2v6m0 31v2m1-57v22m0 34v2m1-60v7m0 5v9m0 38v1m1-63v7m0 7v10m0 38v1m1-71v29m0 39v4m1-73v22m0 49v1m1-64v12m0 18v2m0 11v9m0 12v1m1-65v4m0 26v2m0 14v5m0 6v7m1-82v21m0 14v7m0 13v9m0 9v2m1-80v13m0 6v5m0 8v15m0 14v7m0 6v6m1-84v4m0 16v15m0 3v5m0 3v5m0 3v2m0 9v4m0 5v14m1-88v6m0 9v9m0 5v7m0 2v12m0 5v33m1-89v9m0 6v3m0 4v17m0 4v15m0 3v22m1-80v8m0 1v41m0 7v22m1-75v26m0 6v2m0 17v24m1-74v9m0 11v2m0 15v7m0 5v10m0 4v10m1-74v7m0 10v1m0 1v6m0 8v40m1-74v10m0 6v9m0 7v5m0 2v17m0 2v19m1-77v7m0 7v9m0 20v8m0 6v21m1-66v11m0 21v5m0 7v5m0 7v1m0 1v6m1-65v10m0 14v5m0 5v4m0 6v5m0 14v3m1-62v28m0 1v4m0 21v7m1-60v31m0 20v9m1-78v9m0 5v28m0 1v3m0 22v10m1-77v8m0 4v16m0 25v6m0 10v6m1-74v19m0 32v12m0 3v7m1-79v1m0 7v4m0 8v2m0 46v14m1-82v2m0 4v3m0 60v14m1-84v9m0 47v3m0 21v1m0 1v4m1-88v9m0 29v10m0 11v2m0 17v8m1-81v12m0 2v2m0 9v10m0 34v6m1-73v4m0 2v7m0 13v7m0 34v4m1-72v16m0 41v2m0 11v3m1-72v12m0 58v2m1-73v13m0 25v7m0 24v2m1-71v11m0 38v5m0 12v3m1-68v1m0 6v4m0 38v1m0 14v3m1-71v8m0 4v10m0 48v2m1-74v10m0 3v10m0 9v2m0 38v2m1-73v1m0 1v16m0 13v1m0 38v2m1-65v8m0 11v8m0 34v3m1-68v12m0 10v1m0 1v7m0 32v2m1-64v13m0 47v4m1-66v14m0 47v4m1-68v15m0 49v2m1-65v10m0 54v2m1-68v3m0 64v2m1-77v11m0 66v2m1-81v19m0 60v2m1-82v20m1-13v10m0 62v2m1-74v7m0 65v2m1-75v5m0 67v3m1-76v5m0 69v3m1-79v2m0 76v1m1-80v4m0 74v1m1-80v7m0 70v2m1-78v5m0 69v3m1-76v5m0 68v2m1-74v5m0 66v3m1-74v3m0 68v2m0 1v1m1-74v3m0 68v1m1-72v4m0 66v1m1-71v3m1-2v3m0 65v2m1-75v4m0 1v5m0 64v1m1-72v1m0 1v7m0 61v2m1-71v6m0 63v2m1-73v2m0 69v2m1-73v5m0 65v2m1-71v7m0 61v2m1-67v8m0 58v1m1-65v6m0 59v2m1-69v7m0 62v1m1-72v5m0 66v2m1-71v5m0 2v5m0 57v2m1-69v11m0 54v3m1-67v10m0 55v4m1-65v7m0 55v3m1-62v6m0 54v2m1-63v13m0 1v1m0 45v2m1-62v6m0 1v10m0 42v3m1-69v2m0 2v1m0 11v9m0 40v2m1-50v5m0 43v2m1-51v5m0 43v2m1-54v5m0 47v1m1-56v6m0 50v2m1-58v4m0 51v2m1-59v4m0 53v2m1-64v11m0 51v2m1-63v11m0 51v1m1-62v9m0 51v2m1-61v8m0 52v1m1-60v9m0 49v2m1-61v17m0 42v1m1-63v19m0 44v1m1-58v4m0 53v1m1-60v5m0 54v1m1-68v12m0 56v2m1-69v12m0 54v3m1-67v21m0 44v1m1-64v18m0 46v1m1-57v8m0 48v2m1-59v3m0 55v2m1-60v2m0 56v2m1-60v3m0 56v1m1-65v8m0 57v2m1-69v11m0 56v4m1-71v5m0 63v5m1-73v7m0 64v1m0 1v3m1-77v9m0 65v3m1-76v8m0 67v1m1-71v4m0 65v2m1-86v2m0 10v2m0 1v5m0 63v3m1-77v9m0 67v1m1-77v3m0 1v4m0 69v2m1-73v3m0 68v1m1-79v11m0 64v2m1-78v11m0 66v1m1-74v1m0 2v10m0 61v2m1-74v9m0 64v2m1-76v3m0 71v2m1-76v2m0 72v1m1-81v10m0 70v1m1-80v18m0 3v3m0 53v3m1-76v1m0 13v5m0 54v1m0 1v1m1-62v3m0 56v3m1-64v2m0 60v1m0 1v1m1-66v3m0 60v1m1-64v3m0 61v1m1-62v6m0 54v1m1-56v4m0 50v1m1-56v5m1-6v3m0 52v2m1-57v2m0 51v4m1-63v8m0 51v3m1-63v7m0 55v2m1-66v5m0 61v2m1-68v4m0 62v2m1-65v4m0 58v3m1-63v3m0 58v2m1-62v5m0 57v2m1-62v3m0 58v1m1-64v3m0 60v1m1-2v2m1-3v3m1-3v1m1-57v3m0 51v2m1-56v4m0 50v2m1-62v1m0 5v4m0 49v3m1-62v2m0 3v3m0 51v3m1-60v4m0 49v1m0 1v2m0 1v1m1-57v3m0 47v2m1-52v4m1-4v3m0 46v3m1-53v3m0 47v2m1-52v6m0 44v1m1-44v4m0 37v2m1-42v4m0 32v4m1-40v4m0 32v3m1-40v5m0 31v4m1-38v4m0 31v2m1-35v3m0 31v1m1-36v4m0 30v2m1-36v2m0 33v1m1-36v3m0 32v2m1-38v2m0 34v1m1-38v2m0 34v2m1-40v3m0 34v2m1-40v2m0 30v9m1-41v2m0 33v5m1-39v2m0 33v4m1-38v4m0 33v2m1-38v5m0 33v1m1-39v4m0 35v1m1-41v3m0 33v4m1-40v3m0 29v10m1-42v3m0 30v8m1-41v2m0 35v4m1-41v2m0 34v3m1-40v4m0 33v2m1-37v3m0 31v2m1-35v4m0 29v2m1-33v4m0 27v2m1-31v4m0 24v2m1-28v3m0 17v6m1-24v2m0 7v15m0 2v1m1-26v17m0 6v2m0 1v3m1-28v7m0 18v3m1-29v1m0 1v5m0 17v2m1-27v2m0 1v1m0 21v1m1-24v5m0 17v3m1-21v2m0 18v1m1-20v2m0 15v2m1-18v1m0 13v2m1-16v1m0 13v2m1-9v8m1-12v9m1-10v2m0 2v6m1-10v2m0 7v1m1-9v2m0 5v2m1-6v1m0 3v2m1-4v4m6-14v2m1-4v6m1-6v4m0 4v1m1-5v6m18-10v2m1 0v2m1 0v2m2 2v2m1 0v2m1 0v2m1 0v2m1 0v2m1 0v2m1 0v1m37-19v2m1 0v4m1-1v3m1 1v1m137 12v1m8 1v1m59-46v1m1-1v3m1-1v1m0 1v1m1 1v1m2 1v3m1-2v4m1-2v4m1-2v4m1-2v4m1-4v2m0 3v1m1-4v2m0 3v1m1-5v1m0 4v2m1-6v2m0 4v1m1-7v3m0 5v1m1-7v2m0 4v1m1-7v2m0 6v2m1-9v1m1 0v2m0 5v1m1-6v2m0 1v4m1-5v2m1 2v1m17-11v2m5 8v2m0 1v1m1-2v4m1-2v3m0 2v1m1 0v2m1-6v2m0 3v1m21 1v1m3 0v1"/>
<path stroke="#b8ff47" d="M105.5 325v14m0 1v4m1-18v9m1-9v7m1-6v5m2-2v2m0 7v7m1-3v4m1-3v1m0 2v1m33 7v1m7-1v14m1-17v3m0 1v10m1-22v8m0 10v3m1-26v15m0 1v9m1-25v4m0 4v8m1-18v2m0 1v7m1 17v7m1-16v13m1-16v4m5 4v1m1-2v3m1-2v4m1-5v7m1-9v4m1-14v14m1-16v27m1-27v29m1-40v7m0 3v31m1-24v5m0 10v9m1-30v10m0 10v9m1-30v29m1-29v19m0 8v1m1-27v10m1-11v4m1 16v1m1 2v2m1-14v5m2 0v8m1-13v14m1-15v15m1-21v9m0 5v6m1-21v8m0 10v2m1-18v3m1 6v7m1-8v9m1-11v8m0 1v5m1-27v29m1-30v27m0 2v1m1-28v16m0 2v11m1-50v1m0 23v10m0 6v10m1-50v1m0 15v35m1-36v2m0 1v28m0 3v4m1-38v8m0 8v22m1-57v5m0 2v20m0 10v16m1-44v19m0 7v18m0 1v2m0 2v1m1-46v6m0 6v21m0 4v9m1-48v1m0 1v27m1-23v22m0 21v1m1-40v2m0 6v7m0 14v4m0 2v4m1-33v8m0 13v13m1-51v5m0 9v8m0 27v3m1-55v7m0 10v4m0 26v8m1-41v8m0 17v3m0 3v8m1-47v19m0 10v20m0 1v1m1-53v18m0 2v4m0 2v5m0 9v12m1-60v26m0 2v14m0 5v6m1-54v14m0 7v13m0 9v9m1-65v6m0 5v8m0 15v8m0 3v3m0 7v6m1-74v16m0 15v3m0 13v3m0 2v9m0 4v5m1-68v9m0 21v2m0 12v5m1-47v6m0 24v4m1-32v1m2 55v4m2-9v2m1-7v6m1-8v7m0 5v7m0 1v1m1-21v6m0 5v14m1-26v4m0 3v14m1-22v4m0 6v10m1-27v1m0 3v22m1-39v25m0 6v10m1-49v9m0 16v7m0 12v3m1-60v8m0 2v12m0 16v18m1-59v4m0 5v21m0 2v1m0 4v23m1-61v4m0 6v37m0 3v21m0 1v1m1-75v29m0 10v11m0 2v17m1-61v2m0 2v9m0 10v23m0 6v5m1-54v13m0 7v5m0 13v16m1-52v23m0 11v7m0 2v11m1-57v13m0 3v36m0 4v2m1-58v7m0 10v8m0 7v24m1-58v38m0 5v12m1-54v38m0 1v14m1-46v40m0 6v2m1-49v9m0 2v26m0 11v1m1-53v13m0 1v10m0 6v3m0 18v1m1-55v11m0 8v8m0 25v1m1-53v10m0 1v1m0 7v8m0 18v6m1-49v10m0 26v11m1-48v10m0 24v13m1-49v7m0 25v17m1-53v9m0 11v15m0 17v2m1-63v13m0 3v1m0 13v5m0 27v2m1-64v7m0 1v4m0 4v1m0 46v3m1-60v4m0 54v2m1-60v3m0 55v2m1-63v5m0 56v1m1-65v7m0 56v2m1-68v6m0 60v1m1-68v4m0 63v2m1-74v10m0 64v2m1-75v9m0 63v2m1-72v8m0 59v3m1-71v11m0 56v2m1-68v13m0 53v2m1-67v13m0 52v1m1-68v5m0 62v1m1-67v6m0 60v2m1-67v5m0 59v2m1-67v4m0 61v2m1-66v4m0 1v1m0 58v1m1-63v3m0 59v2m1-62v1m0 59v1m1-63v3m0 59v1m1-69v7m0 61v1m1-66v9m0 55v1m1-62v9m0 50v2m1-57v4m0 50v1m0 1v2m1-58v4m0 52v3m1-60v6m0 55v1m1-66v16m0 49v1m1-64v2m0 5v7m0 9v2m0 36v3m1-56v7m0 7v3m0 35v2m1-54v6m0 6v6m0 33v4m1-54v13m0 36v6m1-53v10m0 16v2m0 24v2m1-48v1m0 1v4m0 27v4m0 9v1m1-43v5m0 35v2m1-41v5m0 5v2m0 26v2m1-43v14m0 25v4m1-44v7m0 33v3m1-47v12m0 33v2m1-49v15m0 33v2m1-52v20m0 29v2m1-53v26m0 25v2m1-51v23m0 26v2m1-50v13m0 36v2m1-52v10m1-10v4m0 13v1m0 33v1m1-50v13m0 35v1m1-42v5m0 36v1m1-43v4m0 38v2m1-53v9m0 42v2m1-54v3m0 7v2m0 41v1m1-55v15m0 18v3m0 18v2m1-55v20m0 31v3m1-43v10m0 32v2m1-45v8m0 36v2m1-48v4m0 43v1m1-54v8m0 45v2m1-56v4m0 51v1m1-55v6m0 49v1m1-56v6m0 49v2m1-56v7m0 46v3m1-62v16m0 44v1m0 1v1m1-61v16m0 46v2m0 1v1m1-65v11m0 51v3m1-65v8m0 52v7m1-66v4m0 54v7m1-64v5m0 55v3m1-65v5m0 60v2m1-68v3m0 65v1m1-68v3m0 14v6m0 43v2m1-67v6m0 57v1m1-65v10m0 54v2m1-60v4m0 55v2m1-63v6m0 57v1m1-71v5m0 65v1m1-72v5m0 66v1m1-70v7m0 5v15m0 41v2m1-61v3m0 3v8m0 1v1m0 40v3m1-54v7m0 43v4m0 1v1m1-58v6m0 47v3m1-59v8m0 42v3m0 2v5m1-60v2m0 48v10m1-60v3m0 9v4m0 43v2m1-55v4m0 49v1m1-51v2m0 47v1m1-50v2m0 42v6m1-53v4m0 36v12m1-53v3m0 39v9m1-51v3m0 40v8m1-53v4m0 41v10m1-59v7m0 51v3m1-62v12m0 47v3m1-59v10m0 45v3m1-57v6m0 49v3m1-55v4m0 51v2m1-57v3m0 53v2m1-60v3m0 54v3m1-62v6m0 50v5m1-60v7m0 49v3m1-57v9m0 45v3m1-53v4m0 45v2m1-50v2m0 45v3m1-50v2m0 42v5m1-51v3m0 41v7m1-53v4m0 41v4m0 1v1m1-50v5m0 37v5m1-46v5m0 37v4m1-47v5m0 39v2m1-47v6m0 40v1m1-44v5m0 8v6m0 1v1m0 22v1m1-39v2m0 6v5m0 19v5m1-36v2m0 26v4m1-32v4m0 10v1m0 5v12m1-32v3m0 11v17m1-30v3m0 12v16m1-30v8m0 7v16m1-31v12m0 5v13m1-32v6m0 16v1m0 5v5m1-32v5m0 22v5m1-34v7m0 22v5m1-35v3m0 29v2m1-35v1m0 25v8m1-36v4m0 22v4m1-30v5m0 21v7m1-32v4m0 25v4m1-30v4m0 24v5m1-31v3m0 26v4m1-34v4m0 27v4m1-37v5m0 23v5m1-33v2m0 24v3m1-29v2m0 25v3m1-31v4m0 26v5m1-35v5m0 23v6m1-33v6m0 13v14m1-32v5m0 14v12m1-29v3m0 13v13m1-27v7m0 7v13m1-25v9m0 5v10m1-23v17m1-16v7m1 9v6m0 2v1m1-18v18m1-19v17m1-23v1m0 1v9m0 5v7m1-18v17m1-16v17m1-16v2m0 1v12m1-15v1m0 5v7m1-13v2m0 3v8m1-12v5m2-3v2m1-2v7m1-6v5m1-3v3m9-10v4m283-10v3m1-1v3m1-3v2m1 0v4m1-3v5m1-4v2m1-2v6m1-6v5m1-3v5m1-3v1m26 10v1m1-2v4m1-2v3"/>
<path stroke="#cfff30" d="M153.5 355v1m1-4v10m1-8v1m1-12v4m18 9v10m1-11v10m19 3v2m1-11v2m1-5v6m2 6v3m1-26v8m1-8v10m1-9v7m1 11v4m1-10v20m1-21v21m1-24v14m0 4v2m1-21v13m1-16v27m1-31v5m0 3v1m0 2v15m1-25v4m0 7v6m0 3v3m1-20v10m1-7v2m3-6v3m12-5v3m1-4v6m3-29v16m1-16v16m1-37v5m0 21v2m0 1v4m1-34v6m2 42v6m1-24v13m1-13v11m1-24v3m0 36v4m1-49v10m3 29v6m1-10v11m1-28v6m0 3v8m0 2v8m1-27v10m0 8v7m1-25v3m0 9v6m1-33v18m0 5v3m1-27v5m0 9v10m1-29v25m1-27v11m0 15v17m1-48v3m0 1v13m0 5v15m0 7v1m0 1v3m1-55v1m0 4v4m0 1v21m0 5v7m0 10v3m1-53v15m0 23v4m0 6v6m1-55v14m0 28v2m0 5v6m1-56v10m0 44v2m1-57v8m0 47v1m1-60v5m0 53v2m1-63v5m0 57v1m1-62v3m0 58v3m1-64v4m0 56v3m1-62v4m0 2v1m0 50v2m1-57v5m0 49v2m1-53v4m0 46v3m1-52v2m0 47v3m1-62v10m0 49v3m1-60v4m0 53v3m1-60v4m0 54v1m1-61v6m0 53v2m1-60v1m0 1v5m0 49v4m1-59v4m0 52v3m1-59v3m0 54v2m1-59v2m0 56v1m1-61v5m0 55v1m1-56v4m0 49v2m1-52v7m0 41v2m1-51v17m0 29v4m0 1v1m1-52v17m0 22v6m0 3v4m1-51v16m0 36v3m1-49v15m0 32v2m1-49v9m0 2v3m0 30v3m1-46v7m0 3v4m0 27v4m1-46v6m0 6v8m0 1v1m0 13v10m1-37v36m1-37v16m0 2v24m1-40v27m0 4v9m1-37v35m1-34v5m0 2v26m1-27v6m0 1v18m1-33v12m0 6v15m1-32v4m0 11v18m1-32v33m1-30v13m0 12v4m1-25v8m0 15v2m1-26v6m0 6v4m0 4v6m1-35v14m0 5v17m1-40v41m1-47v13m0 1v17m0 3v5m0 6v2m1-36v20m0 5v10m1-36v3m0 7v26m1-38v5m0 10v23m1-42v11m0 12v19m1-49v7m0 2v10m0 5v26m1-39v18m0 3v18m1-33v21m0 1v9m1-30v18m0 11v3m1-35v4m0 9v5m0 15v3m1-42v7m0 10v5m0 19v2m1-45v3m0 39v3m1-50v10m0 37v4m1-48v11m0 35v3m1-49v12m0 29v8m1-47v5m0 33v8m1-43v4m0 33v7m0 1v1m1-44v4m0 4v3m0 30v5m1-50v6m0 40v5m1-54v8m0 40v4m1-55v11m0 40v3m1-52v9m0 40v6m1-57v10m0 47v3m1-63v23m0 40v2m1-64v14m0 6v4m0 33v6m1-59v20m0 33v4m1-54v7m0 42v5m1-54v3m0 49v3m1-55v4m0 45v1m0 5v2m1-65v19m0 44v2m1-66v28m0 35v3m1-62v5m0 15v4m0 31v6m1-45v1m0 1v5m0 32v3m1-44v7m0 34v2m1-46v3m0 38v6m1-48v5m0 33v4m0 3v2m1-53v17m0 24v7m1-47v9m0 4v5m0 26v12m1-49v12m0 29v8m1-48v7m0 33v7m1-47v3m0 33v6m1-43v3m0 32v1m1-38v4m0 32v3m1-39v4m0 32v4m1-41v9m0 4v11m0 13v4m1-42v10m0 6v5m0 2v11m0 4v1m0 1v11m1-47v5m0 34v8m1-46v4m0 37v4m1-48v6m0 39v4m1-48v3m0 37v11m1-52v3m0 38v7m0 2v3m1-55v3m0 41v10m1-53v3m0 40v7m1-48v10m0 1v1m0 32v5m1-45v6m0 36v3m1-46v5m0 28v12m1-46v3m0 29v13m1-45v3m0 19v20m1-43v7m0 3v3m0 7v15m0 1v5m1-42v14m0 10v17m1-39v12m0 9v7m0 6v3m1-36v27m0 7v3m1-38v32m0 2v5m1-39v40m1-38v8m0 6v1m0 1v22m1-36v6m0 5v19m1-29v26m1-24v10m0 1v5m1-17v11m1-10v12m1-6v7m1-3v5m1-13v16m0 1v5m1-22v8m0 4v10m1-22v5m0 10v7m1-27v7m0 12v10m1-32v6m0 14v5m1-24v5m0 12v5m1-21v5m0 11v5m1-21v8m0 11v6m1-22v5m0 13v6m1-23v5m0 18v3m1-26v4m0 18v5m1-28v4m0 16v3m1-26v6m0 16v2m1-24v8m0 12v5m1-24v26m1-25v23m1-21v13m1-13v14m1-14v13m1-7v7m1-3v5m6-1v5m3-7v1m1-2v5m1-4v3m300-8v2m3 2v1"/>
<path stroke="#e6ff1a" d="M208.5 351v3m0 1v2m1-6v7m35-11v2m1-9v8m1-15v9m1-9v5m1-19v9m3 11v7m0 1v1m1-21v5m0 7v10m1-35v14m0 5v4m0 4v6m1-35v14m0 10v4m0 2v5m1-40v7m0 4v7m0 14v12m1-47v4m0 41v2m1-54v9m0 43v1m1-56v13m0 42v2m1-58v17m0 40v1m1-57v8m0 46v2m1-55v2m0 1v4m0 45v1m1-50v4m0 44v1m1-47v4m0 40v2m1-47v4m0 40v3m1-49v3m0 34v6m0 3v3m1-53v5m0 38v3m0 6v1m1-53v3m0 1v1m0 7v3m0 37v2m1-54v3m0 1v2m0 45v2m1-51v6m0 42v1m1-51v4m0 46v2m1-53v4m0 48v2m1-55v3m0 6v6m0 39v2m1-55v4m0 4v7m0 38v2m1-51v10m0 5v3m0 23v8m1-43v41m1-32v29m1-29v22m0 6v3m1-31v16m0 4v16m1-31v11m0 2v1m0 1v17m1-33v4m0 2v24m1-29v27m1-22v1m0 1v13m6-10v1m1-3v6m1-13v11m2 2v12m1-13v15m1-18v6m0 4v4m1-15v5m2 2v3m0 5v6m1-14v5m1-23v7m1-7v10m1-8v12m1-11v5m2 14v1m1-3v11m1-28v9m0 5v15m1-32v10m0 5v19m1-40v39m1-37v37m1-33v5m0 8v22m1-34v5m0 7v17m1-34v33m1-31v33m1-31v4m0 3v5m0 3v22m1-39v14m0 4v22m1-41v6m0 7v27m1-40v4m0 9v27m1-40v5m0 9v10m0 3v13m1-41v18m0 2v3m0 5v19m1-37v40m1-38v8m0 7v2m0 5v11m1-33v2m0 23v8m1-43v10m0 25v7m1-46v6m0 30v13m1-48v7m0 27v11m0 1v5m1-44v4m0 2v11m0 10v4m0 3v10m1-36v14m0 5v16m1-35v6m0 15v10m1-32v5m0 19v8m1-34v3m0 25v6m1-41v8m0 19v4m0 2v5m1-37v10m0 17v6m1-27v7m0 2v1m0 8v6m1-22v8m0 7v1m0 1v9m1-25v11m0 11v1m0 1v5m1-33v10m0 18v5m1-37v6m0 24v3m1-34v8m0 20v4m1-33v10m0 17v5m1-32v22m0 3v7m1-28v4m0 11v13m1-28v6m0 5v2m0 11v4m0 1v1m1-31v34m1-34v22m0 4v11m1-38v6m0 3v5m0 17v8m1-41v3m0 26v8m1-38v2m0 28v8m0 7v2m1-49v4m0 33v4m1-40v14m0 22v4m1-31v1m0 1v5m0 16v11m1-34v9m0 13v14m1-38v16m0 6v6m1-31v4m0 4v21m1-29v5m0 1v13m1-16v3m0 3v7m0 15v1m1-23v10m1-10v9m0 7v6m1-6v7m1-3v2m11-17v4m1-7v3m0 3v4m1-13v6m0 2v4m1-16v14m1-14v12m1-11v11m1-8v5m0 1v5m1-11v5m0 3v5m1-12v18m1-19v18m1-19v16m1-17v5m0 3v8m1-14v12"/>
<path stroke="#fcff03" d="M253.5 328v5m1-7v4m0 1v5m1-22v4m0 7v4m0 1v9m1-31v20m0 2v19m1-43v22m0 2v8m0 9v2m1-42v22m0 1v1m0 13v5m1-39v17m0 18v5m1-48v17m0 27v2m1-46v12m0 31v2m1-45v10m0 32v2m1-42v3m0 34v1m0 1v1m1-41v2m0 30v8m1-43v5m0 17v12m0 6v3m1-45v10m0 14v14m0 3v6m1-49v1m0 1v7m0 3v14m0 15v8m1-49v1m0 2v15m0 18v12m1-43v5m0 22v15m1-46v8m0 12v26m1-47v23m0 5v20m1-50v6m0 6v13m0 5v21m1-49v4m0 7v13m0 4v21m1-39v5m0 3v23m4-10v4m1-4v2m0 1v1m1-12v2m30-2v8m1-7v7m3-1v3m1-3v4m1-13v7m1-9v9m1-8v9m0 10v3m1-10v2m0 3v5m2-8v7m0 2v5m1-20v23m1-25v25m1-33v30m1-28v27m1-23v2m0 11v10m0 4v3m1-12v5m1-13v15m1-17v19m1-23v25m1-27v19m0 4v2m1-22v17m1-14v2m0 1v8m1-8v7m0 1v1m1-5v11m0 1v1m1-18v18m1-26v24m1-23v20m1-19v17m1-5v3m4 0v4m1-21v3m0 5v17m1-30v26m1-28v28m1-28v33m1-22v22m1-20v16m1-14v13m1-8v6m1-21v4m1-3v1m17 8v3m1-3v2m4-3v1m1-1v3m4-5v3"/>
<path stroke="#ffeb00" d="M254.5 330v1m1-2v1m1-2v2m1-2v2m0 8v9m1-18v1m0 1v6m0 4v3m1-17v5m0 10v3m1-26v9m0 15v3m1-32v13m0 16v2m1-33v17m0 12v3m1-37v26m0 6v2m0 1v1m1-38v30m1-30v17m1-14v14m1 0v15m1-23v18m1-26v22m1-23v12m1 2v5m1-5v5m1-4v4"/>
<path stroke="#ffd400" d="M258.5 337v4m1-9v4m0 2v4m1-14v4m0 9v2m1-16v6m0 7v3m1-14v8m0 2v2m1-8v6"/>
<path stroke="#ffbe00" d="M259.5 336v2m1-6v9m1-8v7m1-3v2"/></g>
<g stroke="#000" stroke-width="1.15" fill="none">
<rect x="104.5" y="53.5" width="809.0" height="626.5"/>
<path d="M104.5 680.00h7M913.5 680.00h-7M104.5 653.90h3.5M913.5 653.90h-3.5M104.5 627.79h3.5M913.5 627.79h-3.5M104.5 601.69h3.5M913.5 601.69h-3.5M104.5 575.58h7M913.5 575.58h-7M104.5 549.48h3.5M913.5 549.48h-3.5M104.5 523.38h3.5M913.5 523.38h-3.5M104.5 497.27h3.5M913.5 497.27h-3.5M104.5 471.17h7M913.5 471.17h-7M104.5 445.06h3.5M913.5 445.06h-3.5M104.5 418.96h3.5M913.5 418.96h-3.5M104.5 392.85h3.5M913.5 392.85h-3.5M104.5 366.75h7M913.5 366.75h-7M104.5 340.65h3.5M913.5 340.65h-3.5M104.5 314.54h3.5M913.5 314.54h-3.5M104.5 288.44h3.5M913.5 288.44h-3.5M104.5 262.33h7M913.5 262.33h-7M104.5 236.23h3.5M913.5 236.23h-3.5M104.5 210.12h3.5M913.5 210.12h-3.5M104.5 184.02h3.5M913.5 184.02h-3.5M104.5 157.92h7M913.5 157.92h-7M104.5 131.81h3.5M913.5 131.81h-3.5M104.5 105.71h3.5M913.5 105.71h-3.5M104.5 79.60h3.5M913.5 79.60h-3.5M104.5 53.50h7M913.5 53.50h-7M123.22 680.0v-2.7M123.22 53.5v2.7M145.71 680.0v-2.7M145.71 53.5v2.7M168.21 680.0v-2.7M168.21 53.5v2.7M190.71 680.0v-2.7M190.71 53.5v2.7M213.20 680.0v-2.7M213.20 53.5v2.7M235.70 680.0v-5M235.70 53.5v5M258.20 680.0v-2.7M258.20 53.5v2.7M280.69 680.0v-2.7M280.69 53.5v2.7M303.19 680.0v-2.7M303.19 53.5v2.7M325.69 680.0v-2.7M325.69 53.5v2.7M348.18 680.0v-2.7M348.18 53.5v2.7M370.68 680.0v-5M370.68 53.5v5M393.18 680.0v-2.7M393.18 53.5v2.7M415.67 680.0v-2.7M415.67 53.5v2.7M438.17 680.0v-2.7M438.17 53.5v2.7M460.66 680.0v-2.7M460.66 53.5v2.7M483.16 680.0v-2.7M483.16 53.5v2.7M505.66 680.0v-5M505.66 53.5v5M528.15 680.0v-2.7M528.15 53.5v2.7M550.65 680.0v-2.7M550.65 53.5v2.7M573.15 680.0v-2.7M573.15 53.5v2.7M595.64 680.0v-2.7M595.64 53.5v2.7M618.14 680.0v-2.7M618.14 53.5v2.7M640.64 680.0v-5M640.64 53.5v5M663.13 680.0v-2.7M663.13 53.5v2.7M685.63 680.0v-2.7M685.63 53.5v2.7M708.13 680.0v-2.7M708.13 53.5v2.7M730.62 680.0v-2.7M730.62 53.5v2.7M753.12 680.0v-2.7M753.12 53.5v2.7M775.62 680.0v-5M775.62 53.5v5M798.11 680.0v-2.7M798.11 53.5v2.7M820.61 680.0v-2.7M820.61 53.5v2.7M843.11 680.0v-2.7M843.11 53.5v2.7M865.60 680.0v-2.7M865.60 53.5v2.7M888.10 680.0v-2.7M888.10 53.5v2.7M910.60 680.0v-5M910.60 53.5v5"/>
</g>
<g font-family="Liberation Sans, Arial, Helvetica, sans-serif" font-size="20" fill="#000" stroke="#000" stroke-width="0.3">
<text x="50.4" y="39.8" xml:space="preserve" style="white-space:pre" textLength="943" lengthAdjust="spacing">Equivalent Radar Reflectivity Factor Ze of Hydrometeors   10:01 15.02.2020 - 13:00 15.02.2020 Muenchen</text>
<text x="99.6" y="680.0" text-anchor="end">0</text>
<text x="99.6" y="582.6" text-anchor="end">2</text>
<text x="99.6" y="478.2" text-anchor="end">4</text>
<text x="99.6" y="373.8" text-anchor="end">6</text>
<text x="99.6" y="269.3" text-anchor="end">8</text>
<text x="99.6" y="164.9" text-anchor="end">10</text>
<text x="99.6" y="64.8" text-anchor="end">12</text>
<text x="235.7" y="705" text-anchor="middle">10:30</text>
<text x="370.7" y="705" text-anchor="middle">11:00</text>
<text x="505.7" y="705" text-anchor="middle">11:30</text>
<text x="640.6" y="705" text-anchor="middle">12:00</text>
<text x="775.6" y="705" text-anchor="middle">12:30</text>
<text x="910.6" y="705" text-anchor="middle">13:00</text>
<text x="509" y="727" text-anchor="middle">Time UTC</text>
<text transform="translate(61.8 364) rotate(-90)" text-anchor="middle">Height km</text>
<text transform="translate(1000 366) rotate(-90)" text-anchor="middle">Ze dBZ</text>
<text x="953.2" y="188.0">20</text>
<text x="953.2" y="294.0">0</text>
<text x="953.2" y="400.0">-20</text>
<text x="953.2" y="506.0">-40</text>
<text x="953.2" y="605.0">-60</text>
</g>
<rect x="923" y="128" width="25.5" height="477" fill="url(#cb)" stroke="#333" stroke-width="0.8"/>
<path d="M948.5 578.50h-2M948.5 552.00h-2M948.5 525.50h-2M948.5 499.00h-2M948.5 472.50h-2M948.5 446.00h-2M948.5 419.50h-2M948.5 393.00h-2M948.5 366.50h-2M948.5 340.00h-2M948.5 313.50h-2M948.5 287.00h-2M948.5 260.50h-2M948.5 234.00h-2M948.5 207.50h-2M948.5 181.00h-2M948.5 154.50h-2" stroke="#000" stroke-width="1" fill="none"/>
</svg>
</body></html>
